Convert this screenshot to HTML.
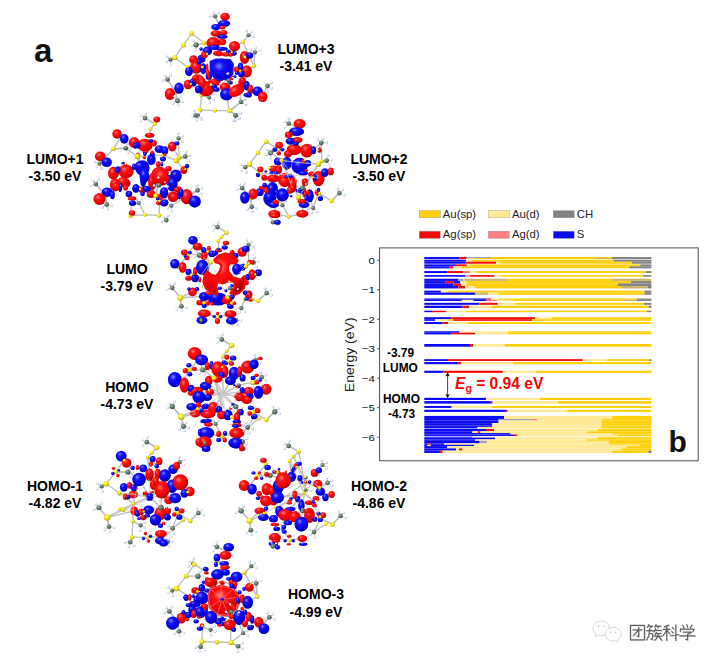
<!DOCTYPE html>
<html><head><meta charset="utf-8"><title>Figure</title>
<style>
html,body{margin:0;padding:0;background:#fff;}
body{width:718px;height:664px;overflow:hidden;font-family:"Liberation Sans",sans-serif;}
svg{display:block;}
text{font-family:"Liberation Sans",sans-serif;}
.lb{font-weight:bold;font-size:14px;fill:#000;text-anchor:middle;}
.tk{font-size:9.6px;fill:#111;text-anchor:end;}
.lg{font-size:10.4px;fill:#222;}
</style></head><body>
<svg width="718" height="664" viewBox="0 0 718 664">
<defs>
<radialGradient id="gR" cx="0.38" cy="0.32" r="0.75"><stop offset="0" stop-color="#ff7a6a"/><stop offset="0.28" stop-color="#fb1212"/><stop offset="0.7" stop-color="#e80000"/><stop offset="1" stop-color="#9c0000"/></radialGradient>
<radialGradient id="gB" cx="0.38" cy="0.32" r="0.75"><stop offset="0" stop-color="#7f86ff"/><stop offset="0.28" stop-color="#1414f6"/><stop offset="0.7" stop-color="#0000e0"/><stop offset="1" stop-color="#000088"/></radialGradient>
<radialGradient id="gY" cx="0.4" cy="0.35" r="0.7"><stop offset="0" stop-color="#ffff9a"/><stop offset="0.5" stop-color="#f4e40a"/><stop offset="1" stop-color="#a89a00"/></radialGradient>
<radialGradient id="gG" cx="0.4" cy="0.35" r="0.7"><stop offset="0" stop-color="#9fb3a4"/><stop offset="0.5" stop-color="#5f7a66"/><stop offset="1" stop-color="#2e4234"/></radialGradient>
<radialGradient id="gW" cx="0.4" cy="0.35" r="0.7"><stop offset="0" stop-color="#ffffff"/><stop offset="0.5" stop-color="#ececfb"/><stop offset="1" stop-color="#8c8cc8"/></radialGradient>
</defs>
<rect width="718" height="664" fill="#fff"/>

<g id="c1">
<g stroke="#bdbdbd" stroke-width="1.35" stroke-linecap="round" fill="none">
<path d="M191.63 33.43L183.49 45.18"/>
<path d="M183.49 45.18L174.82 57.47"/>
<path d="M174.82 57.47L187.11 66.87"/>
<path d="M191.63 33.43L204.28 43.01"/>
<path d="M200.12 109.88L215.12 110.6"/>
<path d="M215.12 110.6L229.04 110.6"/>
<path d="M200.12 109.88L201.57 94.88"/>
<path d="M229.04 110.6L226.87 94.88"/>
<path d="M242.77 41.93L234.46 46.08"/>
<path d="M242.77 41.93L253.98 65.96"/>
<path d="M253.98 65.96L246.75 71.39"/>
<path d="M215.12 16.27L219.64 27.11"/>
<path d="M175.36 91.27L167.59 79.52"/>
<path d="M175.36 91.27L177.17 100.3"/>
<path d="M262.65 96.69L267.53 85.84"/>
<path d="M201.57 94.88L209.16 97.59"/>
<path d="M241.33 102.11L239.52 92.17"/>
<path d="M215.12 16.27L219.64 27.11"/>
<path d="M215.12 16.27L209.92 16.13" stroke="#cfcfd8" stroke-width="1"/>
<path d="M215.12 16.27L213.35 12.02" stroke="#cfcfd8" stroke-width="1"/>
<path d="M215.12 16.27L218.68 12.48" stroke="#cfcfd8" stroke-width="1"/>
<path d="M196.14 44.82L204.28 43.01"/>
<path d="M196.14 44.82L195.1 49.91" stroke="#cfcfd8" stroke-width="1"/>
<path d="M196.14 44.82L191.65 45.82" stroke="#cfcfd8" stroke-width="1"/>
<path d="M196.14 44.82L193.04 40.65" stroke="#cfcfd8" stroke-width="1"/>
<path d="M170.48 59.64L174.82 57.47"/>
<path d="M170.48 59.64L170.7 64.83" stroke="#cfcfd8" stroke-width="1"/>
<path d="M170.48 59.64L166.37 61.7" stroke="#cfcfd8" stroke-width="1"/>
<path d="M170.48 59.64L166.46 56.34" stroke="#cfcfd8" stroke-width="1"/>
<path d="M167.59 79.52L175.36 91.27"/>
<path d="M167.59 79.52L162.46 80.37" stroke="#cfcfd8" stroke-width="1"/>
<path d="M167.59 79.52L165.05 75.68" stroke="#cfcfd8" stroke-width="1"/>
<path d="M167.59 79.52L170.38 75.13" stroke="#cfcfd8" stroke-width="1"/>
<path d="M177.17 100.3L175.36 91.27"/>
<path d="M177.17 100.3L182.24 101.45" stroke="#cfcfd8" stroke-width="1"/>
<path d="M177.17 100.3L178.07 104.81" stroke="#cfcfd8" stroke-width="1"/>
<path d="M177.17 100.3L172.93 103.31" stroke="#cfcfd8" stroke-width="1"/>
<path d="M248.55 35.24L242.77 41.93"/>
<path d="M248.55 35.24L246.35 30.53" stroke="#cfcfd8" stroke-width="1"/>
<path d="M248.55 35.24L251.56 31.76" stroke="#cfcfd8" stroke-width="1"/>
<path d="M248.55 35.24L253.53 36.74" stroke="#cfcfd8" stroke-width="1"/>
<path d="M254.88 52.41L253.98 65.96"/>
<path d="M254.88 52.41L250.28 49.97" stroke="#cfcfd8" stroke-width="1"/>
<path d="M254.88 52.41L255.19 47.82" stroke="#cfcfd8" stroke-width="1"/>
<path d="M254.88 52.41L259.76 50.61" stroke="#cfcfd8" stroke-width="1"/>
<path d="M267.53 85.84L271.66 82.69" stroke="#cfcfd8" stroke-width="1"/>
<path d="M267.53 85.84L271.57 88.04" stroke="#cfcfd8" stroke-width="1"/>
<path d="M267.53 85.84L267.13 91.03" stroke="#cfcfd8" stroke-width="1"/>
<path d="M241.33 102.11L229.04 110.6"/>
<path d="M241.33 102.11L240.37 97" stroke="#cfcfd8" stroke-width="1"/>
<path d="M241.33 102.11L245.11 99.49" stroke="#cfcfd8" stroke-width="1"/>
<path d="M241.33 102.11L245.77 104.81" stroke="#cfcfd8" stroke-width="1"/>
<path d="M209.16 97.59L201.57 94.88"/>
<path d="M209.16 97.59L212.75 93.83" stroke="#cfcfd8" stroke-width="1"/>
<path d="M209.16 97.59L213.49 99.14" stroke="#cfcfd8" stroke-width="1"/>
<path d="M209.16 97.59L209.56 102.77" stroke="#cfcfd8" stroke-width="1"/>
<path d="M197.95 115.66L200.12 109.88"/>
<path d="M197.95 115.66L201.65 119.32" stroke="#cfcfd8" stroke-width="1"/>
<path d="M197.95 115.66L196.34 119.97" stroke="#cfcfd8" stroke-width="1"/>
<path d="M197.95 115.66L192.76 115.98" stroke="#cfcfd8" stroke-width="1"/>
<path d="M235.9 115.3L229.04 110.6"/>
<path d="M235.9 115.3L240.34 112.58" stroke="#cfcfd8" stroke-width="1"/>
<path d="M235.9 115.3L239.7 117.9" stroke="#cfcfd8" stroke-width="1"/>
<path d="M235.9 115.3L234.98 120.42" stroke="#cfcfd8" stroke-width="1"/>
</g>
<circle cx="209.92" cy="16.13" r="1.45" fill="url(#gW)"/>
<circle cx="213.35" cy="12.02" r="1.45" fill="url(#gW)"/>
<circle cx="218.68" cy="12.48" r="1.45" fill="url(#gW)"/>
<circle cx="195.1" cy="49.91" r="1.45" fill="url(#gW)"/>
<circle cx="191.65" cy="45.82" r="1.45" fill="url(#gW)"/>
<circle cx="193.04" cy="40.65" r="1.45" fill="url(#gW)"/>
<circle cx="170.7" cy="64.83" r="1.45" fill="url(#gW)"/>
<circle cx="166.37" cy="61.7" r="1.45" fill="url(#gW)"/>
<circle cx="166.46" cy="56.34" r="1.45" fill="url(#gW)"/>
<circle cx="162.46" cy="80.37" r="1.45" fill="url(#gW)"/>
<circle cx="165.05" cy="75.68" r="1.45" fill="url(#gW)"/>
<circle cx="170.38" cy="75.13" r="1.45" fill="url(#gW)"/>
<circle cx="182.24" cy="101.45" r="1.45" fill="url(#gW)"/>
<circle cx="178.07" cy="104.81" r="1.45" fill="url(#gW)"/>
<circle cx="172.93" cy="103.31" r="1.45" fill="url(#gW)"/>
<circle cx="246.35" cy="30.53" r="1.45" fill="url(#gW)"/>
<circle cx="251.56" cy="31.76" r="1.45" fill="url(#gW)"/>
<circle cx="253.53" cy="36.74" r="1.45" fill="url(#gW)"/>
<circle cx="250.28" cy="49.97" r="1.45" fill="url(#gW)"/>
<circle cx="255.19" cy="47.82" r="1.45" fill="url(#gW)"/>
<circle cx="259.76" cy="50.61" r="1.45" fill="url(#gW)"/>
<circle cx="271.66" cy="82.69" r="1.45" fill="url(#gW)"/>
<circle cx="271.57" cy="88.04" r="1.45" fill="url(#gW)"/>
<circle cx="267.13" cy="91.03" r="1.45" fill="url(#gW)"/>
<circle cx="240.37" cy="97" r="1.45" fill="url(#gW)"/>
<circle cx="245.11" cy="99.49" r="1.45" fill="url(#gW)"/>
<circle cx="245.77" cy="104.81" r="1.45" fill="url(#gW)"/>
<circle cx="212.75" cy="93.83" r="1.45" fill="url(#gW)"/>
<circle cx="213.49" cy="99.14" r="1.45" fill="url(#gW)"/>
<circle cx="209.56" cy="102.77" r="1.45" fill="url(#gW)"/>
<circle cx="201.65" cy="119.32" r="1.45" fill="url(#gW)"/>
<circle cx="196.34" cy="119.97" r="1.45" fill="url(#gW)"/>
<circle cx="192.76" cy="115.98" r="1.45" fill="url(#gW)"/>
<circle cx="240.34" cy="112.58" r="1.45" fill="url(#gW)"/>
<circle cx="239.7" cy="117.9" r="1.45" fill="url(#gW)"/>
<circle cx="234.98" cy="120.42" r="1.45" fill="url(#gW)"/>
<circle cx="215.12" cy="16.27" r="2.11" fill="url(#gG)"/>
<circle cx="196.14" cy="44.82" r="2.58" fill="url(#gG)"/>
<circle cx="170.48" cy="59.64" r="2.11" fill="url(#gG)"/>
<circle cx="167.59" cy="79.52" r="2.35" fill="url(#gG)"/>
<circle cx="177.17" cy="100.3" r="2.11" fill="url(#gG)"/>
<circle cx="248.55" cy="35.24" r="2.11" fill="url(#gG)"/>
<circle cx="254.88" cy="52.41" r="2.11" fill="url(#gG)"/>
<circle cx="267.53" cy="85.84" r="2.35" fill="url(#gG)"/>
<circle cx="241.33" cy="102.11" r="2.11" fill="url(#gG)"/>
<circle cx="209.16" cy="97.59" r="1.88" fill="url(#gG)"/>
<circle cx="197.95" cy="115.66" r="2.11" fill="url(#gG)"/>
<circle cx="235.9" cy="115.3" r="2.11" fill="url(#gG)"/>
<circle cx="191.63" cy="33.43" r="2.35" fill="url(#gY)"/>
<circle cx="183.49" cy="45.18" r="2.35" fill="url(#gY)"/>
<circle cx="174.82" cy="57.47" r="2.58" fill="url(#gY)"/>
<circle cx="204.28" cy="43.01" r="2.35" fill="url(#gY)"/>
<circle cx="187.11" cy="66.87" r="2.11" fill="url(#gY)"/>
<circle cx="175.36" cy="91.27" r="2.11" fill="url(#gY)"/>
<circle cx="201.57" cy="94.88" r="2.35" fill="url(#gY)"/>
<circle cx="200.12" cy="109.88" r="2.35" fill="url(#gY)"/>
<circle cx="215.12" cy="110.6" r="2.11" fill="url(#gY)"/>
<circle cx="229.04" cy="110.6" r="2.35" fill="url(#gY)"/>
<circle cx="242.77" cy="41.93" r="2.11" fill="url(#gY)"/>
<circle cx="253.98" cy="65.96" r="2.11" fill="url(#gY)"/>
<circle cx="219.64" cy="27.11" r="1.64" fill="url(#gY)"/>
<circle cx="231.39" cy="51.51" r="1.64" fill="url(#gY)"/>
<circle cx="239.52" cy="70.48" r="1.64" fill="url(#gY)"/>
<circle cx="211.51" cy="84.94" r="1.88" fill="url(#gY)"/>
<ellipse cx="225.06" cy="16.63" rx="4.77" ry="3.9" fill="url(#gR)"/>
<ellipse cx="224.16" cy="23.49" rx="6.07" ry="3.47" fill="url(#gB)"/>
<ellipse cx="216.02" cy="27.11" rx="4.77" ry="3.04" fill="url(#gB)"/>
<ellipse cx="222.35" cy="27.47" rx="3.04" ry="1.95" fill="url(#gR)"/>
<ellipse cx="216.02" cy="33.43" rx="5.42" ry="3.25" fill="url(#gR)"/>
<ellipse cx="223.61" cy="32.53" rx="3.9" ry="2.6" fill="url(#gR)"/>
<ellipse cx="222.35" cy="36.69" rx="5.42" ry="2.17" fill="url(#gB)"/>
<ellipse cx="213.31" cy="43.01" rx="6.94" ry="6.07" fill="url(#gR)"/>
<ellipse cx="222.35" cy="41.93" rx="3.9" ry="3.25" fill="url(#gR)"/>
<ellipse cx="234.46" cy="46.08" rx="5.64" ry="5.2" fill="url(#gR)"/>
<ellipse cx="207.35" cy="50.96" rx="4.77" ry="4.34" fill="url(#gB)"/>
<ellipse cx="214.22" cy="47.35" rx="5.42" ry="2.6" fill="url(#gB)"/>
<ellipse cx="221.45" cy="48.8" rx="6.51" ry="2.17" fill="url(#gB)"/>
<ellipse cx="217.83" cy="53.31" rx="4.77" ry="2.6" fill="url(#gR)"/>
<ellipse cx="225.96" cy="54.22" rx="4.34" ry="2.17" fill="url(#gR)"/>
<ellipse cx="232.29" cy="53.31" rx="4.34" ry="2.6" fill="url(#gB)"/>
<ellipse cx="244.58" cy="57.47" rx="4.77" ry="6.51" fill="url(#gR)"/>
<ellipse cx="249.46" cy="55.66" rx="3.9" ry="3.04" fill="url(#gB)"/>
<ellipse cx="193.43" cy="59.64" rx="4.34" ry="4.34" fill="url(#gR)"/>
<ellipse cx="201.57" cy="58.73" rx="3.9" ry="3.9" fill="url(#gB)"/>
<ellipse cx="204.28" cy="54.22" rx="3.25" ry="2.6" fill="url(#gR)"/>
<ellipse cx="221.45" cy="68.31" rx="10.84" ry="9.76" fill="url(#gB)"/>
<ellipse cx="196.14" cy="67.23" rx="6.07" ry="6.51" fill="url(#gR)"/>
<ellipse cx="188.92" cy="71.39" rx="3.9" ry="4.77" fill="url(#gB)"/>
<ellipse cx="203.37" cy="68.67" rx="3.25" ry="5.42" fill="url(#gB)"/>
<ellipse cx="237.71" cy="69.58" rx="3.9" ry="3.25" fill="url(#gR)"/>
<ellipse cx="240.42" cy="65.96" rx="2.6" ry="3.25" fill="url(#gB)"/>
<ellipse cx="246.75" cy="71.39" rx="5.2" ry="6.07" fill="url(#gR)"/>
<ellipse cx="241.33" cy="74.1" rx="3.25" ry="3.25" fill="url(#gB)"/>
<ellipse cx="188.01" cy="84.58" rx="4.34" ry="4.77" fill="url(#gR)"/>
<ellipse cx="193.43" cy="82.23" rx="3.25" ry="4.34" fill="url(#gB)"/>
<ellipse cx="178.98" cy="88.19" rx="4.77" ry="5.64" fill="url(#gB)"/>
<ellipse cx="169.94" cy="93.98" rx="5.2" ry="6.07" fill="url(#gR)"/>
<ellipse cx="198.86" cy="79.52" rx="6.51" ry="4.77" fill="url(#gR)" transform="rotate(30 198.86 79.52)"/>
<ellipse cx="206.08" cy="88.55" rx="8.24" ry="7.59" fill="url(#gR)"/>
<ellipse cx="198.86" cy="89.46" rx="3.9" ry="3.9" fill="url(#gB)"/>
<ellipse cx="214.22" cy="81.69" rx="6.51" ry="2.6" fill="url(#gR)"/>
<ellipse cx="208.8" cy="75.9" rx="3.25" ry="3.9" fill="url(#gB)"/>
<ellipse cx="225.06" cy="87.11" rx="5.42" ry="4.34" fill="url(#gR)"/>
<ellipse cx="226.51" cy="94.34" rx="6.51" ry="6.07" fill="url(#gB)"/>
<ellipse cx="236.81" cy="90.36" rx="8.67" ry="5.64" fill="url(#gR)" transform="rotate(-30 236.81 90.36)"/>
<ellipse cx="242.23" cy="82.23" rx="3.9" ry="4.77" fill="url(#gR)"/>
<ellipse cx="246.75" cy="85.84" rx="3.04" ry="4.77" fill="url(#gB)"/>
<ellipse cx="250.36" cy="89.46" rx="3.04" ry="4.77" fill="url(#gR)"/>
<ellipse cx="257.59" cy="91.27" rx="5.2" ry="4.77" fill="url(#gB)"/>
<ellipse cx="262.65" cy="96.69" rx="4.77" ry="5.2" fill="url(#gR)"/>
<ellipse cx="248.55" cy="94.88" rx="3.25" ry="2.6" fill="url(#gB)"/>
<ellipse cx="201.08" cy="49.1" rx="1.81" ry="1.81" fill="url(#gB)"/>
<ellipse cx="201.69" cy="57.53" rx="1.81" ry="1.81" fill="url(#gB)"/>
<ellipse cx="204.7" cy="55.72" rx="3.01" ry="2.41" fill="url(#gR)"/>
<ellipse cx="216.14" cy="47.29" rx="3.01" ry="1.45" fill="url(#gB)"/>
<ellipse cx="219.16" cy="53.92" rx="3.01" ry="2.41" fill="url(#gR)"/>
<ellipse cx="216.14" cy="52.71" rx="2.41" ry="1.81" fill="url(#gR)"/>
<ellipse cx="228.19" cy="50.9" rx="2.41" ry="1.45" fill="url(#gB)"/>
<ellipse cx="230.6" cy="54.52" rx="2.17" ry="2.17" fill="url(#gR)"/>
<ellipse cx="234.82" cy="53.31" rx="1.81" ry="1.81" fill="url(#gB)"/>
<ellipse cx="199.28" cy="61.75" rx="2.41" ry="3.01" fill="url(#gB)"/>
<ellipse cx="203.49" cy="67.17" rx="1.81" ry="3.61" fill="url(#gB)"/>
<ellipse cx="207.11" cy="67.17" rx="1.2" ry="3.61" fill="url(#gR)"/>
<ellipse cx="249.88" cy="55.12" rx="3.01" ry="2.65" fill="url(#gB)"/>
<ellipse cx="240.84" cy="67.17" rx="2.41" ry="3.01" fill="url(#gB)"/>
<ellipse cx="237.23" cy="70.18" rx="2.17" ry="2.17" fill="url(#gR)"/>
<ellipse cx="236.63" cy="73.19" rx="1.81" ry="1.81" fill="url(#gB)"/>
<ellipse cx="231.81" cy="78.01" rx="1.81" ry="2.41" fill="url(#gR)"/>
<ellipse cx="234.82" cy="76.81" rx="1.81" ry="1.45" fill="url(#gB)"/>
<ellipse cx="192.05" cy="81.63" rx="2.41" ry="2.65" fill="url(#gB)"/>
<ellipse cx="195.66" cy="78.01" rx="3.61" ry="2.41" fill="url(#gR)"/>
<ellipse cx="202.29" cy="82.83" rx="3.61" ry="5.42" fill="url(#gR)"/>
<ellipse cx="198.07" cy="88.86" rx="3.01" ry="3.01" fill="url(#gB)"/>
<ellipse cx="214.34" cy="85.84" rx="3.01" ry="2.41" fill="url(#gB)"/>
<ellipse cx="216.14" cy="89.46" rx="3.61" ry="2.41" fill="url(#gB)"/>
<ellipse cx="207.95" cy="73.19" rx="1.69" ry="7.23" fill="url(#gR)" transform="rotate(-15 207.95 73.19)"/>
<ellipse cx="214.94" cy="83.07" rx="4.82" ry="1.45" fill="url(#gR)" transform="rotate(20 214.94 83.07)"/>
<ellipse cx="230.6" cy="82.83" rx="2.41" ry="1.81" fill="url(#gB)"/>
<ellipse cx="242.65" cy="80.42" rx="3.01" ry="3.61" fill="url(#gR)"/>
<ellipse cx="246.87" cy="85.24" rx="1.81" ry="3.61" fill="url(#gB)"/>
<ellipse cx="245.66" cy="94.88" rx="2.41" ry="1.81" fill="url(#gB)"/>
<polygon points="210.72,61.75 215.54,59.7 230,60.18 232.77,64.16 232.29,73.8 227.95,78.98 220,80.18 214.46,77.53 210.72,71.75" fill="url(#gB)" stroke="#1010e8" stroke-width="2.2" stroke-linejoin="round"/>
<circle cx="204.7" cy="42.47" r="1.45" fill="url(#gY)"/>
<circle cx="187.47" cy="66.57" r="1.57" fill="url(#gY)"/>
<circle cx="245.06" cy="57.29" r="1.45" fill="url(#gY)"/>
<circle cx="211.08" cy="84.64" r="1.45" fill="url(#gY)"/>
<circle cx="202.29" cy="67.17" r="1.33" fill="url(#gY)"/>
<circle cx="231.81" cy="52.11" r="1.2" fill="url(#gY)"/>
<circle cx="240.24" cy="70.78" r="1.2" fill="url(#gY)"/>
<circle cx="190.84" cy="84.04" r="1.2" fill="url(#gY)"/>
<circle cx="207.11" cy="53.92" r="1.2" fill="url(#gY)"/>
<circle cx="228.8" cy="80.66" r="2.17" fill="url(#gG)"/>
<circle cx="228.19" cy="73.43" r="1.2" fill="url(#gW)"/>
<circle cx="223.98" cy="81.27" r="1.2" fill="url(#gW)"/>
<circle cx="233.61" cy="78.01" r="0.96" fill="url(#gW)"/>
<circle cx="228.31" cy="80.42" r="1.99" fill="url(#gG)"/>
<circle cx="223.25" cy="81.69" r="1.08" fill="url(#gW)"/>
<circle cx="227.23" cy="73.73" r="1.08" fill="url(#gW)"/>
<circle cx="233.19" cy="77.71" r="0.9" fill="url(#gW)"/>
</g>
<g id="c2">
<g stroke="#bdbdbd" stroke-width="1.35" stroke-linecap="round" fill="none">
<path d="M121.2 136.14L113.43 148.8"/>
<path d="M113.43 148.8L103.49 159.64"/>
<path d="M113.43 148.8L125.72 148.25"/>
<path d="M137.47 156.39L125.72 148.25"/>
<path d="M137.47 156.39L163.49 155.12"/>
<path d="M163.49 155.12L176.69 160.54"/>
<path d="M176.69 160.54L185.18 156.39"/>
<path d="M179.04 157.47L178.49 138.31"/>
<path d="M130.6 215.66L145.06 214.76"/>
<path d="M145.06 214.76L159.16 215.3"/>
<path d="M130.6 215.66L131.51 201.2"/>
<path d="M159.16 215.3L159.52 201.2"/>
<path d="M145.06 118.07L155 123.86"/>
<path d="M155 123.86L150.48 128.92"/>
<path d="M150.48 128.92L148.67 136.14"/>
<path d="M105.3 195.42L95.9 184.04"/>
<path d="M105.3 195.42L106.75 204.46"/>
<path d="M137.47 156.39L142.35 184.94"/>
<path d="M137.47 156.39L155.9 195.42"/>
<path d="M163.49 155.12L155.9 195.42"/>
<path d="M186.63 196.69L197.47 190.36"/>
<path d="M176.69 160.54L183.92 170.12"/>
<path d="M172.17 146.63L179.04 157.47"/>
<path d="M145.06 118.07L155 123.86"/>
<path d="M145.06 118.07L140.84 121.11" stroke="#cfcfd8" stroke-width="1"/>
<path d="M145.06 118.07L141.08 115.76" stroke="#cfcfd8" stroke-width="1"/>
<path d="M145.06 118.07L145.61 112.9" stroke="#cfcfd8" stroke-width="1"/>
<path d="M178.49 138.31L178.01 133.14" stroke="#cfcfd8" stroke-width="1"/>
<path d="M178.49 138.31L182.5 136.06" stroke="#cfcfd8" stroke-width="1"/>
<path d="M178.49 138.31L182.67 141.41" stroke="#cfcfd8" stroke-width="1"/>
<path d="M185.18 156.39L179.04 157.47"/>
<path d="M185.18 156.39L186.45 151.34" stroke="#cfcfd8" stroke-width="1"/>
<path d="M185.18 156.39L189.71 155.59" stroke="#cfcfd8" stroke-width="1"/>
<path d="M185.18 156.39L188.1 160.69" stroke="#cfcfd8" stroke-width="1"/>
<path d="M125.72 148.25L113.43 148.8"/>
<path d="M125.72 148.25L127.64 143.42" stroke="#cfcfd8" stroke-width="1"/>
<path d="M125.72 148.25L130.32 148.05" stroke="#cfcfd8" stroke-width="1"/>
<path d="M125.72 148.25L128.05 152.9" stroke="#cfcfd8" stroke-width="1"/>
<path d="M99.52 163.61L103.49 159.64"/>
<path d="M99.52 163.61L101.37 168.47" stroke="#cfcfd8" stroke-width="1"/>
<path d="M99.52 163.61L96.27 166.87" stroke="#cfcfd8" stroke-width="1"/>
<path d="M99.52 163.61L94.66 161.76" stroke="#cfcfd8" stroke-width="1"/>
<path d="M95.9 184.04L105.3 195.42"/>
<path d="M95.9 184.04L90.89 185.42" stroke="#cfcfd8" stroke-width="1"/>
<path d="M95.9 184.04L92.98 180.49" stroke="#cfcfd8" stroke-width="1"/>
<path d="M95.9 184.04L98.21 179.38" stroke="#cfcfd8" stroke-width="1"/>
<path d="M106.75 204.46L105.3 195.42"/>
<path d="M106.75 204.46L111.77 205.81" stroke="#cfcfd8" stroke-width="1"/>
<path d="M106.75 204.46L107.47 209" stroke="#cfcfd8" stroke-width="1"/>
<path d="M106.75 204.46L102.4 207.31" stroke="#cfcfd8" stroke-width="1"/>
<path d="M138.73 203.01L145.06 214.76"/>
<path d="M138.73 203.01L133.55 203.39" stroke="#cfcfd8" stroke-width="1"/>
<path d="M138.73 203.01L136.55 198.96" stroke="#cfcfd8" stroke-width="1"/>
<path d="M138.73 203.01L141.91 198.89" stroke="#cfcfd8" stroke-width="1"/>
<path d="M197.47 190.36L183.92 198.49"/>
<path d="M197.47 190.36L196.85 185.2" stroke="#cfcfd8" stroke-width="1"/>
<path d="M197.47 190.36L201.41 187.99" stroke="#cfcfd8" stroke-width="1"/>
<path d="M197.47 190.36L201.73 193.34" stroke="#cfcfd8" stroke-width="1"/>
<path d="M171.27 205.72L183.92 198.49"/>
<path d="M171.27 205.72L171.78 210.9" stroke="#cfcfd8" stroke-width="1"/>
<path d="M171.27 205.72L167.27 208.01" stroke="#cfcfd8" stroke-width="1"/>
<path d="M171.27 205.72L167.07 202.66" stroke="#cfcfd8" stroke-width="1"/>
<path d="M177.59 100.9L174.73 96.56" stroke="#cfcfd8" stroke-width="1"/>
<path d="M177.59 100.9L180.06 97.02" stroke="#cfcfd8" stroke-width="1"/>
<path d="M177.59 100.9L182.74 101.66" stroke="#cfcfd8" stroke-width="1"/>
<path d="M195.66 115.36L194.35 110.33" stroke="#cfcfd8" stroke-width="1"/>
<path d="M195.66 115.36L199.25 112.48" stroke="#cfcfd8" stroke-width="1"/>
<path d="M195.66 115.36L200.29 117.74" stroke="#cfcfd8" stroke-width="1"/>
</g>
<circle cx="140.84" cy="121.11" r="1.45" fill="url(#gW)"/>
<circle cx="141.08" cy="115.76" r="1.45" fill="url(#gW)"/>
<circle cx="145.61" cy="112.9" r="1.45" fill="url(#gW)"/>
<circle cx="178.01" cy="133.14" r="1.45" fill="url(#gW)"/>
<circle cx="182.5" cy="136.06" r="1.45" fill="url(#gW)"/>
<circle cx="182.67" cy="141.41" r="1.45" fill="url(#gW)"/>
<circle cx="186.45" cy="151.34" r="1.45" fill="url(#gW)"/>
<circle cx="189.71" cy="155.59" r="1.45" fill="url(#gW)"/>
<circle cx="188.1" cy="160.69" r="1.45" fill="url(#gW)"/>
<circle cx="127.64" cy="143.42" r="1.45" fill="url(#gW)"/>
<circle cx="130.32" cy="148.05" r="1.45" fill="url(#gW)"/>
<circle cx="128.05" cy="152.9" r="1.45" fill="url(#gW)"/>
<circle cx="101.37" cy="168.47" r="1.45" fill="url(#gW)"/>
<circle cx="96.27" cy="166.87" r="1.45" fill="url(#gW)"/>
<circle cx="94.66" cy="161.76" r="1.45" fill="url(#gW)"/>
<circle cx="90.89" cy="185.42" r="1.45" fill="url(#gW)"/>
<circle cx="92.98" cy="180.49" r="1.45" fill="url(#gW)"/>
<circle cx="98.21" cy="179.38" r="1.45" fill="url(#gW)"/>
<circle cx="111.77" cy="205.81" r="1.45" fill="url(#gW)"/>
<circle cx="107.47" cy="209" r="1.45" fill="url(#gW)"/>
<circle cx="102.4" cy="207.31" r="1.45" fill="url(#gW)"/>
<circle cx="133.55" cy="203.39" r="1.45" fill="url(#gW)"/>
<circle cx="136.55" cy="198.96" r="1.45" fill="url(#gW)"/>
<circle cx="141.91" cy="198.89" r="1.45" fill="url(#gW)"/>
<circle cx="196.85" cy="185.2" r="1.45" fill="url(#gW)"/>
<circle cx="201.41" cy="187.99" r="1.45" fill="url(#gW)"/>
<circle cx="201.73" cy="193.34" r="1.45" fill="url(#gW)"/>
<circle cx="171.78" cy="210.9" r="1.45" fill="url(#gW)"/>
<circle cx="167.27" cy="208.01" r="1.45" fill="url(#gW)"/>
<circle cx="167.07" cy="202.66" r="1.45" fill="url(#gW)"/>
<circle cx="174.73" cy="96.56" r="1.45" fill="url(#gW)"/>
<circle cx="180.06" cy="97.02" r="1.45" fill="url(#gW)"/>
<circle cx="182.74" cy="101.66" r="1.45" fill="url(#gW)"/>
<circle cx="194.35" cy="110.33" r="1.45" fill="url(#gW)"/>
<circle cx="199.25" cy="112.48" r="1.45" fill="url(#gW)"/>
<circle cx="200.29" cy="117.74" r="1.45" fill="url(#gW)"/>
<circle cx="145.06" cy="118.07" r="2.35" fill="url(#gG)"/>
<circle cx="178.49" cy="138.31" r="2.11" fill="url(#gG)"/>
<circle cx="185.18" cy="156.39" r="2.35" fill="url(#gG)"/>
<circle cx="125.72" cy="148.25" r="2.35" fill="url(#gG)"/>
<circle cx="99.52" cy="163.61" r="2.11" fill="url(#gG)"/>
<circle cx="95.9" cy="184.04" r="2.35" fill="url(#gG)"/>
<circle cx="106.75" cy="204.46" r="2.35" fill="url(#gG)"/>
<circle cx="138.73" cy="203.01" r="2.11" fill="url(#gG)"/>
<circle cx="197.47" cy="190.36" r="2.35" fill="url(#gG)"/>
<circle cx="171.27" cy="205.72" r="2.11" fill="url(#gG)"/>
<circle cx="177.59" cy="100.9" r="2.35" fill="url(#gG)"/>
<circle cx="195.66" cy="115.36" r="2.35" fill="url(#gG)"/>
<circle cx="155" cy="123.86" r="2.11" fill="url(#gY)"/>
<circle cx="150.48" cy="128.92" r="1.88" fill="url(#gY)"/>
<circle cx="121.2" cy="136.14" r="1.88" fill="url(#gY)"/>
<circle cx="113.43" cy="148.8" r="2.35" fill="url(#gY)"/>
<circle cx="137.47" cy="156.39" r="2.82" fill="url(#gY)"/>
<circle cx="163.49" cy="155.12" r="2.11" fill="url(#gY)"/>
<circle cx="176.69" cy="160.54" r="2.58" fill="url(#gY)"/>
<circle cx="179.04" cy="157.47" r="2.11" fill="url(#gY)"/>
<circle cx="103.49" cy="159.64" r="2.11" fill="url(#gY)"/>
<circle cx="105.3" cy="195.42" r="2.35" fill="url(#gY)"/>
<circle cx="155.9" cy="195.42" r="2.58" fill="url(#gY)"/>
<circle cx="130.6" cy="215.66" r="2.35" fill="url(#gY)"/>
<circle cx="145.06" cy="214.76" r="2.11" fill="url(#gY)"/>
<circle cx="159.16" cy="215.3" r="2.35" fill="url(#gY)"/>
<circle cx="183.92" cy="198.49" r="1.88" fill="url(#gY)"/>
<circle cx="186.63" cy="168.67" r="1.64" fill="url(#gY)"/>
<ellipse cx="156.81" cy="119.52" rx="3.47" ry="3.04" fill="url(#gR)"/>
<ellipse cx="117.05" cy="133.98" rx="4.77" ry="4.77" fill="url(#gR)"/>
<ellipse cx="124.28" cy="138.86" rx="4.34" ry="4.77" fill="url(#gB)"/>
<ellipse cx="149.58" cy="135.24" rx="4.77" ry="2.6" fill="url(#gR)"/>
<ellipse cx="134.22" cy="142.47" rx="5.42" ry="5.42" fill="url(#gR)"/>
<ellipse cx="145.06" cy="145.18" rx="7.59" ry="6.51" fill="url(#gR)"/>
<ellipse cx="137.83" cy="145.18" rx="2.6" ry="3.25" fill="url(#gB)"/>
<ellipse cx="159.52" cy="149.16" rx="4.77" ry="3.9" fill="url(#gB)"/>
<ellipse cx="164.94" cy="150.6" rx="3.25" ry="4.34" fill="url(#gB)"/>
<ellipse cx="154.1" cy="143.37" rx="2.6" ry="3.25" fill="url(#gR)"/>
<ellipse cx="172.17" cy="146.63" rx="4.34" ry="4.77" fill="url(#gR)"/>
<ellipse cx="176.69" cy="143.37" rx="2.6" ry="2.17" fill="url(#gB)"/>
<ellipse cx="100.24" cy="156.39" rx="5.42" ry="4.77" fill="url(#gR)"/>
<ellipse cx="106.75" cy="162.35" rx="5.2" ry="4.77" fill="url(#gB)"/>
<ellipse cx="151.39" cy="159.64" rx="4.34" ry="5.42" fill="url(#gB)"/>
<ellipse cx="142.35" cy="167.77" rx="7.23" ry="7.59" fill="url(#gB)"/>
<ellipse cx="113.43" cy="173.19" rx="5.42" ry="6.33" fill="url(#gR)"/>
<ellipse cx="126.08" cy="171.39" rx="7.59" ry="6.87" fill="url(#gR)"/>
<ellipse cx="117.95" cy="169.58" rx="2.6" ry="3.25" fill="url(#gB)"/>
<ellipse cx="115.24" cy="184.94" rx="5.42" ry="6.51" fill="url(#gR)"/>
<ellipse cx="125.18" cy="183.13" rx="5.42" ry="4.34" fill="url(#gR)"/>
<ellipse cx="120.12" cy="186.75" rx="2.17" ry="5.42" fill="url(#gB)"/>
<ellipse cx="159.52" cy="174.1" rx="8.13" ry="7.23" fill="url(#gR)"/>
<ellipse cx="152.29" cy="181.33" rx="4.34" ry="8.67" fill="url(#gR)"/>
<ellipse cx="143.25" cy="179.52" rx="3.25" ry="7.59" fill="url(#gB)"/>
<ellipse cx="175.78" cy="175.9" rx="6.07" ry="6.51" fill="url(#gB)"/>
<ellipse cx="172.17" cy="184.94" rx="5.42" ry="6.51" fill="url(#gB)"/>
<ellipse cx="168.55" cy="168.67" rx="3.25" ry="2.6" fill="url(#gR)"/>
<ellipse cx="183.92" cy="170.12" rx="3.25" ry="3.9" fill="url(#gR)"/>
<ellipse cx="186.99" cy="165.96" rx="2.17" ry="2.17" fill="url(#gB)"/>
<ellipse cx="107.11" cy="192.17" rx="5.42" ry="4.77" fill="url(#gB)"/>
<ellipse cx="99.52" cy="199.04" rx="6.07" ry="6.07" fill="url(#gR)"/>
<ellipse cx="136.02" cy="188.55" rx="3.9" ry="4.34" fill="url(#gB)"/>
<ellipse cx="128.8" cy="193.98" rx="3.25" ry="3.25" fill="url(#gB)"/>
<ellipse cx="132.41" cy="198.49" rx="3.9" ry="2.17" fill="url(#gR)"/>
<ellipse cx="132.77" cy="203.37" rx="3.47" ry="2.6" fill="url(#gB)"/>
<ellipse cx="143.25" cy="190.36" rx="2.17" ry="3.25" fill="url(#gR)"/>
<ellipse cx="147.77" cy="189.46" rx="3.25" ry="3.25" fill="url(#gB)"/>
<ellipse cx="151.39" cy="193.98" rx="3.9" ry="3.9" fill="url(#gR)"/>
<ellipse cx="164.04" cy="193.07" rx="4.34" ry="5.42" fill="url(#gB)"/>
<ellipse cx="158.61" cy="196.69" rx="2.6" ry="2.6" fill="url(#gR)"/>
<ellipse cx="159.52" cy="203.01" rx="3.25" ry="2.17" fill="url(#gR)"/>
<ellipse cx="164.04" cy="203.37" rx="3.9" ry="3.25" fill="url(#gB)"/>
<ellipse cx="173.07" cy="196.69" rx="5.42" ry="5.42" fill="url(#gR)"/>
<ellipse cx="179.4" cy="193.98" rx="2.6" ry="5.42" fill="url(#gB)"/>
<ellipse cx="186.63" cy="196.69" rx="6.07" ry="7.59" fill="url(#gR)"/>
<ellipse cx="194.76" cy="201.57" rx="6.07" ry="6.07" fill="url(#gB)"/>
<ellipse cx="132.05" cy="212.95" rx="3.25" ry="2.6" fill="url(#gR)"/>
<ellipse cx="178.49" cy="189.46" rx="3.25" ry="3.25" fill="url(#gR)"/>
<ellipse cx="152.29" cy="154.22" rx="2.6" ry="2.17" fill="url(#gB)"/>
<ellipse cx="137.83" cy="154.22" rx="1.73" ry="1.73" fill="url(#gR)"/>
<ellipse cx="145.06" cy="152.41" rx="2.17" ry="2.17" fill="url(#gB)"/>
<ellipse cx="134.22" cy="166.87" rx="2.17" ry="3.25" fill="url(#gB)"/>
<ellipse cx="135.3" cy="145.66" rx="2.41" ry="3.01" fill="url(#gB)"/>
<ellipse cx="150.96" cy="140.84" rx="2.41" ry="1.81" fill="url(#gB)"/>
<ellipse cx="153.98" cy="143.86" rx="2.41" ry="2.41" fill="url(#gR)"/>
<ellipse cx="146.14" cy="151.69" rx="2.41" ry="1.45" fill="url(#gR)"/>
<ellipse cx="152.17" cy="152.29" rx="1.81" ry="1.81" fill="url(#gR)"/>
<ellipse cx="144.94" cy="154.1" rx="1.81" ry="1.81" fill="url(#gB)"/>
<ellipse cx="144.34" cy="157.71" rx="1.81" ry="1.45" fill="url(#gR)"/>
<ellipse cx="151.57" cy="158.92" rx="3.01" ry="3.01" fill="url(#gB)"/>
<ellipse cx="163.01" cy="158.92" rx="3.01" ry="2.41" fill="url(#gB)"/>
<ellipse cx="164.82" cy="154.7" rx="1.45" ry="1.45" fill="url(#gR)"/>
<ellipse cx="158.19" cy="164.34" rx="2.41" ry="3.01" fill="url(#gR)"/>
<ellipse cx="161.81" cy="164.34" rx="1.45" ry="2.41" fill="url(#gB)"/>
<ellipse cx="140.12" cy="166.14" rx="5.42" ry="4.82" fill="url(#gB)"/>
<ellipse cx="144.34" cy="175.78" rx="4.82" ry="7.23" fill="url(#gB)"/>
<ellipse cx="123.25" cy="181.81" rx="6.02" ry="4.82" fill="url(#gR)"/>
<ellipse cx="117.23" cy="170.36" rx="1.81" ry="3.01" fill="url(#gB)"/>
<ellipse cx="123.25" cy="163.13" rx="1.81" ry="1.45" fill="url(#gB)"/>
<ellipse cx="125.66" cy="164.34" rx="1.45" ry="1.2" fill="url(#gR)"/>
<ellipse cx="161.81" cy="176.99" rx="8.43" ry="8.67" fill="url(#gR)"/>
<ellipse cx="151.57" cy="181.81" rx="3.01" ry="6.02" fill="url(#gR)"/>
<ellipse cx="175.66" cy="175.18" rx="4.82" ry="4.82" fill="url(#gB)"/>
<ellipse cx="172.65" cy="183.01" rx="4.82" ry="5.42" fill="url(#gB)"/>
<ellipse cx="169.04" cy="175.18" rx="1.81" ry="1.81" fill="url(#gB)"/>
<ellipse cx="183.49" cy="170.36" rx="3.01" ry="2.65" fill="url(#gR)"/>
<ellipse cx="186.51" cy="166.14" rx="1.81" ry="1.45" fill="url(#gB)"/>
<ellipse cx="116.02" cy="186.63" rx="4.22" ry="4.22" fill="url(#gR)"/>
<ellipse cx="120.84" cy="186.63" rx="1.45" ry="3.61" fill="url(#gB)"/>
<ellipse cx="125.66" cy="187.83" rx="2.41" ry="3.01" fill="url(#gR)"/>
<ellipse cx="135.9" cy="187.83" rx="3.01" ry="3.61" fill="url(#gB)"/>
<ellipse cx="140.72" cy="189.64" rx="1.81" ry="3.01" fill="url(#gR)"/>
<ellipse cx="146.14" cy="189.04" rx="3.61" ry="3.01" fill="url(#gB)"/>
<ellipse cx="149.76" cy="194.46" rx="3.01" ry="3.01" fill="url(#gR)"/>
<ellipse cx="142.53" cy="193.86" rx="2.41" ry="2.41" fill="url(#gB)"/>
<ellipse cx="129.28" cy="193.86" rx="3.01" ry="2.41" fill="url(#gB)"/>
<ellipse cx="130.48" cy="198.67" rx="3.01" ry="1.45" fill="url(#gR)"/>
<ellipse cx="132.29" cy="202.89" rx="3.37" ry="2.41" fill="url(#gB)"/>
<ellipse cx="164.22" cy="191.45" rx="3.61" ry="4.22" fill="url(#gB)"/>
<ellipse cx="160.6" cy="198.67" rx="2.41" ry="1.81" fill="url(#gR)"/>
<ellipse cx="164.82" cy="202.29" rx="3.61" ry="3.01" fill="url(#gB)"/>
<ellipse cx="158.19" cy="202.89" rx="2.41" ry="1.45" fill="url(#gR)"/>
<ellipse cx="157.59" cy="198.67" rx="1.81" ry="1.81" fill="url(#gB)"/>
<ellipse cx="173.86" cy="196.87" rx="4.22" ry="4.22" fill="url(#gR)"/>
<ellipse cx="176.87" cy="189.64" rx="3.01" ry="2.41" fill="url(#gR)"/>
<ellipse cx="181.08" cy="192.65" rx="2.41" ry="4.22" fill="url(#gB)"/>
<ellipse cx="112.41" cy="195.06" rx="2.41" ry="4.22" fill="url(#gB)"/>
<circle cx="137.47" cy="156.27" r="2.41" fill="url(#gY)"/>
<circle cx="176.02" cy="160.72" r="2.17" fill="url(#gY)"/>
<circle cx="179.28" cy="157.71" r="1.2" fill="url(#gY)"/>
<circle cx="155.54" cy="195.66" r="2.41" fill="url(#gY)"/>
<circle cx="169.64" cy="173.98" r="1.2" fill="url(#gY)"/>
<circle cx="140.12" cy="189.04" r="1.2" fill="url(#gY)"/>
<circle cx="125.66" cy="163.73" r="1.2" fill="url(#gY)"/>
<circle cx="159.4" cy="201.08" r="1.2" fill="url(#gY)"/>
<circle cx="185.3" cy="169.16" r="1.2" fill="url(#gY)"/>
<circle cx="125.66" cy="148.07" r="1.93" fill="url(#gG)"/>
<circle cx="158.8" cy="185.42" r="2.41" fill="url(#gG)"/>
<circle cx="153.98" cy="185.66" r="1.2" fill="url(#gW)"/>
<circle cx="158.19" cy="177.59" r="1.2" fill="url(#gW)"/>
<circle cx="167.83" cy="186.39" r="1.2" fill="url(#gW)"/>
<circle cx="158.98" cy="184.94" r="2.17" fill="url(#gG)"/>
<circle cx="154.1" cy="185.3" r="1.08" fill="url(#gW)"/>
<circle cx="158.61" cy="177.71" r="1.08" fill="url(#gW)"/>
<circle cx="164.94" cy="182.23" r="0.9" fill="url(#gW)"/>
<circle cx="167.65" cy="186.75" r="0.9" fill="url(#gW)"/>
</g>
<g id="c3">
<g stroke="#bdbdbd" stroke-width="1.35" stroke-linecap="round" fill="none">
<path d="M266.14 141.57L258.01 152.77"/>
<path d="M258.01 152.77L249.52 164.16"/>
<path d="M249.52 164.16L245.36 167.23"/>
<path d="M249.52 164.16L259.82 173.19"/>
<path d="M266.14 141.57L278.43 149.16"/>
<path d="M270.66 152.77L281.51 160.54"/>
<path d="M281.51 160.54L318.55 164.16"/>
<path d="M318.55 164.16L326.69 160.54"/>
<path d="M321.81 161.08L321.27 142.83"/>
<path d="M321.27 142.83L313.49 150.24"/>
<path d="M274.28 213.86L288.73 216.57"/>
<path d="M288.73 216.57L302.29 213.86"/>
<path d="M250.78 197.59L242.29 188.01"/>
<path d="M250.78 197.59L251.69 206.63"/>
<path d="M318.55 193.07L331.57 200.84"/>
<path d="M331.57 200.84L339.34 193.07"/>
<path d="M281.51 160.54L292.35 184.04"/>
<path d="M281.51 160.54L298.31 197.59"/>
<path d="M318.55 164.16L298.31 197.59"/>
<path d="M318.55 164.16L302.29 188.01"/>
<path d="M259.82 173.19L292.35 175.9"/>
<path d="M313.13 208.07L309.52 197.59"/>
<path d="M274.28 213.86L275.18 206.63"/>
<path d="M302.29 213.86L303.19 206.63"/>
<path d="M288.73 123.49L298.67 128.01"/>
<path d="M288.73 123.49L284.84 126.94" stroke="#cfcfd8" stroke-width="1"/>
<path d="M288.73 123.49L284.55 121.59" stroke="#cfcfd8" stroke-width="1"/>
<path d="M288.73 123.49L288.77 118.29" stroke="#cfcfd8" stroke-width="1"/>
<path d="M321.27 142.83L318.55 150.6"/>
<path d="M321.27 142.83L317.48 139.26" stroke="#cfcfd8" stroke-width="1"/>
<path d="M321.27 142.83L322.78 138.49" stroke="#cfcfd8" stroke-width="1"/>
<path d="M321.27 142.83L326.45 142.39" stroke="#cfcfd8" stroke-width="1"/>
<path d="M326.69 160.54L321.81 161.08"/>
<path d="M326.69 160.54L328.27 155.59" stroke="#cfcfd8" stroke-width="1"/>
<path d="M326.69 160.54L331.26 160.03" stroke="#cfcfd8" stroke-width="1"/>
<path d="M326.69 160.54L329.32 165.02" stroke="#cfcfd8" stroke-width="1"/>
<path d="M270.66 152.77L278.43 149.16"/>
<path d="M270.66 152.77L270.74 157.97" stroke="#cfcfd8" stroke-width="1"/>
<path d="M270.66 152.77L266.49 154.71" stroke="#cfcfd8" stroke-width="1"/>
<path d="M270.66 152.77L266.73 149.36" stroke="#cfcfd8" stroke-width="1"/>
<path d="M245.36 167.23L249.52 164.16"/>
<path d="M245.36 167.23L246.47 172.31" stroke="#cfcfd8" stroke-width="1"/>
<path d="M245.36 167.23L241.66 169.96" stroke="#cfcfd8" stroke-width="1"/>
<path d="M245.36 167.23L240.83 164.67" stroke="#cfcfd8" stroke-width="1"/>
<path d="M242.29 188.01L250.78 197.59"/>
<path d="M242.29 188.01L237.33 189.57" stroke="#cfcfd8" stroke-width="1"/>
<path d="M242.29 188.01L239.24 184.57" stroke="#cfcfd8" stroke-width="1"/>
<path d="M242.29 188.01L244.43 183.27" stroke="#cfcfd8" stroke-width="1"/>
<path d="M251.69 206.63L250.78 197.59"/>
<path d="M251.69 206.63L256.62 208.27" stroke="#cfcfd8" stroke-width="1"/>
<path d="M251.69 206.63L252.14 211.2" stroke="#cfcfd8" stroke-width="1"/>
<path d="M251.69 206.63L247.18 209.21" stroke="#cfcfd8" stroke-width="1"/>
<path d="M282.41 205.18L288.73 216.57"/>
<path d="M282.41 205.18L277.23 205.63" stroke="#cfcfd8" stroke-width="1"/>
<path d="M282.41 205.18L280.18 201.16" stroke="#cfcfd8" stroke-width="1"/>
<path d="M282.41 205.18L285.53 201.02" stroke="#cfcfd8" stroke-width="1"/>
<path d="M339.34 193.07L331.57 200.84"/>
<path d="M339.34 193.07L337.48 188.21" stroke="#cfcfd8" stroke-width="1"/>
<path d="M339.34 193.07L342.59 189.82" stroke="#cfcfd8" stroke-width="1"/>
<path d="M339.34 193.07L344.2 194.93" stroke="#cfcfd8" stroke-width="1"/>
<path d="M313.13 208.07L318.55 193.07"/>
<path d="M313.13 208.07L316.87 211.68" stroke="#cfcfd8" stroke-width="1"/>
<path d="M313.13 208.07L311.57 212.4" stroke="#cfcfd8" stroke-width="1"/>
<path d="M313.13 208.07L307.95 208.46" stroke="#cfcfd8" stroke-width="1"/>
<path d="M240.84 101.81L230.9 110.84"/>
<path d="M240.84 101.81L239.22 96.87" stroke="#cfcfd8" stroke-width="1"/>
<path d="M240.84 101.81L244.25 98.71" stroke="#cfcfd8" stroke-width="1"/>
<path d="M240.84 101.81L245.61 103.89" stroke="#cfcfd8" stroke-width="1"/>
<path d="M235.42 115.36L230.9 110.84"/>
<path d="M235.42 115.36L240.28 113.51" stroke="#cfcfd8" stroke-width="1"/>
<path d="M235.42 115.36L238.67 118.61" stroke="#cfcfd8" stroke-width="1"/>
<path d="M235.42 115.36L233.57 120.22" stroke="#cfcfd8" stroke-width="1"/>
</g>
<circle cx="284.84" cy="126.94" r="1.45" fill="url(#gW)"/>
<circle cx="284.55" cy="121.59" r="1.45" fill="url(#gW)"/>
<circle cx="288.77" cy="118.29" r="1.45" fill="url(#gW)"/>
<circle cx="317.48" cy="139.26" r="1.45" fill="url(#gW)"/>
<circle cx="322.78" cy="138.49" r="1.45" fill="url(#gW)"/>
<circle cx="326.45" cy="142.39" r="1.45" fill="url(#gW)"/>
<circle cx="328.27" cy="155.59" r="1.45" fill="url(#gW)"/>
<circle cx="331.26" cy="160.03" r="1.45" fill="url(#gW)"/>
<circle cx="329.32" cy="165.02" r="1.45" fill="url(#gW)"/>
<circle cx="270.74" cy="157.97" r="1.45" fill="url(#gW)"/>
<circle cx="266.49" cy="154.71" r="1.45" fill="url(#gW)"/>
<circle cx="266.73" cy="149.36" r="1.45" fill="url(#gW)"/>
<circle cx="246.47" cy="172.31" r="1.45" fill="url(#gW)"/>
<circle cx="241.66" cy="169.96" r="1.45" fill="url(#gW)"/>
<circle cx="240.83" cy="164.67" r="1.45" fill="url(#gW)"/>
<circle cx="237.33" cy="189.57" r="1.45" fill="url(#gW)"/>
<circle cx="239.24" cy="184.57" r="1.45" fill="url(#gW)"/>
<circle cx="244.43" cy="183.27" r="1.45" fill="url(#gW)"/>
<circle cx="256.62" cy="208.27" r="1.45" fill="url(#gW)"/>
<circle cx="252.14" cy="211.2" r="1.45" fill="url(#gW)"/>
<circle cx="247.18" cy="209.21" r="1.45" fill="url(#gW)"/>
<circle cx="277.23" cy="205.63" r="1.45" fill="url(#gW)"/>
<circle cx="280.18" cy="201.16" r="1.45" fill="url(#gW)"/>
<circle cx="285.53" cy="201.02" r="1.45" fill="url(#gW)"/>
<circle cx="337.48" cy="188.21" r="1.45" fill="url(#gW)"/>
<circle cx="342.59" cy="189.82" r="1.45" fill="url(#gW)"/>
<circle cx="344.2" cy="194.93" r="1.45" fill="url(#gW)"/>
<circle cx="316.87" cy="211.68" r="1.45" fill="url(#gW)"/>
<circle cx="311.57" cy="212.4" r="1.45" fill="url(#gW)"/>
<circle cx="307.95" cy="208.46" r="1.45" fill="url(#gW)"/>
<circle cx="239.22" cy="96.87" r="1.45" fill="url(#gW)"/>
<circle cx="244.25" cy="98.71" r="1.45" fill="url(#gW)"/>
<circle cx="245.61" cy="103.89" r="1.45" fill="url(#gW)"/>
<circle cx="240.28" cy="113.51" r="1.45" fill="url(#gW)"/>
<circle cx="238.67" cy="118.61" r="1.45" fill="url(#gW)"/>
<circle cx="233.57" cy="120.22" r="1.45" fill="url(#gW)"/>
<circle cx="288.73" cy="123.49" r="2.35" fill="url(#gG)"/>
<circle cx="321.27" cy="142.83" r="2.35" fill="url(#gG)"/>
<circle cx="326.69" cy="160.54" r="2.35" fill="url(#gG)"/>
<circle cx="270.66" cy="152.77" r="2.58" fill="url(#gG)"/>
<circle cx="245.36" cy="167.23" r="2.11" fill="url(#gG)"/>
<circle cx="242.29" cy="188.01" r="2.35" fill="url(#gG)"/>
<circle cx="251.69" cy="206.63" r="2.35" fill="url(#gG)"/>
<circle cx="282.41" cy="205.18" r="2.11" fill="url(#gG)"/>
<circle cx="339.34" cy="193.07" r="2.35" fill="url(#gG)"/>
<circle cx="313.13" cy="208.07" r="2.11" fill="url(#gG)"/>
<circle cx="240.84" cy="101.81" r="2.11" fill="url(#gG)"/>
<circle cx="235.42" cy="115.36" r="2.35" fill="url(#gG)"/>
<circle cx="298.67" cy="128.01" r="1.88" fill="url(#gY)"/>
<circle cx="266.14" cy="141.57" r="2.35" fill="url(#gY)"/>
<circle cx="258.01" cy="152.77" r="2.35" fill="url(#gY)"/>
<circle cx="249.52" cy="164.16" r="2.58" fill="url(#gY)"/>
<circle cx="278.43" cy="149.16" r="2.11" fill="url(#gY)"/>
<circle cx="281.51" cy="160.54" r="2.82" fill="url(#gY)"/>
<circle cx="318.55" cy="164.16" r="2.58" fill="url(#gY)"/>
<circle cx="321.81" cy="161.08" r="1.88" fill="url(#gY)"/>
<circle cx="259.82" cy="173.19" r="2.11" fill="url(#gY)"/>
<circle cx="250.78" cy="197.59" r="2.58" fill="url(#gY)"/>
<circle cx="298.31" cy="197.59" r="2.58" fill="url(#gY)"/>
<circle cx="318.55" cy="193.07" r="2.11" fill="url(#gY)"/>
<circle cx="331.57" cy="200.84" r="2.35" fill="url(#gY)"/>
<circle cx="288.73" cy="216.57" r="2.11" fill="url(#gY)"/>
<circle cx="230.9" cy="110.84" r="1.41" fill="url(#gY)"/>
<circle cx="318.55" cy="150.6" r="1.64" fill="url(#gY)"/>
<circle cx="304.1" cy="159.64" r="1.88" fill="url(#gY)"/>
<circle cx="313.13" cy="176.81" r="1.88" fill="url(#gY)"/>
<ellipse cx="299.58" cy="123.86" rx="6.07" ry="4.77" fill="url(#gR)"/>
<ellipse cx="296.51" cy="131.63" rx="7.59" ry="4.34" fill="url(#gB)"/>
<ellipse cx="288.73" cy="134.7" rx="3.9" ry="3.25" fill="url(#gR)"/>
<ellipse cx="297.23" cy="140.12" rx="5.42" ry="3.04" fill="url(#gR)"/>
<ellipse cx="290.54" cy="141.2" rx="4.77" ry="3.47" fill="url(#gB)"/>
<ellipse cx="279.16" cy="145.18" rx="3.9" ry="3.47" fill="url(#gR)"/>
<ellipse cx="274.82" cy="149.7" rx="2.6" ry="2.17" fill="url(#gB)"/>
<ellipse cx="282.41" cy="149.7" rx="2.17" ry="1.73" fill="url(#gB)"/>
<ellipse cx="278.8" cy="153.31" rx="2.17" ry="2.17" fill="url(#gR)"/>
<ellipse cx="294.16" cy="149.7" rx="7.59" ry="5.42" fill="url(#gR)"/>
<ellipse cx="306.81" cy="150.6" rx="6.51" ry="6.87" fill="url(#gR)"/>
<ellipse cx="313.49" cy="150.24" rx="2.6" ry="3.9" fill="url(#gB)"/>
<ellipse cx="319.46" cy="150.24" rx="2.17" ry="2.6" fill="url(#gR)"/>
<ellipse cx="287.83" cy="153.86" rx="3.9" ry="3.25" fill="url(#gR)"/>
<ellipse cx="277.89" cy="161.45" rx="3.9" ry="3.9" fill="url(#gB)"/>
<ellipse cx="286.93" cy="163.25" rx="4.77" ry="6.51" fill="url(#gB)"/>
<ellipse cx="299.58" cy="165.96" rx="8.13" ry="8.13" fill="url(#gB)"/>
<ellipse cx="307.71" cy="163.25" rx="3.25" ry="3.25" fill="url(#gB)"/>
<ellipse cx="303.19" cy="161.45" rx="2.17" ry="2.17" fill="url(#gR)"/>
<ellipse cx="260.36" cy="169.58" rx="3.04" ry="3.04" fill="url(#gR)"/>
<ellipse cx="258.01" cy="175" rx="2.17" ry="2.17" fill="url(#gB)"/>
<ellipse cx="264.34" cy="177.71" rx="3.04" ry="3.04" fill="url(#gR)"/>
<ellipse cx="273.37" cy="168.67" rx="4.34" ry="3.25" fill="url(#gR)"/>
<ellipse cx="278.8" cy="169.58" rx="3.25" ry="4.34" fill="url(#gR)"/>
<ellipse cx="271.57" cy="172.65" rx="2.17" ry="1.73" fill="url(#gB)"/>
<ellipse cx="273.37" cy="178.61" rx="6.51" ry="3.9" fill="url(#gR)"/>
<ellipse cx="284.22" cy="179.52" rx="6.51" ry="6.51" fill="url(#gR)"/>
<ellipse cx="292.35" cy="184.04" rx="4.77" ry="8.67" fill="url(#gR)"/>
<ellipse cx="289.64" cy="175.9" rx="3.25" ry="2.17" fill="url(#gB)"/>
<ellipse cx="318.55" cy="178.61" rx="6.07" ry="7.59" fill="url(#gR)"/>
<ellipse cx="311.33" cy="174.1" rx="3.25" ry="2.6" fill="url(#gR)"/>
<ellipse cx="324.88" cy="172.65" rx="3.9" ry="4.34" fill="url(#gB)"/>
<ellipse cx="330.84" cy="171.39" rx="3.04" ry="3.9" fill="url(#gR)"/>
<ellipse cx="314.94" cy="177.71" rx="2.17" ry="3.25" fill="url(#gB)"/>
<ellipse cx="305" cy="182.23" rx="3.25" ry="3.9" fill="url(#gR)"/>
<ellipse cx="266.14" cy="188.55" rx="4.34" ry="3.9" fill="url(#gR)"/>
<ellipse cx="272.47" cy="188.55" rx="5.42" ry="6.51" fill="url(#gB)"/>
<ellipse cx="259.82" cy="192.17" rx="3.9" ry="3.9" fill="url(#gB)"/>
<ellipse cx="253.13" cy="193.98" rx="4.77" ry="5.42" fill="url(#gR)"/>
<ellipse cx="244.82" cy="197.59" rx="4.77" ry="6.07" fill="url(#gB)"/>
<ellipse cx="282.41" cy="194.88" rx="6.51" ry="6.51" fill="url(#gB)"/>
<ellipse cx="269.76" cy="198.49" rx="6.51" ry="7.59" fill="url(#gB)"/>
<ellipse cx="273.37" cy="204.82" rx="5.42" ry="3.25" fill="url(#gB)"/>
<ellipse cx="276.08" cy="202.11" rx="3.25" ry="2.17" fill="url(#gR)"/>
<ellipse cx="274.28" cy="213.86" rx="6.07" ry="3.9" fill="url(#gR)"/>
<ellipse cx="302.29" cy="213.86" rx="6.07" ry="3.9" fill="url(#gR)"/>
<ellipse cx="309.52" cy="195.78" rx="4.34" ry="6.51" fill="url(#gB)"/>
<ellipse cx="305" cy="193.98" rx="2.6" ry="3.25" fill="url(#gR)"/>
<ellipse cx="304.1" cy="204.82" rx="5.42" ry="3.25" fill="url(#gB)"/>
<ellipse cx="301.39" cy="201.2" rx="3.9" ry="2.17" fill="url(#gR)"/>
<ellipse cx="299.58" cy="190.36" rx="3.9" ry="2.6" fill="url(#gB)"/>
<ellipse cx="316.75" cy="192.17" rx="2.17" ry="2.17" fill="url(#gR)"/>
<ellipse cx="318.55" cy="189.46" rx="1.73" ry="1.73" fill="url(#gB)"/>
<ellipse cx="320.36" cy="198.49" rx="2.6" ry="2.6" fill="url(#gB)"/>
<ellipse cx="262.53" cy="100" rx="3.9" ry="1.73" fill="url(#gR)"/>
<ellipse cx="297.77" cy="140.06" rx="4.22" ry="2.41" fill="url(#gR)"/>
<ellipse cx="295.96" cy="143.67" rx="3.01" ry="1.81" fill="url(#gB)"/>
<ellipse cx="274.88" cy="149.7" rx="1.81" ry="1.45" fill="url(#gB)"/>
<ellipse cx="282.11" cy="149.7" rx="1.45" ry="1.2" fill="url(#gB)"/>
<ellipse cx="278.49" cy="153.31" rx="1.81" ry="1.45" fill="url(#gR)"/>
<ellipse cx="288.13" cy="153.92" rx="3.37" ry="3.37" fill="url(#gR)"/>
<ellipse cx="313.43" cy="150.3" rx="2.41" ry="3.61" fill="url(#gB)"/>
<ellipse cx="319.46" cy="149.7" rx="1.81" ry="2.17" fill="url(#gR)"/>
<ellipse cx="308.01" cy="163.55" rx="3.01" ry="3.01" fill="url(#gB)"/>
<ellipse cx="303.19" cy="173.19" rx="4.82" ry="2.41" fill="url(#gB)"/>
<ellipse cx="303.8" cy="161.14" rx="1.45" ry="1.45" fill="url(#gR)"/>
<ellipse cx="306.2" cy="170.18" rx="1.81" ry="1.2" fill="url(#gR)"/>
<ellipse cx="258.01" cy="174.4" rx="1.45" ry="1.45" fill="url(#gB)"/>
<ellipse cx="264.04" cy="177.41" rx="2.17" ry="1.81" fill="url(#gR)"/>
<ellipse cx="265.84" cy="171.39" rx="1.45" ry="1.2" fill="url(#gB)"/>
<ellipse cx="278.49" cy="169.58" rx="2.41" ry="3.61" fill="url(#gR)"/>
<ellipse cx="276.08" cy="173.19" rx="2.41" ry="1.81" fill="url(#gB)"/>
<ellipse cx="273.07" cy="178.01" rx="5.42" ry="3.01" fill="url(#gR)"/>
<ellipse cx="284.52" cy="181.63" rx="5.42" ry="5.42" fill="url(#gR)"/>
<ellipse cx="292.35" cy="184.04" rx="3.61" ry="7.23" fill="url(#gR)"/>
<ellipse cx="289.94" cy="190.06" rx="3.01" ry="3.61" fill="url(#gR)"/>
<ellipse cx="291.14" cy="176.2" rx="2.41" ry="1.45" fill="url(#gB)"/>
<ellipse cx="286.33" cy="176.81" rx="1.81" ry="1.2" fill="url(#gB)"/>
<ellipse cx="311.63" cy="173.8" rx="2.41" ry="2.41" fill="url(#gR)"/>
<ellipse cx="314.64" cy="176.81" rx="1.45" ry="2.41" fill="url(#gB)"/>
<ellipse cx="305" cy="181.63" rx="2.41" ry="3.01" fill="url(#gR)"/>
<ellipse cx="304.4" cy="190.06" rx="1.81" ry="2.41" fill="url(#gR)"/>
<ellipse cx="264.64" cy="185.24" rx="2.41" ry="2.41" fill="url(#gB)"/>
<ellipse cx="271.87" cy="188.86" rx="4.22" ry="5.42" fill="url(#gB)"/>
<ellipse cx="266.45" cy="190.66" rx="2.17" ry="3.01" fill="url(#gR)"/>
<ellipse cx="260.42" cy="187.65" rx="1.81" ry="1.81" fill="url(#gR)"/>
<ellipse cx="282.71" cy="194.88" rx="5.42" ry="5.42" fill="url(#gB)"/>
<ellipse cx="269.46" cy="197.29" rx="4.82" ry="4.82" fill="url(#gB)"/>
<ellipse cx="276.69" cy="192.47" rx="2.41" ry="3.01" fill="url(#gB)"/>
<ellipse cx="274.88" cy="201.51" rx="2.41" ry="1.81" fill="url(#gR)"/>
<ellipse cx="309.82" cy="196.08" rx="3.37" ry="5.42" fill="url(#gB)"/>
<ellipse cx="308.01" cy="192.47" rx="1.45" ry="2.41" fill="url(#gR)"/>
<ellipse cx="301.99" cy="192.47" rx="1.81" ry="1.81" fill="url(#gB)"/>
<ellipse cx="306.2" cy="198.49" rx="1.81" ry="3.01" fill="url(#gB)"/>
<ellipse cx="317.05" cy="194.28" rx="1.45" ry="1.45" fill="url(#gR)"/>
<ellipse cx="318.86" cy="190.66" rx="1.2" ry="1.2" fill="url(#gB)"/>
<ellipse cx="320.66" cy="197.29" rx="1.81" ry="1.81" fill="url(#gB)"/>
<ellipse cx="302.59" cy="201.51" rx="3.01" ry="1.81" fill="url(#gR)"/>
<ellipse cx="291.14" cy="196.08" rx="1.45" ry="1.2" fill="url(#gB)"/>
<path d="M281.51 160.54L318.25 164.52" stroke="#cccccc" stroke-width="0.75" stroke-linecap="round"/>
<path d="M281.51 160.54L292.35 187.65" stroke="#cccccc" stroke-width="0.75" stroke-linecap="round"/>
<path d="M318.25 164.52L298.98 197.29" stroke="#cccccc" stroke-width="0.75" stroke-linecap="round"/>
<path d="M261.02 173.8L294.76 175" stroke="#cccccc" stroke-width="0.75" stroke-linecap="round"/>
<path d="M294.76 175L317.65 178.01" stroke="#cccccc" stroke-width="0.75" stroke-linecap="round"/>
<path d="M281.51 160.54L302.59 187.65" stroke="#cccccc" stroke-width="0.75" stroke-linecap="round"/>
<path d="M294.76 175L298.98 197.29" stroke="#cccccc" stroke-width="0.75" stroke-linecap="round"/>
<path d="M270.42 152.71L281.51 160.54" stroke="#cccccc" stroke-width="0.75" stroke-linecap="round"/>
<circle cx="278.49" cy="149.7" r="1.33" fill="url(#gY)"/>
<circle cx="281.51" cy="160.54" r="2.17" fill="url(#gY)"/>
<circle cx="318.25" cy="164.52" r="1.93" fill="url(#gY)"/>
<circle cx="321.63" cy="161.14" r="1.33" fill="url(#gY)"/>
<circle cx="269.46" cy="167.77" r="1.45" fill="url(#gY)"/>
<circle cx="261.02" cy="173.8" r="1.45" fill="url(#gY)"/>
<circle cx="298.98" cy="197.29" r="1.93" fill="url(#gY)"/>
<circle cx="319.46" cy="193.43" r="1.45" fill="url(#gY)"/>
<circle cx="317.65" cy="150.3" r="1.2" fill="url(#gY)"/>
<circle cx="305" cy="159.94" r="1.2" fill="url(#gY)"/>
<circle cx="312.83" cy="177.41" r="1.2" fill="url(#gY)"/>
<circle cx="302.59" cy="187.65" r="2.17" fill="url(#gG)"/>
<circle cx="300.78" cy="180.42" r="1.08" fill="url(#gW)"/>
<circle cx="297.77" cy="188.25" r="1.08" fill="url(#gW)"/>
<circle cx="302.29" cy="188.01" r="2.17" fill="url(#gG)"/>
<circle cx="297.77" cy="188.55" r="0.9" fill="url(#gW)"/>
<circle cx="305.9" cy="184.04" r="0.9" fill="url(#gW)"/>
</g>
<g id="c4">
<g stroke="#bdbdbd" stroke-width="1.35" stroke-linecap="round" fill="none">
<path d="M217.47 227.11L226.51 232.53"/>
<path d="M226.51 232.53L221.45 237.05"/>
<path d="M221.45 237.05L218.19 241.2"/>
<path d="M218.19 241.2L218.73 250.24"/>
<path d="M195.24 243.92L188.01 253.86"/>
<path d="M188.01 253.86L178.98 266.51"/>
<path d="M188.01 253.86L199.4 255.12"/>
<path d="M199.4 255.12L210.6 262.35"/>
<path d="M245.3 266.51L253.43 262.35"/>
<path d="M248.55 263.43L248.55 244.82"/>
<path d="M180.24 297.77L172.29 287.83"/>
<path d="M180.24 297.77L181.33 306.27"/>
<path d="M180.24 297.77L192.53 291.81"/>
<path d="M180.24 297.77L204.28 296.33"/>
<path d="M258.13 300.84L266.63 293.07"/>
<path d="M258.13 300.84L244.94 299.04"/>
<path d="M204.28 313.49L217.47 317.11"/>
<path d="M217.47 317.11L230.48 314.04"/>
<path d="M241.33 308.07L244.94 299.04"/>
<path d="M210.6 262.35L202.47 287.29"/>
<path d="M245.3 266.51L232.29 269.22"/>
<path d="M217.47 227.11L226.51 232.53"/>
<path d="M217.47 227.11L213.21 230.09" stroke="#cfcfd8" stroke-width="1"/>
<path d="M217.47 227.11L213.53 224.74" stroke="#cfcfd8" stroke-width="1"/>
<path d="M217.47 227.11L218.09 221.95" stroke="#cfcfd8" stroke-width="1"/>
<path d="M248.55 244.82L246.57 240.01" stroke="#cfcfd8" stroke-width="1"/>
<path d="M248.55 244.82L251.72 241.48" stroke="#cfcfd8" stroke-width="1"/>
<path d="M248.55 244.82L253.46 246.54" stroke="#cfcfd8" stroke-width="1"/>
<path d="M253.43 262.35L248.55 263.43"/>
<path d="M253.43 262.35L254.48 257.26" stroke="#cfcfd8" stroke-width="1"/>
<path d="M253.43 262.35L257.92 261.35" stroke="#cfcfd8" stroke-width="1"/>
<path d="M253.43 262.35L256.54 266.52" stroke="#cfcfd8" stroke-width="1"/>
<path d="M199.4 255.12L207.35 252.41"/>
<path d="M199.4 255.12L198.92 260.3" stroke="#cfcfd8" stroke-width="1"/>
<path d="M199.4 255.12L195.04 256.6" stroke="#cfcfd8" stroke-width="1"/>
<path d="M199.4 255.12L195.86 251.31" stroke="#cfcfd8" stroke-width="1"/>
<path d="M172.29 287.83L180.24 297.77"/>
<path d="M172.29 287.83L167.26 289.14" stroke="#cfcfd8" stroke-width="1"/>
<path d="M172.29 287.83L169.42 284.24" stroke="#cfcfd8" stroke-width="1"/>
<path d="M172.29 287.83L174.67 283.21" stroke="#cfcfd8" stroke-width="1"/>
<path d="M181.33 306.27L180.24 297.77"/>
<path d="M181.33 306.27L186.3 307.77" stroke="#cfcfd8" stroke-width="1"/>
<path d="M181.33 306.27L181.91 310.83" stroke="#cfcfd8" stroke-width="1"/>
<path d="M181.33 306.27L176.89 308.97" stroke="#cfcfd8" stroke-width="1"/>
<path d="M266.63 293.07L258.13 300.84"/>
<path d="M266.63 293.07L264.99 288.14" stroke="#cfcfd8" stroke-width="1"/>
<path d="M266.63 293.07L270.02 289.97" stroke="#cfcfd8" stroke-width="1"/>
<path d="M266.63 293.07L271.4 295.14" stroke="#cfcfd8" stroke-width="1"/>
<path d="M241.33 308.07L244.94 299.04"/>
<path d="M241.33 308.07L244.94 311.81" stroke="#cfcfd8" stroke-width="1"/>
<path d="M241.33 308.07L239.62 312.34" stroke="#cfcfd8" stroke-width="1"/>
<path d="M241.33 308.07L236.13 308.28" stroke="#cfcfd8" stroke-width="1"/>
<path d="M235.9 320.36L241.09 320.8" stroke="#cfcfd8" stroke-width="1"/>
<path d="M235.9 320.36L237.43 324.7" stroke="#cfcfd8" stroke-width="1"/>
<path d="M235.9 320.36L232.13 323.94" stroke="#cfcfd8" stroke-width="1"/>
<path d="M166.33 220.06L161.45 221.86" stroke="#cfcfd8" stroke-width="1"/>
<path d="M166.33 220.06L163.11 216.77" stroke="#cfcfd8" stroke-width="1"/>
<path d="M166.33 220.06L168.24 215.22" stroke="#cfcfd8" stroke-width="1"/>
<path d="M272.95 222.23L271.11 217.37" stroke="#cfcfd8" stroke-width="1"/>
<path d="M272.95 222.23L276.21 218.98" stroke="#cfcfd8" stroke-width="1"/>
<path d="M272.95 222.23L277.81 224.09" stroke="#cfcfd8" stroke-width="1"/>
</g>
<circle cx="213.21" cy="230.09" r="1.45" fill="url(#gW)"/>
<circle cx="213.53" cy="224.74" r="1.45" fill="url(#gW)"/>
<circle cx="218.09" cy="221.95" r="1.45" fill="url(#gW)"/>
<circle cx="246.57" cy="240.01" r="1.45" fill="url(#gW)"/>
<circle cx="251.72" cy="241.48" r="1.45" fill="url(#gW)"/>
<circle cx="253.46" cy="246.54" r="1.45" fill="url(#gW)"/>
<circle cx="254.48" cy="257.26" r="1.45" fill="url(#gW)"/>
<circle cx="257.92" cy="261.35" r="1.45" fill="url(#gW)"/>
<circle cx="256.54" cy="266.52" r="1.45" fill="url(#gW)"/>
<circle cx="198.92" cy="260.3" r="1.45" fill="url(#gW)"/>
<circle cx="195.04" cy="256.6" r="1.45" fill="url(#gW)"/>
<circle cx="195.86" cy="251.31" r="1.45" fill="url(#gW)"/>
<circle cx="167.26" cy="289.14" r="1.45" fill="url(#gW)"/>
<circle cx="169.42" cy="284.24" r="1.45" fill="url(#gW)"/>
<circle cx="174.67" cy="283.21" r="1.45" fill="url(#gW)"/>
<circle cx="186.3" cy="307.77" r="1.45" fill="url(#gW)"/>
<circle cx="181.91" cy="310.83" r="1.45" fill="url(#gW)"/>
<circle cx="176.89" cy="308.97" r="1.45" fill="url(#gW)"/>
<circle cx="264.99" cy="288.14" r="1.45" fill="url(#gW)"/>
<circle cx="270.02" cy="289.97" r="1.45" fill="url(#gW)"/>
<circle cx="271.4" cy="295.14" r="1.45" fill="url(#gW)"/>
<circle cx="244.94" cy="311.81" r="1.45" fill="url(#gW)"/>
<circle cx="239.62" cy="312.34" r="1.45" fill="url(#gW)"/>
<circle cx="236.13" cy="308.28" r="1.45" fill="url(#gW)"/>
<circle cx="241.09" cy="320.8" r="1.45" fill="url(#gW)"/>
<circle cx="237.43" cy="324.7" r="1.45" fill="url(#gW)"/>
<circle cx="232.13" cy="323.94" r="1.45" fill="url(#gW)"/>
<circle cx="161.45" cy="221.86" r="1.45" fill="url(#gW)"/>
<circle cx="163.11" cy="216.77" r="1.45" fill="url(#gW)"/>
<circle cx="168.24" cy="215.22" r="1.45" fill="url(#gW)"/>
<circle cx="271.11" cy="217.37" r="1.45" fill="url(#gW)"/>
<circle cx="276.21" cy="218.98" r="1.45" fill="url(#gW)"/>
<circle cx="277.81" cy="224.09" r="1.45" fill="url(#gW)"/>
<circle cx="217.47" cy="227.11" r="2.35" fill="url(#gG)"/>
<circle cx="248.55" cy="244.82" r="2.11" fill="url(#gG)"/>
<circle cx="253.43" cy="262.35" r="2.35" fill="url(#gG)"/>
<circle cx="199.4" cy="255.12" r="2.58" fill="url(#gG)"/>
<circle cx="172.29" cy="287.83" r="2.35" fill="url(#gG)"/>
<circle cx="181.33" cy="306.27" r="2.35" fill="url(#gG)"/>
<circle cx="266.63" cy="293.07" r="2.35" fill="url(#gG)"/>
<circle cx="241.33" cy="308.07" r="2.11" fill="url(#gG)"/>
<circle cx="235.9" cy="320.36" r="2.35" fill="url(#gG)"/>
<circle cx="166.33" cy="220.06" r="2.35" fill="url(#gG)"/>
<circle cx="272.95" cy="222.23" r="2.35" fill="url(#gG)"/>
<circle cx="226.51" cy="232.53" r="2.35" fill="url(#gY)"/>
<circle cx="221.45" cy="237.05" r="1.88" fill="url(#gY)"/>
<circle cx="218.19" cy="241.2" r="1.88" fill="url(#gY)"/>
<circle cx="195.24" cy="243.92" r="1.88" fill="url(#gY)"/>
<circle cx="188.01" cy="253.86" r="2.11" fill="url(#gY)"/>
<circle cx="207.35" cy="252.41" r="1.88" fill="url(#gY)"/>
<circle cx="178.98" cy="266.51" r="2.58" fill="url(#gY)"/>
<circle cx="190.72" cy="274.28" r="2.11" fill="url(#gY)"/>
<circle cx="245.3" cy="266.51" r="2.58" fill="url(#gY)"/>
<circle cx="248.55" cy="263.43" r="2.11" fill="url(#gY)"/>
<circle cx="180.24" cy="297.77" r="3.05" fill="url(#gY)"/>
<circle cx="244.94" cy="299.04" r="2.11" fill="url(#gY)"/>
<circle cx="251.81" cy="299.94" r="2.11" fill="url(#gY)"/>
<circle cx="258.13" cy="300.84" r="2.35" fill="url(#gY)"/>
<circle cx="217.47" cy="317.11" r="2.35" fill="url(#gY)"/>
<ellipse cx="192.89" cy="240.3" rx="4.77" ry="4.34" fill="url(#gB)"/>
<ellipse cx="197.59" cy="246.63" rx="4.77" ry="3.9" fill="url(#gR)"/>
<ellipse cx="203.37" cy="249.7" rx="2.6" ry="2.6" fill="url(#gB)"/>
<ellipse cx="208.8" cy="248.43" rx="2.17" ry="2.6" fill="url(#gR)"/>
<ellipse cx="184.4" cy="252.59" rx="3.47" ry="3.04" fill="url(#gR)"/>
<ellipse cx="189.82" cy="252.59" rx="2.17" ry="1.73" fill="url(#gB)"/>
<ellipse cx="187.11" cy="258.01" rx="2.6" ry="2.17" fill="url(#gR)"/>
<ellipse cx="185.3" cy="256.2" rx="1.52" ry="1.52" fill="url(#gB)"/>
<ellipse cx="204.28" cy="255.66" rx="3.25" ry="4.34" fill="url(#gR)"/>
<ellipse cx="212.05" cy="253.86" rx="3.9" ry="3.25" fill="url(#gB)"/>
<ellipse cx="225.96" cy="243.01" rx="3.25" ry="2.17" fill="url(#gR)"/>
<ellipse cx="224.7" cy="247.53" rx="3.04" ry="2.17" fill="url(#gB)"/>
<ellipse cx="218.73" cy="250.24" rx="3.25" ry="2.17" fill="url(#gR)"/>
<ellipse cx="242.23" cy="252.05" rx="4.77" ry="4.77" fill="url(#gR)"/>
<ellipse cx="245.84" cy="248.98" rx="3.9" ry="3.25" fill="url(#gB)"/>
<ellipse cx="232.29" cy="252.95" rx="2.6" ry="2.6" fill="url(#gR)"/>
<ellipse cx="235.9" cy="255.66" rx="2.6" ry="2.6" fill="url(#gB)"/>
<ellipse cx="174.82" cy="263.8" rx="4.77" ry="4.77" fill="url(#gB)"/>
<ellipse cx="182.59" cy="267.41" rx="3.9" ry="5.42" fill="url(#gR)"/>
<ellipse cx="188.55" cy="271.93" rx="3.04" ry="3.25" fill="url(#gB)"/>
<ellipse cx="188.55" cy="278.25" rx="3.25" ry="2.6" fill="url(#gR)"/>
<ellipse cx="195.24" cy="278.25" rx="3.9" ry="3.9" fill="url(#gB)"/>
<ellipse cx="195.24" cy="271.02" rx="2.17" ry="3.9" fill="url(#gR)"/>
<ellipse cx="202.47" cy="267.41" rx="6.51" ry="7.59" fill="url(#gB)"/>
<ellipse cx="236.81" cy="269.22" rx="4.7" ry="5.78" fill="url(#gB)"/>
<ellipse cx="242.23" cy="267.41" rx="3.25" ry="3.25" fill="url(#gB)"/>
<ellipse cx="252.17" cy="274.64" rx="3.9" ry="5.42" fill="url(#gR)"/>
<ellipse cx="258.49" cy="272.83" rx="3.47" ry="3.47" fill="url(#gB)"/>
<ellipse cx="247.65" cy="277.35" rx="2.6" ry="3.25" fill="url(#gB)"/>
<ellipse cx="249.46" cy="261.99" rx="2.17" ry="2.17" fill="url(#gR)"/>
<ellipse cx="246.75" cy="282.77" rx="2.17" ry="2.6" fill="url(#gR)"/>
<ellipse cx="192.53" cy="291.81" rx="4.34" ry="4.34" fill="url(#gR)"/>
<ellipse cx="188.92" cy="289.1" rx="1.73" ry="1.73" fill="url(#gB)"/>
<ellipse cx="197.05" cy="289.1" rx="2.17" ry="2.17" fill="url(#gB)"/>
<ellipse cx="204.28" cy="296.33" rx="5.42" ry="4.34" fill="url(#gB)"/>
<ellipse cx="217.83" cy="299.04" rx="9.76" ry="6.51" fill="url(#gB)"/>
<ellipse cx="208.8" cy="293.07" rx="4.34" ry="2.17" fill="url(#gR)"/>
<ellipse cx="199.76" cy="302.65" rx="3.47" ry="2.6" fill="url(#gR)"/>
<ellipse cx="203.37" cy="300.48" rx="2.6" ry="1.73" fill="url(#gB)"/>
<ellipse cx="204.28" cy="305.72" rx="2.6" ry="2.17" fill="url(#gB)"/>
<ellipse cx="207.89" cy="303.55" rx="2.17" ry="2.17" fill="url(#gR)"/>
<ellipse cx="226.87" cy="299.94" rx="5.42" ry="4.34" fill="url(#gR)"/>
<ellipse cx="231.39" cy="297.23" rx="2.6" ry="2.6" fill="url(#gB)"/>
<ellipse cx="229.58" cy="304.46" rx="2.17" ry="1.73" fill="url(#gR)"/>
<ellipse cx="230.48" cy="306.63" rx="3.25" ry="2.17" fill="url(#gB)"/>
<ellipse cx="234.1" cy="303.19" rx="2.17" ry="1.73" fill="url(#gR)"/>
<ellipse cx="248.55" cy="294.52" rx="3.9" ry="3.9" fill="url(#gR)"/>
<ellipse cx="244.94" cy="292.71" rx="2.17" ry="2.17" fill="url(#gB)"/>
<ellipse cx="246.75" cy="299.04" rx="2.6" ry="1.73" fill="url(#gB)"/>
<ellipse cx="250.36" cy="299.94" rx="2.17" ry="1.73" fill="url(#gR)"/>
<ellipse cx="204.28" cy="313.49" rx="6.51" ry="3.9" fill="url(#gR)"/>
<ellipse cx="201.93" cy="320.18" rx="5.42" ry="3.9" fill="url(#gB)"/>
<ellipse cx="230.48" cy="314.04" rx="6.07" ry="3.9" fill="url(#gR)"/>
<ellipse cx="231.39" cy="320.72" rx="5.42" ry="3.9" fill="url(#gB)"/>
<ellipse cx="217.47" cy="313.49" rx="1.73" ry="1.73" fill="url(#gR)"/>
<ellipse cx="214.22" cy="316.57" rx="1.73" ry="1.73" fill="url(#gB)"/>
<ellipse cx="220.72" cy="316.57" rx="1.73" ry="1.73" fill="url(#gB)"/>
<ellipse cx="217.47" cy="321.08" rx="2.6" ry="3.04" fill="url(#gR)"/>
<ellipse cx="274.76" cy="215.9" rx="5.42" ry="2.17" fill="url(#gR)"/>
<ellipse cx="277.47" cy="222.23" rx="3.25" ry="2.6" fill="url(#gB)"/>
<ellipse cx="216.14" cy="297.83" rx="6.63" ry="4.58" fill="url(#gB)"/>
<ellipse cx="204.1" cy="296.02" rx="3.61" ry="3.01" fill="url(#gB)"/>
<ellipse cx="219.76" cy="288.19" rx="2.41" ry="1.81" fill="url(#gB)"/>
<ellipse cx="225.78" cy="290.6" rx="1.81" ry="1.81" fill="url(#gB)"/>
<ellipse cx="231.81" cy="285.78" rx="1.81" ry="1.81" fill="url(#gB)"/>
<path d="M210.12 262.29L204.1 279.76" stroke="#cccccc" stroke-width="0.75" stroke-linecap="round"/>
<path d="M210.12 262.29L219.76 279.76" stroke="#cccccc" stroke-width="0.75" stroke-linecap="round"/>
<path d="M245.66 266.27L233.01 279.76" stroke="#cccccc" stroke-width="0.75" stroke-linecap="round"/>
<path d="M226.75 296.63L219.76 279.76" stroke="#cccccc" stroke-width="0.75" stroke-linecap="round"/>
<path d="M210.12 262.29L200.48 276.14" stroke="#cccccc" stroke-width="0.75" stroke-linecap="round"/>
<path d="M199.28 254.7L210.12 262.29" stroke="#cccccc" stroke-width="0.75" stroke-linecap="round"/>
<polygon points="214.34,259.88 218.55,255.66 225.78,253.49 233.01,255.42 237.59,260.48 236.02,263.13 230,263.49 227.95,265.9 228.19,271.33 233.01,277.35 240.24,279.76 244.46,276.14 245.66,279.76 243.86,288.19 239.04,293.01 233.01,295.42 230.6,293.01 234.22,288.19 234.82,282.17 230.6,280.96 226.99,281.57 223.37,283.37 217.35,282.17 216.14,286.99 217.35,291.81 216.75,294.22 211.33,293.01 205.9,288.19 203.49,282.17 204.7,274.94 207.11,271.33 211.33,274.94 216.14,276.14 219.76,271.33 221.57,265.9 219.76,263.49 215.54,262.29" fill="url(#gR)" stroke="#ee0a0a" stroke-width="2.2" stroke-linejoin="round"/>
<ellipse cx="226.99" cy="299.64" rx="4.22" ry="3.61" fill="url(#gR)"/>
<ellipse cx="232.05" cy="252.05" rx="1.81" ry="2.41" fill="url(#gR)"/>
<ellipse cx="236.02" cy="255.06" rx="1.81" ry="1.81" fill="url(#gB)"/>
<ellipse cx="217.35" cy="250.84" rx="2.41" ry="1.45" fill="url(#gR)"/>
<ellipse cx="218.55" cy="249.04" rx="1.2" ry="1.2" fill="url(#gB)"/>
<ellipse cx="214.94" cy="253.25" rx="3.01" ry="2.41" fill="url(#gB)"/>
<ellipse cx="204.1" cy="250.24" rx="2.41" ry="2.41" fill="url(#gB)"/>
<ellipse cx="205.9" cy="254.46" rx="1.81" ry="1.81" fill="url(#gR)"/>
<ellipse cx="201.69" cy="256.87" rx="1.45" ry="1.81" fill="url(#gR)"/>
<ellipse cx="188.43" cy="271.93" rx="2.41" ry="2.41" fill="url(#gB)"/>
<ellipse cx="187.83" cy="277.95" rx="2.41" ry="1.81" fill="url(#gR)"/>
<ellipse cx="194.46" cy="277.95" rx="3.01" ry="2.65" fill="url(#gB)"/>
<ellipse cx="194.46" cy="271.93" rx="1.45" ry="3.01" fill="url(#gR)"/>
<ellipse cx="252.29" cy="274.34" rx="3.01" ry="4.22" fill="url(#gR)"/>
<ellipse cx="258.31" cy="272.53" rx="2.65" ry="2.65" fill="url(#gB)"/>
<ellipse cx="247.47" cy="277.35" rx="1.81" ry="2.41" fill="url(#gB)"/>
<ellipse cx="252.29" cy="262.29" rx="1.81" ry="2.41" fill="url(#gR)"/>
<ellipse cx="243.25" cy="265.9" rx="1.81" ry="2.41" fill="url(#gB)"/>
<ellipse cx="189.04" cy="289.4" rx="1.2" ry="1.2" fill="url(#gB)"/>
<ellipse cx="196.87" cy="288.8" rx="1.45" ry="1.45" fill="url(#gB)"/>
<ellipse cx="199.88" cy="279.76" rx="1.45" ry="3.01" fill="url(#gR)"/>
<ellipse cx="199.88" cy="302.05" rx="2.65" ry="2.17" fill="url(#gR)"/>
<ellipse cx="203.49" cy="300.24" rx="1.45" ry="1.2" fill="url(#gB)"/>
<ellipse cx="204.1" cy="305.06" rx="2.17" ry="1.81" fill="url(#gB)"/>
<ellipse cx="207.71" cy="302.05" rx="1.45" ry="1.45" fill="url(#gR)"/>
<ellipse cx="211.93" cy="303.86" rx="1.81" ry="1.81" fill="url(#gR)"/>
<ellipse cx="228.19" cy="303.86" rx="1.81" ry="1.2" fill="url(#gR)"/>
<ellipse cx="230" cy="306.02" rx="3.01" ry="1.81" fill="url(#gB)"/>
<ellipse cx="234.22" cy="303.25" rx="1.81" ry="1.81" fill="url(#gR)"/>
<ellipse cx="233.01" cy="296.63" rx="1.81" ry="1.81" fill="url(#gB)"/>
<ellipse cx="249.28" cy="294.82" rx="2.17" ry="3.01" fill="url(#gR)"/>
<ellipse cx="245.66" cy="292.41" rx="1.81" ry="1.81" fill="url(#gB)"/>
<ellipse cx="246.27" cy="282.77" rx="1.2" ry="1.81" fill="url(#gR)"/>
<circle cx="210.12" cy="262.29" r="2.17" fill="url(#gY)"/>
<circle cx="245.66" cy="266.27" r="1.93" fill="url(#gY)"/>
<circle cx="248.92" cy="263.13" r="1.2" fill="url(#gY)"/>
<circle cx="226.75" cy="296.63" r="1.69" fill="url(#gY)"/>
<circle cx="231.57" cy="302.89" r="1.45" fill="url(#gY)"/>
<circle cx="203.86" cy="302.41" r="1.45" fill="url(#gY)"/>
<circle cx="207.95" cy="251.45" r="1.2" fill="url(#gY)"/>
<circle cx="255.3" cy="274.34" r="1.2" fill="url(#gY)"/>
<circle cx="191.08" cy="274.94" r="1.33" fill="url(#gY)"/>
<circle cx="230.36" cy="288.19" r="2.05" fill="url(#gG)"/>
<circle cx="229.16" cy="281.57" r="1.08" fill="url(#gW)"/>
<circle cx="225.18" cy="288.8" r="1.08" fill="url(#gW)"/>
<circle cx="237.83" cy="289.16" r="1.08" fill="url(#gW)"/>
<circle cx="210.6" cy="262.35" r="2.17" fill="url(#gY)"/>
<circle cx="230.12" cy="288.19" r="2.17" fill="url(#gG)"/>
<circle cx="225.96" cy="288.73" r="0.9" fill="url(#gW)"/>
<circle cx="229.58" cy="281.87" r="0.9" fill="url(#gW)"/>
<circle cx="237.71" cy="289.46" r="0.9" fill="url(#gW)"/>
<circle cx="227.77" cy="297.77" r="1.81" fill="url(#gY)"/>
<circle cx="231.39" cy="303.19" r="1.45" fill="url(#gY)"/>
<circle cx="203.73" cy="303.19" r="1.45" fill="url(#gY)"/>
<circle cx="201.2" cy="320.72" r="1.99" fill="url(#gG)"/>
</g>
<g id="c5">
<g stroke="#bdbdbd" stroke-width="1.35" stroke-linecap="round" fill="none">
<path d="M221.81 339.4L231.75 345.36"/>
<path d="M231.75 345.36L226.87 350.78"/>
<path d="M226.87 350.78L222.89 356.2"/>
<path d="M222.89 356.2L221.45 366.14"/>
<path d="M198.86 358.55L189.82 370.12"/>
<path d="M189.82 370.12L181.33 382.95"/>
<path d="M189.82 370.12L202.83 369.76"/>
<path d="M202.83 369.76L213.86 377.89"/>
<path d="M253.07 382.41L261.57 377.35"/>
<path d="M253.07 382.41L238.61 385.12"/>
<path d="M181.33 416.75L172.29 406.45"/>
<path d="M181.33 416.75L183.49 426.14"/>
<path d="M181.33 416.75L195.24 413.49"/>
<path d="M181.33 416.75L197.95 408.98"/>
<path d="M266.27 419.82L274.76 411.69"/>
<path d="M266.27 419.82L253.98 412.23"/>
<path d="M247.65 427.59L253.98 416.75"/>
<path d="M213.86 377.89L223.25 394.16"/>
<path d="M238.61 385.12L223.25 394.16"/>
<path d="M235.9 406.81L223.25 394.16"/>
<path d="M205.18 386.02L223.25 394.16"/>
<path d="M198.86 396.87L223.25 394.16"/>
<path d="M213.31 407.71L223.25 394.16"/>
<path d="M239.52 396.87L223.25 394.16"/>
<path d="M222.35 374.82L223.25 394.16"/>
<path d="M230.48 380.6L223.25 394.16"/>
<path d="M219.64 405.9L223.25 394.16"/>
<path d="M244.94 391.45L223.25 394.16"/>
<path d="M210.6 392.35L223.25 394.16"/>
<path d="M206.08 433.01L221.81 436.63"/>
<path d="M221.81 436.63L236.81 433.01"/>
<path d="M213.86 377.89L221.45 405.9"/>
<path d="M214.22 377.89L223.61 407.71"/>
<path d="M221.81 339.4L231.75 345.36"/>
<path d="M221.81 339.4L217.54 342.37" stroke="#cfcfd8" stroke-width="1"/>
<path d="M221.81 339.4L217.86 337.03" stroke="#cfcfd8" stroke-width="1"/>
<path d="M221.81 339.4L222.43 334.23" stroke="#cfcfd8" stroke-width="1"/>
<path d="M255.78 359.82L254.35 354.82" stroke="#cfcfd8" stroke-width="1"/>
<path d="M255.78 359.82L259.3 356.85" stroke="#cfcfd8" stroke-width="1"/>
<path d="M255.78 359.82L260.47 362.08" stroke="#cfcfd8" stroke-width="1"/>
<path d="M261.57 377.35L253.07 382.41"/>
<path d="M261.57 377.35L260.96 372.18" stroke="#cfcfd8" stroke-width="1"/>
<path d="M261.57 377.35L265.52 375" stroke="#cfcfd8" stroke-width="1"/>
<path d="M261.57 377.35L265.82 380.34" stroke="#cfcfd8" stroke-width="1"/>
<path d="M202.83 369.76L198.86 358.55"/>
<path d="M202.83 369.76L208.01 370.17" stroke="#cfcfd8" stroke-width="1"/>
<path d="M202.83 369.76L204.37 374.09" stroke="#cfcfd8" stroke-width="1"/>
<path d="M202.83 369.76L199.07 373.35" stroke="#cfcfd8" stroke-width="1"/>
<path d="M172.29 406.45L181.33 416.75"/>
<path d="M172.29 406.45L167.32 407.98" stroke="#cfcfd8" stroke-width="1"/>
<path d="M172.29 406.45L169.26 402.99" stroke="#cfcfd8" stroke-width="1"/>
<path d="M172.29 406.45L174.46 401.72" stroke="#cfcfd8" stroke-width="1"/>
<path d="M183.49 426.14L181.33 416.75"/>
<path d="M183.49 426.14L188.6 427.15" stroke="#cfcfd8" stroke-width="1"/>
<path d="M183.49 426.14L184.53 430.63" stroke="#cfcfd8" stroke-width="1"/>
<path d="M183.49 426.14L179.35 429.28" stroke="#cfcfd8" stroke-width="1"/>
<path d="M215.66 423.98L221.81 436.63"/>
<path d="M215.66 423.98L210.47 424.14" stroke="#cfcfd8" stroke-width="1"/>
<path d="M215.66 423.98L213.65 419.84" stroke="#cfcfd8" stroke-width="1"/>
<path d="M215.66 423.98L219 419.99" stroke="#cfcfd8" stroke-width="1"/>
<path d="M274.76 411.69L266.27 419.82"/>
<path d="M274.76 411.69L273.01 406.79" stroke="#cfcfd8" stroke-width="1"/>
<path d="M274.76 411.69L278.08 408.51" stroke="#cfcfd8" stroke-width="1"/>
<path d="M274.76 411.69L279.58 413.65" stroke="#cfcfd8" stroke-width="1"/>
<path d="M247.65 427.59L259.04 418.55"/>
<path d="M247.65 427.59L248.94 432.63" stroke="#cfcfd8" stroke-width="1"/>
<path d="M247.65 427.59L244.05 430.45" stroke="#cfcfd8" stroke-width="1"/>
<path d="M247.65 427.59L243.04 425.19" stroke="#cfcfd8" stroke-width="1"/>
</g>
<circle cx="217.54" cy="342.37" r="1.45" fill="url(#gW)"/>
<circle cx="217.86" cy="337.03" r="1.45" fill="url(#gW)"/>
<circle cx="222.43" cy="334.23" r="1.45" fill="url(#gW)"/>
<circle cx="254.35" cy="354.82" r="1.45" fill="url(#gW)"/>
<circle cx="259.3" cy="356.85" r="1.45" fill="url(#gW)"/>
<circle cx="260.47" cy="362.08" r="1.45" fill="url(#gW)"/>
<circle cx="260.96" cy="372.18" r="1.45" fill="url(#gW)"/>
<circle cx="265.52" cy="375" r="1.45" fill="url(#gW)"/>
<circle cx="265.82" cy="380.34" r="1.45" fill="url(#gW)"/>
<circle cx="208.01" cy="370.17" r="1.45" fill="url(#gW)"/>
<circle cx="204.37" cy="374.09" r="1.45" fill="url(#gW)"/>
<circle cx="199.07" cy="373.35" r="1.45" fill="url(#gW)"/>
<circle cx="167.32" cy="407.98" r="1.45" fill="url(#gW)"/>
<circle cx="169.26" cy="402.99" r="1.45" fill="url(#gW)"/>
<circle cx="174.46" cy="401.72" r="1.45" fill="url(#gW)"/>
<circle cx="188.6" cy="427.15" r="1.45" fill="url(#gW)"/>
<circle cx="184.53" cy="430.63" r="1.45" fill="url(#gW)"/>
<circle cx="179.35" cy="429.28" r="1.45" fill="url(#gW)"/>
<circle cx="210.47" cy="424.14" r="1.45" fill="url(#gW)"/>
<circle cx="213.65" cy="419.84" r="1.45" fill="url(#gW)"/>
<circle cx="219" cy="419.99" r="1.45" fill="url(#gW)"/>
<circle cx="273.01" cy="406.79" r="1.45" fill="url(#gW)"/>
<circle cx="278.08" cy="408.51" r="1.45" fill="url(#gW)"/>
<circle cx="279.58" cy="413.65" r="1.45" fill="url(#gW)"/>
<circle cx="248.94" cy="432.63" r="1.45" fill="url(#gW)"/>
<circle cx="244.05" cy="430.45" r="1.45" fill="url(#gW)"/>
<circle cx="243.04" cy="425.19" r="1.45" fill="url(#gW)"/>
<circle cx="221.81" cy="339.4" r="2.35" fill="url(#gG)"/>
<circle cx="255.78" cy="359.82" r="2.11" fill="url(#gG)"/>
<circle cx="261.57" cy="377.35" r="2.35" fill="url(#gG)"/>
<circle cx="202.83" cy="369.76" r="2.58" fill="url(#gG)"/>
<circle cx="172.29" cy="406.45" r="2.58" fill="url(#gG)"/>
<circle cx="183.49" cy="426.14" r="2.35" fill="url(#gG)"/>
<circle cx="215.66" cy="423.98" r="2.11" fill="url(#gG)"/>
<circle cx="274.76" cy="411.69" r="2.58" fill="url(#gG)"/>
<circle cx="247.65" cy="427.59" r="2.35" fill="url(#gG)"/>
<circle cx="231.75" cy="345.36" r="2.58" fill="url(#gY)"/>
<circle cx="226.87" cy="350.78" r="1.88" fill="url(#gY)"/>
<circle cx="222.89" cy="356.2" r="1.88" fill="url(#gY)"/>
<circle cx="198.86" cy="358.55" r="2.11" fill="url(#gY)"/>
<circle cx="189.82" cy="370.12" r="2.11" fill="url(#gY)"/>
<circle cx="181.33" cy="382.95" r="2.35" fill="url(#gY)"/>
<circle cx="253.07" cy="382.41" r="2.58" fill="url(#gY)"/>
<circle cx="263.01" cy="391.45" r="2.11" fill="url(#gY)"/>
<circle cx="181.33" cy="416.75" r="3.29" fill="url(#gY)"/>
<circle cx="197.95" cy="408.98" r="2.11" fill="url(#gY)"/>
<circle cx="253.98" cy="412.23" r="2.11" fill="url(#gY)"/>
<circle cx="259.04" cy="418.55" r="1.88" fill="url(#gY)"/>
<circle cx="266.27" cy="419.82" r="2.35" fill="url(#gY)"/>
<circle cx="221.81" cy="436.63" r="2.11" fill="url(#gY)"/>
<circle cx="229.58" cy="361.63" r="1.88" fill="url(#gY)"/>
<ellipse cx="194.7" cy="353.49" rx="6.94" ry="6.51" fill="url(#gR)"/>
<ellipse cx="201.57" cy="359.82" rx="6.51" ry="5.42" fill="url(#gB)"/>
<ellipse cx="188.92" cy="365.24" rx="2.6" ry="2.17" fill="url(#gB)"/>
<ellipse cx="185.3" cy="370.66" rx="2.6" ry="2.6" fill="url(#gR)"/>
<ellipse cx="194.34" cy="368.86" rx="2.6" ry="2.17" fill="url(#gR)"/>
<ellipse cx="189.82" cy="374.28" rx="2.6" ry="2.17" fill="url(#gB)"/>
<ellipse cx="207.35" cy="366.14" rx="2.6" ry="3.9" fill="url(#gR)"/>
<ellipse cx="211.51" cy="365.24" rx="2.17" ry="4.34" fill="url(#gB)"/>
<ellipse cx="174.82" cy="379.7" rx="6.94" ry="7.59" fill="url(#gB)"/>
<ellipse cx="184.4" cy="385.12" rx="4.77" ry="7.59" fill="url(#gR)"/>
<ellipse cx="191.08" cy="388.73" rx="3.25" ry="3.9" fill="url(#gB)"/>
<ellipse cx="192.17" cy="393.25" rx="4.34" ry="2.6" fill="url(#gR)"/>
<ellipse cx="226.87" cy="357.11" rx="2.6" ry="2.6" fill="url(#gR)"/>
<ellipse cx="233.19" cy="358.01" rx="3.25" ry="2.6" fill="url(#gB)"/>
<ellipse cx="224.16" cy="362.53" rx="2.6" ry="2.17" fill="url(#gB)"/>
<ellipse cx="231.39" cy="363.43" rx="2.6" ry="2.17" fill="url(#gR)"/>
<ellipse cx="217.83" cy="368.86" rx="6.51" ry="7.59" fill="url(#gR)"/>
<ellipse cx="224.16" cy="371.57" rx="4.34" ry="6.51" fill="url(#gR)"/>
<ellipse cx="222.35" cy="374.82" rx="3.25" ry="3.25" fill="url(#gB)"/>
<ellipse cx="234.1" cy="373.37" rx="5.42" ry="6.51" fill="url(#gB)"/>
<ellipse cx="230.48" cy="380.6" rx="5.42" ry="4.34" fill="url(#gB)"/>
<ellipse cx="239.52" cy="371.57" rx="2.6" ry="5.42" fill="url(#gR)"/>
<ellipse cx="247.65" cy="367.05" rx="6.51" ry="6.51" fill="url(#gR)"/>
<ellipse cx="253.98" cy="364.34" rx="4.77" ry="4.77" fill="url(#gB)"/>
<ellipse cx="260.3" cy="358.55" rx="2.6" ry="1.73" fill="url(#gR)"/>
<ellipse cx="253.07" cy="377.89" rx="2.6" ry="2.17" fill="url(#gB)"/>
<ellipse cx="256.69" cy="375.18" rx="2.17" ry="1.73" fill="url(#gR)"/>
<ellipse cx="256.69" cy="382.41" rx="2.6" ry="2.17" fill="url(#gR)"/>
<ellipse cx="260.3" cy="380.24" rx="1.73" ry="1.73" fill="url(#gB)"/>
<ellipse cx="266.08" cy="389.28" rx="5.42" ry="5.42" fill="url(#gR)"/>
<ellipse cx="258.49" cy="392.35" rx="4.77" ry="6.51" fill="url(#gB)"/>
<ellipse cx="208.8" cy="380.6" rx="3.9" ry="4.77" fill="url(#gR)"/>
<ellipse cx="205.18" cy="386.02" rx="5.42" ry="4.34" fill="url(#gB)"/>
<ellipse cx="197.05" cy="389.64" rx="4.34" ry="2.6" fill="url(#gR)"/>
<ellipse cx="198.86" cy="396.87" rx="6.51" ry="6.51" fill="url(#gB)"/>
<ellipse cx="209.7" cy="392.35" rx="4.34" ry="3.25" fill="url(#gR)"/>
<ellipse cx="206.99" cy="397.77" rx="4.34" ry="3.25" fill="url(#gB)"/>
<ellipse cx="248.55" cy="391.45" rx="5.42" ry="4.34" fill="url(#gR)"/>
<ellipse cx="242.23" cy="390.54" rx="2.6" ry="3.25" fill="url(#gB)"/>
<ellipse cx="239.52" cy="396.87" rx="5.42" ry="4.34" fill="url(#gR)"/>
<ellipse cx="246.75" cy="399.58" rx="5.42" ry="4.34" fill="url(#gR)"/>
<ellipse cx="250.36" cy="396.87" rx="3.25" ry="2.6" fill="url(#gB)"/>
<ellipse cx="238.61" cy="386.02" rx="2.17" ry="2.17" fill="url(#gB)"/>
<ellipse cx="191.63" cy="406.81" rx="5.42" ry="3.9" fill="url(#gB)"/>
<ellipse cx="198.86" cy="405" rx="2.6" ry="2.6" fill="url(#gR)"/>
<ellipse cx="205.18" cy="406.81" rx="3.9" ry="2.6" fill="url(#gB)"/>
<ellipse cx="195.24" cy="413.49" rx="5.42" ry="3.9" fill="url(#gR)"/>
<ellipse cx="201.57" cy="412.23" rx="2.6" ry="2.17" fill="url(#gB)"/>
<ellipse cx="213.31" cy="407.71" rx="5.42" ry="6.07" fill="url(#gR)"/>
<ellipse cx="218.73" cy="409.52" rx="3.25" ry="3.25" fill="url(#gB)"/>
<ellipse cx="207.89" cy="414.04" rx="7.59" ry="4.34" fill="url(#gR)"/>
<ellipse cx="221.45" cy="414.94" rx="4.34" ry="4.34" fill="url(#gR)"/>
<ellipse cx="227.77" cy="414.94" rx="4.77" ry="5.42" fill="url(#gB)"/>
<ellipse cx="205.18" cy="421.27" rx="4.77" ry="2.17" fill="url(#gB)"/>
<ellipse cx="208.43" cy="424.34" rx="4.34" ry="2.17" fill="url(#gR)"/>
<ellipse cx="236.81" cy="417.65" rx="3.25" ry="5.42" fill="url(#gR)"/>
<ellipse cx="240.42" cy="412.23" rx="3.25" ry="3.25" fill="url(#gB)"/>
<ellipse cx="236.81" cy="425.24" rx="4.77" ry="2.17" fill="url(#gR)"/>
<ellipse cx="236.81" cy="421.63" rx="4.34" ry="1.73" fill="url(#gB)"/>
<ellipse cx="250.36" cy="407.71" rx="2.6" ry="2.17" fill="url(#gB)"/>
<ellipse cx="257.23" cy="410.42" rx="2.6" ry="2.6" fill="url(#gR)"/>
<ellipse cx="253.98" cy="416.75" rx="3.04" ry="2.6" fill="url(#gB)"/>
<ellipse cx="249.46" cy="413.49" rx="2.17" ry="2.17" fill="url(#gR)"/>
<ellipse cx="206.08" cy="433.01" rx="8.24" ry="6.07" fill="url(#gB)"/>
<ellipse cx="204.28" cy="442.41" rx="7.59" ry="6.07" fill="url(#gR)"/>
<ellipse cx="206.08" cy="448.73" rx="4.34" ry="3.25" fill="url(#gB)"/>
<ellipse cx="236.81" cy="433.01" rx="7.59" ry="5.42" fill="url(#gR)"/>
<ellipse cx="235.9" cy="442.95" rx="7.59" ry="5.42" fill="url(#gB)"/>
<ellipse cx="242.23" cy="448.73" rx="3.25" ry="2.17" fill="url(#gR)"/>
<ellipse cx="218.73" cy="433.92" rx="2.6" ry="3.04" fill="url(#gR)"/>
<ellipse cx="225.06" cy="433.37" rx="2.17" ry="2.6" fill="url(#gB)"/>
<ellipse cx="218.73" cy="439.88" rx="2.6" ry="2.17" fill="url(#gB)"/>
<ellipse cx="224.7" cy="439.88" rx="2.17" ry="2.6" fill="url(#gR)"/>
<path d="M222.17 395.36L213.98 377.89" stroke="#cccccc" stroke-width="0.75" stroke-linecap="round"/>
<path d="M222.17 395.36L224.58 373.07" stroke="#cccccc" stroke-width="0.75" stroke-linecap="round"/>
<path d="M222.17 395.36L239.04 385.12" stroke="#cccccc" stroke-width="0.75" stroke-linecap="round"/>
<path d="M222.17 395.36L247.47 394.76" stroke="#cccccc" stroke-width="0.75" stroke-linecap="round"/>
<path d="M222.17 395.36L235.66 406.57" stroke="#cccccc" stroke-width="0.75" stroke-linecap="round"/>
<path d="M222.17 395.36L225.78 412.83" stroke="#cccccc" stroke-width="0.75" stroke-linecap="round"/>
<path d="M222.17 395.36L216.14 408.01" stroke="#cccccc" stroke-width="0.75" stroke-linecap="round"/>
<path d="M222.17 395.36L206.51 404.4" stroke="#cccccc" stroke-width="0.75" stroke-linecap="round"/>
<path d="M222.17 395.36L201.69 392.35" stroke="#cccccc" stroke-width="0.75" stroke-linecap="round"/>
<path d="M222.17 395.36L210.12 383.92" stroke="#cccccc" stroke-width="0.75" stroke-linecap="round"/>
<path d="M222.17 395.36L220.96 408.01" stroke="#cccccc" stroke-width="0.75" stroke-linecap="round"/>
<path d="M222.17 395.36L231.81 388.73" stroke="#cccccc" stroke-width="0.75" stroke-linecap="round"/>
<path d="M222.77 395.36L214.94 378.49" stroke="#cccccc" stroke-width="0.75" stroke-linecap="round"/>
<path d="M221.57 395.72L234.82 406.81" stroke="#cccccc" stroke-width="0.75" stroke-linecap="round"/>
<path d="M222.17 394.76L242.65 391.14" stroke="#cccccc" stroke-width="0.75" stroke-linecap="round"/>
<path d="M181.81 417.05L197.47 408.61" stroke="#cccccc" stroke-width="0.75" stroke-linecap="round"/>
<path d="M181.81 417.05L195.66 414.04" stroke="#cccccc" stroke-width="0.75" stroke-linecap="round"/>
<ellipse cx="191.45" cy="388.73" rx="3.01" ry="3.01" fill="url(#gB)"/>
<ellipse cx="195.66" cy="389.94" rx="5.42" ry="2.17" fill="url(#gR)" transform="rotate(-30 195.66 389.94)"/>
<ellipse cx="224.58" cy="371.87" rx="3.61" ry="5.42" fill="url(#gR)"/>
<ellipse cx="221.57" cy="374.88" rx="3.01" ry="3.01" fill="url(#gB)"/>
<ellipse cx="217.35" cy="379.1" rx="4.82" ry="3.61" fill="url(#gR)"/>
<ellipse cx="230" cy="380.9" rx="4.82" ry="3.61" fill="url(#gB)"/>
<ellipse cx="239.64" cy="370.66" rx="1.81" ry="4.22" fill="url(#gR)"/>
<ellipse cx="242.65" cy="377.89" rx="3.01" ry="3.61" fill="url(#gB)"/>
<ellipse cx="226.39" cy="363.43" rx="1.81" ry="1.81" fill="url(#gB)"/>
<ellipse cx="231.81" cy="364.04" rx="2.17" ry="1.81" fill="url(#gR)"/>
<ellipse cx="254.1" cy="364.64" rx="3.01" ry="3.61" fill="url(#gB)"/>
<ellipse cx="252.89" cy="377.89" rx="2.17" ry="1.81" fill="url(#gB)"/>
<ellipse cx="256.51" cy="375.48" rx="1.81" ry="1.45" fill="url(#gR)"/>
<ellipse cx="257.11" cy="382.11" rx="1.81" ry="1.81" fill="url(#gR)"/>
<ellipse cx="257.71" cy="391.14" rx="3.61" ry="4.82" fill="url(#gB)"/>
<ellipse cx="208.92" cy="380.9" rx="3.01" ry="3.61" fill="url(#gR)"/>
<ellipse cx="205.9" cy="386.33" rx="5.42" ry="3.61" fill="url(#gB)"/>
<ellipse cx="210.12" cy="392.35" rx="3.37" ry="2.65" fill="url(#gR)"/>
<ellipse cx="199.28" cy="396.57" rx="6.02" ry="5.42" fill="url(#gB)"/>
<ellipse cx="208.31" cy="397.17" rx="3.61" ry="2.41" fill="url(#gB)"/>
<ellipse cx="200.48" cy="389.94" rx="3.01" ry="1.81" fill="url(#gR)"/>
<ellipse cx="242.05" cy="389.94" rx="2.17" ry="2.41" fill="url(#gB)"/>
<ellipse cx="240.24" cy="397.17" rx="4.22" ry="3.37" fill="url(#gR)"/>
<ellipse cx="247.47" cy="399.58" rx="4.22" ry="3.37" fill="url(#gR)"/>
<ellipse cx="251.08" cy="395.96" rx="2.41" ry="2.41" fill="url(#gB)"/>
<ellipse cx="248.67" cy="394.76" rx="2.41" ry="1.81" fill="url(#gB)"/>
<ellipse cx="236.63" cy="386.33" rx="1.45" ry="1.45" fill="url(#gR)"/>
<ellipse cx="234.22" cy="385.12" rx="1.2" ry="1.2" fill="url(#gB)"/>
<ellipse cx="198.07" cy="404.4" rx="2.17" ry="2.17" fill="url(#gR)"/>
<ellipse cx="205.9" cy="405.6" rx="3.01" ry="2.17" fill="url(#gB)"/>
<ellipse cx="201.69" cy="410.42" rx="2.17" ry="2.17" fill="url(#gB)"/>
<ellipse cx="219.16" cy="409.22" rx="3.01" ry="3.01" fill="url(#gB)"/>
<ellipse cx="208.31" cy="414.04" rx="6.63" ry="3.61" fill="url(#gR)"/>
<ellipse cx="222.17" cy="414.64" rx="3.61" ry="3.61" fill="url(#gR)"/>
<ellipse cx="228.19" cy="415.24" rx="4.22" ry="4.22" fill="url(#gB)"/>
<ellipse cx="207.11" cy="420.66" rx="4.82" ry="1.81" fill="url(#gB)"/>
<ellipse cx="208.67" cy="424.64" rx="3.37" ry="1.81" fill="url(#gR)"/>
<ellipse cx="237.23" cy="417.05" rx="2.65" ry="4.58" fill="url(#gR)"/>
<ellipse cx="240.84" cy="411.63" rx="2.65" ry="2.65" fill="url(#gB)"/>
<ellipse cx="237.23" cy="424.28" rx="3.61" ry="1.81" fill="url(#gR)"/>
<ellipse cx="236.63" cy="421.27" rx="3.37" ry="1.45" fill="url(#gB)"/>
<ellipse cx="236.02" cy="426.33" rx="3.01" ry="1.45" fill="url(#gB)"/>
<ellipse cx="252.29" cy="408.01" rx="2.17" ry="1.81" fill="url(#gB)"/>
<ellipse cx="258.31" cy="411.02" rx="2.17" ry="2.17" fill="url(#gR)"/>
<ellipse cx="255.3" cy="416.45" rx="2.41" ry="2.17" fill="url(#gB)"/>
<ellipse cx="250.48" cy="413.43" rx="1.81" ry="1.81" fill="url(#gR)"/>
<ellipse cx="230.6" cy="408.01" rx="1.81" ry="1.81" fill="url(#gR)"/>
<ellipse cx="233.01" cy="404.4" rx="1.81" ry="1.45" fill="url(#gB)"/>
<ellipse cx="238.43" cy="411.02" rx="1.81" ry="1.81" fill="url(#gR)"/>
<circle cx="213.98" cy="377.89" r="2.41" fill="url(#gY)"/>
<circle cx="252.89" cy="382.71" r="2.05" fill="url(#gY)"/>
<circle cx="197.47" cy="408.61" r="1.57" fill="url(#gY)"/>
<circle cx="232.05" cy="417.05" r="2.05" fill="url(#gY)"/>
<circle cx="253.49" cy="412.23" r="1.57" fill="url(#gY)"/>
<circle cx="222.17" cy="367.05" r="1.2" fill="url(#gY)"/>
<circle cx="228.8" cy="360.42" r="1.2" fill="url(#gY)"/>
<circle cx="208.92" cy="389.94" r="1.2" fill="url(#gY)"/>
<circle cx="237.23" cy="388.13" r="0.96" fill="url(#gY)"/>
<circle cx="189.88" cy="370.42" r="1.45" fill="url(#gY)"/>
<circle cx="239.04" cy="385.12" r="1.57" fill="url(#gG)"/>
<circle cx="235.66" cy="406.57" r="2.41" fill="url(#gG)"/>
<circle cx="234.82" cy="398.98" r="1.08" fill="url(#gW)"/>
<circle cx="230.6" cy="407.41" r="1.2" fill="url(#gW)"/>
<circle cx="242.65" cy="407.41" r="0.96" fill="url(#gW)"/>
<circle cx="213.86" cy="377.89" r="2.35" fill="url(#gY)"/>
<circle cx="238.61" cy="385.12" r="1.63" fill="url(#gG)"/>
<circle cx="235.9" cy="406.81" r="2.53" fill="url(#gG)"/>
<circle cx="231.39" cy="407.35" r="0.9" fill="url(#gW)"/>
<circle cx="235" cy="399.58" r="0.9" fill="url(#gW)"/>
<circle cx="242.23" cy="407.71" r="0.9" fill="url(#gW)"/>
<circle cx="231.93" cy="417.29" r="1.99" fill="url(#gY)"/>
<circle cx="204.82" cy="442.95" r="1.99" fill="url(#gG)"/>
<circle cx="242.77" cy="441.69" r="1.81" fill="url(#gG)"/>
</g>
<g id="c6">
<g stroke="#bdbdbd" stroke-width="1.35" stroke-linecap="round" fill="none">
<path d="M146.87 442.17L156.81 447.59"/>
<path d="M156.81 447.59L151.93 452.65"/>
<path d="M151.93 452.65L147.77 457.53"/>
<path d="M147.77 457.53L149.58 474.7"/>
<path d="M124.28 460.24L115.78 471.99"/>
<path d="M115.78 471.99L106.2 483.73"/>
<path d="M115.78 471.99L127.89 471.99"/>
<path d="M127.89 471.99L139.28 479.22"/>
<path d="M106.2 483.73L101.69 486.45"/>
<path d="M106.2 483.73L119.4 493.31"/>
<path d="M119.4 493.31L133.31 503.61"/>
<path d="M119.4 493.31L149.58 496.93"/>
<path d="M107.11 517.53L98.98 507.77"/>
<path d="M107.11 517.53L108.92 526.57"/>
<path d="M107.11 517.53L123.37 509.58"/>
<path d="M107.11 517.53L133.31 503.61"/>
<path d="M107.11 517.53L134.22 510.84"/>
<path d="M132.77 521.33L132.05 537.05"/>
<path d="M132.05 537.05L146.87 537.05"/>
<path d="M146.87 537.05L160.96 537.05"/>
<path d="M132.77 521.33L133.31 503.61"/>
<path d="M133.31 503.61L149.58 496.93"/>
<path d="M133.31 503.61L139.28 479.22"/>
<path d="M190.24 520.78L198.37 513.01"/>
<path d="M190.24 520.78L177.59 513.19"/>
<path d="M172.53 528.37L177.59 515.36"/>
<path d="M149.58 496.93L160.78 507.77"/>
<path d="M149.58 496.93L139.28 479.22"/>
<path d="M149.58 496.93L162.23 489.16"/>
<path d="M123.37 509.58L149.58 496.93"/>
<path d="M160.78 507.77L162.23 489.16"/>
<path d="M134.22 510.84L160.78 507.77"/>
<path d="M146.87 442.17L156.81 447.59"/>
<path d="M146.87 442.17L142.73 445.32" stroke="#cfcfd8" stroke-width="1"/>
<path d="M146.87 442.17L142.83 439.97" stroke="#cfcfd8" stroke-width="1"/>
<path d="M146.87 442.17L147.28 436.98" stroke="#cfcfd8" stroke-width="1"/>
<path d="M179.76 462.05L179.23 456.88" stroke="#cfcfd8" stroke-width="1"/>
<path d="M179.76 462.05L183.74 459.75" stroke="#cfcfd8" stroke-width="1"/>
<path d="M179.76 462.05L183.97 465.1" stroke="#cfcfd8" stroke-width="1"/>
<path d="M127.89 471.99L115.78 471.99"/>
<path d="M127.89 471.99L130.02 467.24" stroke="#cfcfd8" stroke-width="1"/>
<path d="M127.89 471.99L132.49 471.99" stroke="#cfcfd8" stroke-width="1"/>
<path d="M127.89 471.99L130.02 476.73" stroke="#cfcfd8" stroke-width="1"/>
<path d="M101.69 486.45L106.2 483.73"/>
<path d="M101.69 486.45L102.31 491.61" stroke="#cfcfd8" stroke-width="1"/>
<path d="M101.69 486.45L97.74 488.81" stroke="#cfcfd8" stroke-width="1"/>
<path d="M101.69 486.45L97.42 483.47" stroke="#cfcfd8" stroke-width="1"/>
<path d="M98.98 507.77L107.11 517.53"/>
<path d="M98.98 507.77L93.97 509.18" stroke="#cfcfd8" stroke-width="1"/>
<path d="M98.98 507.77L96.03 504.24" stroke="#cfcfd8" stroke-width="1"/>
<path d="M98.98 507.77L101.26 503.1" stroke="#cfcfd8" stroke-width="1"/>
<path d="M108.92 526.57L107.11 517.53"/>
<path d="M108.92 526.57L113.99 527.72" stroke="#cfcfd8" stroke-width="1"/>
<path d="M108.92 526.57L109.82 531.08" stroke="#cfcfd8" stroke-width="1"/>
<path d="M108.92 526.57L104.68 529.58" stroke="#cfcfd8" stroke-width="1"/>
<path d="M140.54 525.3L132.77 521.33"/>
<path d="M140.54 525.3L144.6 522.04" stroke="#cfcfd8" stroke-width="1"/>
<path d="M140.54 525.3L144.64 527.4" stroke="#cfcfd8" stroke-width="1"/>
<path d="M140.54 525.3L140.27 530.49" stroke="#cfcfd8" stroke-width="1"/>
<path d="M198.37 513.01L190.24 520.78"/>
<path d="M198.37 513.01L196.63 508.11" stroke="#cfcfd8" stroke-width="1"/>
<path d="M198.37 513.01L201.7 509.83" stroke="#cfcfd8" stroke-width="1"/>
<path d="M198.37 513.01L203.19 514.98" stroke="#cfcfd8" stroke-width="1"/>
<path d="M172.53 528.37L183.37 519.88"/>
<path d="M172.53 528.37L173.78 533.42" stroke="#cfcfd8" stroke-width="1"/>
<path d="M172.53 528.37L168.91 531.21" stroke="#cfcfd8" stroke-width="1"/>
<path d="M172.53 528.37L167.93 525.95" stroke="#cfcfd8" stroke-width="1"/>
<path d="M130.24 542.11L132.05 537.05"/>
<path d="M130.24 542.11L134 545.71" stroke="#cfcfd8" stroke-width="1"/>
<path d="M130.24 542.11L128.69 546.44" stroke="#cfcfd8" stroke-width="1"/>
<path d="M130.24 542.11L125.06 542.51" stroke="#cfcfd8" stroke-width="1"/>
<path d="M166.75 541.57L171.95 541.46" stroke="#cfcfd8" stroke-width="1"/>
<path d="M166.75 541.57L168.71 545.72" stroke="#cfcfd8" stroke-width="1"/>
<path d="M166.75 541.57L163.36 545.52" stroke="#cfcfd8" stroke-width="1"/>
<path d="M183.37 426.45L180.82 421.91" stroke="#cfcfd8" stroke-width="1"/>
<path d="M183.37 426.45L186.11 422.75" stroke="#cfcfd8" stroke-width="1"/>
<path d="M183.37 426.45L188.45 427.56" stroke="#cfcfd8" stroke-width="1"/>
</g>
<circle cx="142.73" cy="445.32" r="1.45" fill="url(#gW)"/>
<circle cx="142.83" cy="439.97" r="1.45" fill="url(#gW)"/>
<circle cx="147.28" cy="436.98" r="1.45" fill="url(#gW)"/>
<circle cx="179.23" cy="456.88" r="1.45" fill="url(#gW)"/>
<circle cx="183.74" cy="459.75" r="1.45" fill="url(#gW)"/>
<circle cx="183.97" cy="465.1" r="1.45" fill="url(#gW)"/>
<circle cx="130.02" cy="467.24" r="1.45" fill="url(#gW)"/>
<circle cx="132.49" cy="471.99" r="1.45" fill="url(#gW)"/>
<circle cx="130.02" cy="476.73" r="1.45" fill="url(#gW)"/>
<circle cx="102.31" cy="491.61" r="1.45" fill="url(#gW)"/>
<circle cx="97.74" cy="488.81" r="1.45" fill="url(#gW)"/>
<circle cx="97.42" cy="483.47" r="1.45" fill="url(#gW)"/>
<circle cx="93.97" cy="509.18" r="1.45" fill="url(#gW)"/>
<circle cx="96.03" cy="504.24" r="1.45" fill="url(#gW)"/>
<circle cx="101.26" cy="503.1" r="1.45" fill="url(#gW)"/>
<circle cx="113.99" cy="527.72" r="1.45" fill="url(#gW)"/>
<circle cx="109.82" cy="531.08" r="1.45" fill="url(#gW)"/>
<circle cx="104.68" cy="529.58" r="1.45" fill="url(#gW)"/>
<circle cx="144.6" cy="522.04" r="1.45" fill="url(#gW)"/>
<circle cx="144.64" cy="527.4" r="1.45" fill="url(#gW)"/>
<circle cx="140.27" cy="530.49" r="1.45" fill="url(#gW)"/>
<circle cx="196.63" cy="508.11" r="1.45" fill="url(#gW)"/>
<circle cx="201.7" cy="509.83" r="1.45" fill="url(#gW)"/>
<circle cx="203.19" cy="514.98" r="1.45" fill="url(#gW)"/>
<circle cx="173.78" cy="533.42" r="1.45" fill="url(#gW)"/>
<circle cx="168.91" cy="531.21" r="1.45" fill="url(#gW)"/>
<circle cx="167.93" cy="525.95" r="1.45" fill="url(#gW)"/>
<circle cx="134" cy="545.71" r="1.45" fill="url(#gW)"/>
<circle cx="128.69" cy="546.44" r="1.45" fill="url(#gW)"/>
<circle cx="125.06" cy="542.51" r="1.45" fill="url(#gW)"/>
<circle cx="171.95" cy="541.46" r="1.45" fill="url(#gW)"/>
<circle cx="168.71" cy="545.72" r="1.45" fill="url(#gW)"/>
<circle cx="163.36" cy="545.52" r="1.45" fill="url(#gW)"/>
<circle cx="180.82" cy="421.91" r="1.45" fill="url(#gW)"/>
<circle cx="186.11" cy="422.75" r="1.45" fill="url(#gW)"/>
<circle cx="188.45" cy="427.56" r="1.45" fill="url(#gW)"/>
<circle cx="146.87" cy="442.17" r="2.35" fill="url(#gG)"/>
<circle cx="179.76" cy="462.05" r="2.11" fill="url(#gG)"/>
<circle cx="127.89" cy="471.99" r="2.58" fill="url(#gG)"/>
<circle cx="101.69" cy="486.45" r="2.11" fill="url(#gG)"/>
<circle cx="98.98" cy="507.77" r="2.58" fill="url(#gG)"/>
<circle cx="108.92" cy="526.57" r="2.35" fill="url(#gG)"/>
<circle cx="140.54" cy="525.3" r="2.11" fill="url(#gG)"/>
<circle cx="198.37" cy="513.01" r="2.35" fill="url(#gG)"/>
<circle cx="172.53" cy="528.37" r="2.35" fill="url(#gG)"/>
<circle cx="130.24" cy="542.11" r="2.35" fill="url(#gG)"/>
<circle cx="166.75" cy="541.57" r="2.35" fill="url(#gG)"/>
<circle cx="183.37" cy="426.45" r="2.35" fill="url(#gG)"/>
<circle cx="156.81" cy="447.59" r="2.58" fill="url(#gY)"/>
<circle cx="151.93" cy="452.65" r="1.88" fill="url(#gY)"/>
<circle cx="147.77" cy="457.53" r="1.88" fill="url(#gY)"/>
<circle cx="124.28" cy="460.24" r="1.88" fill="url(#gY)"/>
<circle cx="115.78" cy="471.99" r="2.11" fill="url(#gY)"/>
<circle cx="106.2" cy="483.73" r="2.82" fill="url(#gY)"/>
<circle cx="119.4" cy="493.31" r="2.35" fill="url(#gY)"/>
<circle cx="133.31" cy="503.61" r="2.11" fill="url(#gY)"/>
<circle cx="123.37" cy="509.58" r="2.35" fill="url(#gY)"/>
<circle cx="119.76" cy="509.04" r="1.88" fill="url(#gY)"/>
<circle cx="107.11" cy="517.53" r="3.29" fill="url(#gY)"/>
<circle cx="132.77" cy="521.33" r="2.11" fill="url(#gY)"/>
<circle cx="177.59" cy="513.19" r="2.11" fill="url(#gY)"/>
<circle cx="183.37" cy="519.88" r="1.88" fill="url(#gY)"/>
<circle cx="190.24" cy="520.78" r="2.35" fill="url(#gY)"/>
<circle cx="132.05" cy="537.05" r="2.35" fill="url(#gY)"/>
<circle cx="146.87" cy="537.05" r="2.11" fill="url(#gY)"/>
<circle cx="187.53" cy="492.23" r="1.88" fill="url(#gY)"/>
<ellipse cx="121.2" cy="456.08" rx="5.42" ry="5.42" fill="url(#gB)"/>
<ellipse cx="126.63" cy="462.95" rx="4.77" ry="4.77" fill="url(#gR)"/>
<ellipse cx="132.77" cy="468.01" rx="2.17" ry="2.17" fill="url(#gB)"/>
<ellipse cx="137.83" cy="467.47" rx="1.73" ry="2.17" fill="url(#gR)"/>
<ellipse cx="113.43" cy="468.37" rx="1.73" ry="1.73" fill="url(#gR)"/>
<ellipse cx="112.89" cy="473.43" rx="1.73" ry="1.73" fill="url(#gB)"/>
<ellipse cx="117.95" cy="475.6" rx="1.73" ry="1.73" fill="url(#gR)"/>
<ellipse cx="118.86" cy="470.18" rx="1.3" ry="1.3" fill="url(#gB)"/>
<ellipse cx="152.65" cy="459.34" rx="3.04" ry="3.25" fill="url(#gB)"/>
<ellipse cx="159.16" cy="461.14" rx="3.25" ry="3.9" fill="url(#gR)"/>
<ellipse cx="150.84" cy="463.86" rx="2.17" ry="2.17" fill="url(#gR)"/>
<ellipse cx="156.81" cy="466.2" rx="2.17" ry="2.17" fill="url(#gB)"/>
<ellipse cx="173.07" cy="469.28" rx="4.77" ry="4.77" fill="url(#gB)"/>
<ellipse cx="176.69" cy="465.66" rx="3.25" ry="3.9" fill="url(#gR)"/>
<ellipse cx="143.25" cy="468.37" rx="3.9" ry="3.9" fill="url(#gB)"/>
<ellipse cx="149.58" cy="474.7" rx="4.34" ry="6.51" fill="url(#gR)"/>
<ellipse cx="157.71" cy="473.8" rx="3.25" ry="5.42" fill="url(#gR)"/>
<ellipse cx="139.28" cy="479.22" rx="6.51" ry="6.51" fill="url(#gB)"/>
<ellipse cx="164.94" cy="475.6" rx="5.78" ry="6.14" fill="url(#gB)"/>
<ellipse cx="154.1" cy="484.64" rx="4.34" ry="5.42" fill="url(#gR)"/>
<ellipse cx="162.23" cy="489.16" rx="7.23" ry="8.31" fill="url(#gR)"/>
<ellipse cx="172.17" cy="486.45" rx="5.42" ry="6.33" fill="url(#gB)"/>
<ellipse cx="180.3" cy="481.93" rx="7.77" ry="7.77" fill="url(#gR)"/>
<ellipse cx="123.73" cy="487.35" rx="3.9" ry="4.34" fill="url(#gB)"/>
<ellipse cx="129.7" cy="485.54" rx="2.6" ry="3.25" fill="url(#gR)"/>
<ellipse cx="134.22" cy="488.25" rx="3.25" ry="3.25" fill="url(#gB)"/>
<ellipse cx="133.31" cy="494.58" rx="4.77" ry="3.9" fill="url(#gR)"/>
<ellipse cx="127.89" cy="497.29" rx="2.6" ry="2.17" fill="url(#gB)"/>
<ellipse cx="125.18" cy="496.39" rx="2.17" ry="3.25" fill="url(#gR)"/>
<ellipse cx="149.58" cy="496.93" rx="3.9" ry="3.9" fill="url(#gB)"/>
<ellipse cx="145.06" cy="493.67" rx="2.6" ry="2.17" fill="url(#gR)"/>
<ellipse cx="168.55" cy="500" rx="4.34" ry="4.34" fill="url(#gR)"/>
<ellipse cx="174.88" cy="498.19" rx="5.78" ry="5.06" fill="url(#gB)"/>
<ellipse cx="189.88" cy="491.51" rx="4.77" ry="4.77" fill="url(#gR)"/>
<ellipse cx="184.46" cy="493.31" rx="3.9" ry="4.34" fill="url(#gB)"/>
<ellipse cx="134.22" cy="510.84" rx="3.9" ry="4.34" fill="url(#gR)"/>
<ellipse cx="137.83" cy="513.55" rx="2.6" ry="3.25" fill="url(#gB)"/>
<ellipse cx="141.45" cy="511.75" rx="2.6" ry="3.25" fill="url(#gR)"/>
<ellipse cx="148.67" cy="509.94" rx="5.42" ry="4.34" fill="url(#gB)"/>
<ellipse cx="143.25" cy="517.53" rx="3.25" ry="2.6" fill="url(#gR)"/>
<ellipse cx="160.42" cy="513.55" rx="6.07" ry="6.51" fill="url(#gR)"/>
<ellipse cx="167.65" cy="510.84" rx="3.25" ry="3.9" fill="url(#gR)"/>
<ellipse cx="167.65" cy="517.17" rx="3.25" ry="3.25" fill="url(#gB)"/>
<ellipse cx="155.54" cy="519.88" rx="5.6" ry="5.6" fill="url(#gB)"/>
<ellipse cx="160.42" cy="525.66" rx="2.6" ry="2.17" fill="url(#gB)"/>
<ellipse cx="163.49" cy="523.49" rx="1.73" ry="1.73" fill="url(#gR)"/>
<ellipse cx="181.57" cy="510.84" rx="3.04" ry="2.6" fill="url(#gR)"/>
<ellipse cx="176.69" cy="509.04" rx="2.17" ry="2.17" fill="url(#gB)"/>
<ellipse cx="179.4" cy="517.17" rx="3.04" ry="2.6" fill="url(#gB)"/>
<ellipse cx="174.34" cy="514.46" rx="2.17" ry="2.17" fill="url(#gR)"/>
<ellipse cx="160.96" cy="533.8" rx="6.07" ry="3.9" fill="url(#gR)"/>
<ellipse cx="160.96" cy="540.66" rx="6.07" ry="3.9" fill="url(#gB)"/>
<ellipse cx="145.42" cy="533.43" rx="1.73" ry="1.73" fill="url(#gR)"/>
<ellipse cx="143.61" cy="538.49" rx="1.73" ry="1.73" fill="url(#gB)"/>
<ellipse cx="150.48" cy="536.14" rx="1.73" ry="1.73" fill="url(#gB)"/>
<ellipse cx="148.31" cy="541.02" rx="1.73" ry="1.73" fill="url(#gR)"/>
<ellipse cx="199.64" cy="432.23" rx="1.73" ry="3.25" fill="url(#gB)"/>
<ellipse cx="198.73" cy="442.17" rx="3.25" ry="3.9" fill="url(#gR)"/>
<path d="M119.4 492.77L149.76 496.39" stroke="#cccccc" stroke-width="0.75" stroke-linecap="round"/>
<path d="M119.4 492.77L133.49 503.61" stroke="#cccccc" stroke-width="0.75" stroke-linecap="round"/>
<path d="M133.49 503.61L149.76 496.39" stroke="#cccccc" stroke-width="0.75" stroke-linecap="round"/>
<path d="M123.25 509.64L149.76 496.39" stroke="#cccccc" stroke-width="0.75" stroke-linecap="round"/>
<path d="M123.25 509.64L132.89 510.24" stroke="#cccccc" stroke-width="0.75" stroke-linecap="round"/>
<path d="M133.49 503.61L132.89 521.69" stroke="#cccccc" stroke-width="0.75" stroke-linecap="round"/>
<path d="M133.49 503.61L138.92 479.52" stroke="#cccccc" stroke-width="0.75" stroke-linecap="round"/>
<path d="M149.76 496.39L138.92 479.52" stroke="#cccccc" stroke-width="0.75" stroke-linecap="round"/>
<path d="M149.76 496.39L161.2 507.23" stroke="#cccccc" stroke-width="0.75" stroke-linecap="round"/>
<path d="M149.76 496.39L161.81 481.33" stroke="#cccccc" stroke-width="0.75" stroke-linecap="round"/>
<path d="M149.76 496.39L175.66 496.39" stroke="#cccccc" stroke-width="0.75" stroke-linecap="round"/>
<path d="M110 486.14L119.4 492.77" stroke="#cccccc" stroke-width="0.75" stroke-linecap="round"/>
<path d="M110 515.06L123.25 509.64" stroke="#cccccc" stroke-width="0.75" stroke-linecap="round"/>
<path d="M110 517.47L120.24 509.04" stroke="#cccccc" stroke-width="0.75" stroke-linecap="round"/>
<path d="M147.59 457.47L149.76 496.39" stroke="#cccccc" stroke-width="0.75" stroke-linecap="round"/>
<path d="M155.18 462.65L155.78 481.33" stroke="#cccccc" stroke-width="0.75" stroke-linecap="round"/>
<path d="M120.24 509.04L148.55 498.19" stroke="#cccccc" stroke-width="0.75" stroke-linecap="round"/>
<path d="M123.25 510.24L146.14 500.6" stroke="#cccccc" stroke-width="0.75" stroke-linecap="round"/>
<ellipse cx="132.29" cy="468.07" rx="1.81" ry="1.81" fill="url(#gB)"/>
<ellipse cx="137.11" cy="467.47" rx="1.45" ry="2.41" fill="url(#gR)"/>
<ellipse cx="150.96" cy="465.06" rx="1.81" ry="1.81" fill="url(#gR)"/>
<ellipse cx="156.39" cy="466.27" rx="1.81" ry="1.81" fill="url(#gB)"/>
<ellipse cx="149.76" cy="474.1" rx="3.37" ry="5.42" fill="url(#gR)"/>
<ellipse cx="157.59" cy="473.49" rx="2.65" ry="4.22" fill="url(#gR)"/>
<ellipse cx="155.78" cy="481.33" rx="3.01" ry="4.82" fill="url(#gR)"/>
<ellipse cx="129.28" cy="484.94" rx="2.17" ry="2.65" fill="url(#gR)"/>
<ellipse cx="133.49" cy="487.35" rx="3.01" ry="3.01" fill="url(#gB)"/>
<ellipse cx="127.47" cy="497.59" rx="2.17" ry="1.81" fill="url(#gB)"/>
<ellipse cx="125.06" cy="496.99" rx="1.81" ry="2.65" fill="url(#gR)"/>
<ellipse cx="145.54" cy="493.37" rx="2.17" ry="1.81" fill="url(#gR)"/>
<ellipse cx="152.17" cy="492.17" rx="1.81" ry="1.45" fill="url(#gR)"/>
<ellipse cx="137.11" cy="513.86" rx="2.17" ry="2.65" fill="url(#gB)"/>
<ellipse cx="140.72" cy="512.05" rx="2.17" ry="3.01" fill="url(#gR)"/>
<ellipse cx="148.55" cy="510.24" rx="4.58" ry="3.61" fill="url(#gB)"/>
<ellipse cx="143.13" cy="517.47" rx="2.65" ry="2.17" fill="url(#gR)"/>
<ellipse cx="147.35" cy="515.66" rx="3.01" ry="1.81" fill="url(#gB)"/>
<ellipse cx="138.92" cy="518.67" rx="1.81" ry="1.45" fill="url(#gB)"/>
<ellipse cx="167.23" cy="510.84" rx="2.65" ry="3.37" fill="url(#gR)"/>
<ellipse cx="166.63" cy="516.87" rx="2.65" ry="2.65" fill="url(#gB)"/>
<ellipse cx="160.6" cy="525.9" rx="2.17" ry="1.81" fill="url(#gB)"/>
<ellipse cx="163.61" cy="523.49" rx="1.45" ry="1.45" fill="url(#gR)"/>
<ellipse cx="176.87" cy="509.04" rx="1.81" ry="1.81" fill="url(#gB)"/>
<ellipse cx="179.28" cy="516.87" rx="2.41" ry="2.17" fill="url(#gB)"/>
<ellipse cx="174.46" cy="514.46" rx="1.81" ry="1.81" fill="url(#gR)"/>
<ellipse cx="164.82" cy="475.3" rx="5.78" ry="6.02" fill="url(#gB)"/>
<ellipse cx="172.05" cy="486.14" rx="5.42" ry="6.63" fill="url(#gB)"/>
<ellipse cx="161.81" cy="490.36" rx="7.47" ry="8.19" fill="url(#gR)"/>
<ellipse cx="180.48" cy="482.53" rx="7.59" ry="7.59" fill="url(#gR)"/>
<ellipse cx="138.92" cy="479.52" rx="6.63" ry="6.63" fill="url(#gB)"/>
<ellipse cx="175.66" cy="498.19" rx="5.42" ry="5.06" fill="url(#gB)"/>
<ellipse cx="149.76" cy="496.39" rx="2.89" ry="2.89" fill="url(#gB)"/>
<ellipse cx="155.18" cy="519.88" rx="5.42" ry="5.54" fill="url(#gB)"/>
<circle cx="124.22" cy="460.24" r="1.57" fill="url(#gY)"/>
<circle cx="147.59" cy="457.47" r="1.33" fill="url(#gY)"/>
<circle cx="155.18" cy="462.65" r="1.2" fill="url(#gY)"/>
<circle cx="119.4" cy="492.77" r="1.69" fill="url(#gY)"/>
<circle cx="133.49" cy="503.61" r="1.57" fill="url(#gY)"/>
<circle cx="123.25" cy="509.64" r="1.81" fill="url(#gY)"/>
<circle cx="120.24" cy="509.04" r="1.45" fill="url(#gY)"/>
<circle cx="177.71" cy="512.65" r="1.69" fill="url(#gY)"/>
<circle cx="187.71" cy="492.17" r="1.45" fill="url(#gY)"/>
<circle cx="143.73" cy="511.45" r="1.2" fill="url(#gY)"/>
<circle cx="161.2" cy="507.23" r="2.41" fill="url(#gG)"/>
<circle cx="159.4" cy="499.4" r="1.08" fill="url(#gW)"/>
<circle cx="155.78" cy="507.83" r="1.08" fill="url(#gW)"/>
<circle cx="169.04" cy="507.83" r="1.08" fill="url(#gW)"/>
<circle cx="160.78" cy="507.77" r="2.35" fill="url(#gG)"/>
<circle cx="155.9" cy="508.13" r="0.9" fill="url(#gW)"/>
<circle cx="160.42" cy="500.9" r="0.9" fill="url(#gW)"/>
<circle cx="166.39" cy="507.23" r="0.9" fill="url(#gW)"/>
</g>
<g id="c7">
<g stroke="#bdbdbd" stroke-width="1.35" stroke-linecap="round" fill="none">
<path d="M288.73 445.78L298.67 451.75"/>
<path d="M298.67 451.75L293.61 456.63"/>
<path d="M293.61 456.63L289.64 461.14"/>
<path d="M289.64 461.14L291.45 476.51"/>
<path d="M265.78 463.86L257.47 475.6"/>
<path d="M257.47 475.6L248.43 487.89"/>
<path d="M257.47 475.6L270.12 475.24"/>
<path d="M270.12 475.24L283.31 480.12"/>
<path d="M249.52 520.78L241.2 510.84"/>
<path d="M249.52 520.78L250.78 530.18"/>
<path d="M249.52 520.78L265.24 513.55"/>
<path d="M249.52 520.78L259.82 510.84"/>
<path d="M332.47 524.4L340.6 515.9"/>
<path d="M332.47 524.4L319.82 518.07"/>
<path d="M314.04 531.99L319.82 519.88"/>
<path d="M319.46 487.89L327.59 482.83"/>
<path d="M314.58 472.89L322.53 465.12"/>
<path d="M305.9 482.47L304.1 493.31"/>
<path d="M305.9 482.47L319.46 487.89"/>
<path d="M304.1 493.31L314.04 501.81"/>
<path d="M293.61 456.63L305.9 482.47"/>
<path d="M298.67 451.75L305.9 490.06"/>
<path d="M289.64 461.14L304.1 493.31"/>
<path d="M304.1 493.31L302.29 511.39"/>
<path d="M305.9 482.47L284.22 497.29"/>
<path d="M304.1 493.31L277.35 497.29"/>
<path d="M305.9 490.06L286.02 514.46"/>
<path d="M274.82 537.41L289.28 540.3"/>
<path d="M289.28 540.3L302.29 538.49"/>
<path d="M276.08 507.77L304.1 493.31"/>
<path d="M266.14 500.9L304.1 493.31"/>
<path d="M288.73 445.78L298.67 451.75"/>
<path d="M288.73 445.78L284.47 448.76" stroke="#cfcfd8" stroke-width="1"/>
<path d="M288.73 445.78L284.79 443.42" stroke="#cfcfd8" stroke-width="1"/>
<path d="M288.73 445.78L289.36 440.62" stroke="#cfcfd8" stroke-width="1"/>
<path d="M322.53 465.12L321.87 459.96" stroke="#cfcfd8" stroke-width="1"/>
<path d="M322.53 465.12L326.46 462.72" stroke="#cfcfd8" stroke-width="1"/>
<path d="M322.53 465.12L326.82 468.06" stroke="#cfcfd8" stroke-width="1"/>
<path d="M327.59 482.83L319.46 487.89"/>
<path d="M327.59 482.83L326.89 477.68" stroke="#cfcfd8" stroke-width="1"/>
<path d="M327.59 482.83L331.5 480.4" stroke="#cfcfd8" stroke-width="1"/>
<path d="M327.59 482.83L331.9 485.74" stroke="#cfcfd8" stroke-width="1"/>
<path d="M270.12 475.24L277.89 472.35"/>
<path d="M270.12 475.24L269.78 480.43" stroke="#cfcfd8" stroke-width="1"/>
<path d="M270.12 475.24L265.81 476.85" stroke="#cfcfd8" stroke-width="1"/>
<path d="M270.12 475.24L266.47 471.53" stroke="#cfcfd8" stroke-width="1"/>
<path d="M305.9 490.06L304.1 493.31"/>
<path d="M305.9 490.06L302.79 485.9" stroke="#cfcfd8" stroke-width="1"/>
<path d="M305.9 490.06L308.14 486.04" stroke="#cfcfd8" stroke-width="1"/>
<path d="M305.9 490.06L311.08 490.51" stroke="#cfcfd8" stroke-width="1"/>
<path d="M241.2 510.84L249.52 520.78"/>
<path d="M241.2 510.84L236.2 512.26" stroke="#cfcfd8" stroke-width="1"/>
<path d="M241.2 510.84L238.25 507.31" stroke="#cfcfd8" stroke-width="1"/>
<path d="M241.2 510.84L243.48 506.17" stroke="#cfcfd8" stroke-width="1"/>
<path d="M250.78 530.18L249.52 520.78"/>
<path d="M250.78 530.18L255.77 531.65" stroke="#cfcfd8" stroke-width="1"/>
<path d="M250.78 530.18L251.4 534.74" stroke="#cfcfd8" stroke-width="1"/>
<path d="M250.78 530.18L246.36 532.92" stroke="#cfcfd8" stroke-width="1"/>
<path d="M282.77 528.92L289.28 540.3"/>
<path d="M282.77 528.92L277.6 529.43" stroke="#cfcfd8" stroke-width="1"/>
<path d="M282.77 528.92L280.49 524.92" stroke="#cfcfd8" stroke-width="1"/>
<path d="M282.77 528.92L285.84 524.72" stroke="#cfcfd8" stroke-width="1"/>
<path d="M340.6 515.9L332.47 524.4"/>
<path d="M340.6 515.9L338.64 511.09" stroke="#cfcfd8" stroke-width="1"/>
<path d="M340.6 515.9L343.78 512.58" stroke="#cfcfd8" stroke-width="1"/>
<path d="M340.6 515.9L345.5 517.65" stroke="#cfcfd8" stroke-width="1"/>
<path d="M314.04 531.99L325.78 524.04"/>
<path d="M314.04 531.99L314.94 537.11" stroke="#cfcfd8" stroke-width="1"/>
<path d="M314.04 531.99L310.23 534.57" stroke="#cfcfd8" stroke-width="1"/>
<path d="M314.04 531.99L309.62 529.25" stroke="#cfcfd8" stroke-width="1"/>
<path d="M247.71 427.17L236.33 438.01"/>
<path d="M247.71 427.17L245.98 422.27" stroke="#cfcfd8" stroke-width="1"/>
<path d="M247.71 427.17L251.04 424" stroke="#cfcfd8" stroke-width="1"/>
<path d="M247.71 427.17L252.52 429.14" stroke="#cfcfd8" stroke-width="1"/>
<path d="M242.65 441.63L236.33 438.01"/>
<path d="M242.65 441.63L246.85 438.56" stroke="#cfcfd8" stroke-width="1"/>
<path d="M242.65 441.63L246.64 443.91" stroke="#cfcfd8" stroke-width="1"/>
<path d="M242.65 441.63L242.14 446.8" stroke="#cfcfd8" stroke-width="1"/>
</g>
<circle cx="284.47" cy="448.76" r="1.45" fill="url(#gW)"/>
<circle cx="284.79" cy="443.42" r="1.45" fill="url(#gW)"/>
<circle cx="289.36" cy="440.62" r="1.45" fill="url(#gW)"/>
<circle cx="321.87" cy="459.96" r="1.45" fill="url(#gW)"/>
<circle cx="326.46" cy="462.72" r="1.45" fill="url(#gW)"/>
<circle cx="326.82" cy="468.06" r="1.45" fill="url(#gW)"/>
<circle cx="326.89" cy="477.68" r="1.45" fill="url(#gW)"/>
<circle cx="331.5" cy="480.4" r="1.45" fill="url(#gW)"/>
<circle cx="331.9" cy="485.74" r="1.45" fill="url(#gW)"/>
<circle cx="269.78" cy="480.43" r="1.45" fill="url(#gW)"/>
<circle cx="265.81" cy="476.85" r="1.45" fill="url(#gW)"/>
<circle cx="266.47" cy="471.53" r="1.45" fill="url(#gW)"/>
<circle cx="302.79" cy="485.9" r="1.45" fill="url(#gW)"/>
<circle cx="308.14" cy="486.04" r="1.45" fill="url(#gW)"/>
<circle cx="311.08" cy="490.51" r="1.45" fill="url(#gW)"/>
<circle cx="236.2" cy="512.26" r="1.45" fill="url(#gW)"/>
<circle cx="238.25" cy="507.31" r="1.45" fill="url(#gW)"/>
<circle cx="243.48" cy="506.17" r="1.45" fill="url(#gW)"/>
<circle cx="255.77" cy="531.65" r="1.45" fill="url(#gW)"/>
<circle cx="251.4" cy="534.74" r="1.45" fill="url(#gW)"/>
<circle cx="246.36" cy="532.92" r="1.45" fill="url(#gW)"/>
<circle cx="277.6" cy="529.43" r="1.45" fill="url(#gW)"/>
<circle cx="280.49" cy="524.92" r="1.45" fill="url(#gW)"/>
<circle cx="285.84" cy="524.72" r="1.45" fill="url(#gW)"/>
<circle cx="338.64" cy="511.09" r="1.45" fill="url(#gW)"/>
<circle cx="343.78" cy="512.58" r="1.45" fill="url(#gW)"/>
<circle cx="345.5" cy="517.65" r="1.45" fill="url(#gW)"/>
<circle cx="314.94" cy="537.11" r="1.45" fill="url(#gW)"/>
<circle cx="310.23" cy="534.57" r="1.45" fill="url(#gW)"/>
<circle cx="309.62" cy="529.25" r="1.45" fill="url(#gW)"/>
<circle cx="245.98" cy="422.27" r="1.45" fill="url(#gW)"/>
<circle cx="251.04" cy="424" r="1.45" fill="url(#gW)"/>
<circle cx="252.52" cy="429.14" r="1.45" fill="url(#gW)"/>
<circle cx="246.85" cy="438.56" r="1.45" fill="url(#gW)"/>
<circle cx="246.64" cy="443.91" r="1.45" fill="url(#gW)"/>
<circle cx="242.14" cy="446.8" r="1.45" fill="url(#gW)"/>
<circle cx="288.73" cy="445.78" r="2.35" fill="url(#gG)"/>
<circle cx="322.53" cy="465.12" r="2.11" fill="url(#gG)"/>
<circle cx="327.59" cy="482.83" r="2.35" fill="url(#gG)"/>
<circle cx="270.12" cy="475.24" r="2.58" fill="url(#gG)"/>
<circle cx="305.9" cy="490.06" r="1.88" fill="url(#gG)"/>
<circle cx="241.2" cy="510.84" r="2.58" fill="url(#gG)"/>
<circle cx="250.78" cy="530.18" r="2.35" fill="url(#gG)"/>
<circle cx="282.77" cy="528.92" r="2.11" fill="url(#gG)"/>
<circle cx="340.6" cy="515.9" r="2.35" fill="url(#gG)"/>
<circle cx="314.04" cy="531.99" r="2.35" fill="url(#gG)"/>
<circle cx="247.71" cy="427.17" r="2.11" fill="url(#gG)"/>
<circle cx="242.65" cy="441.63" r="2.35" fill="url(#gG)"/>
<circle cx="298.67" cy="451.75" r="2.35" fill="url(#gY)"/>
<circle cx="293.61" cy="456.63" r="1.88" fill="url(#gY)"/>
<circle cx="289.64" cy="461.14" r="1.88" fill="url(#gY)"/>
<circle cx="265.78" cy="463.86" r="2.11" fill="url(#gY)"/>
<circle cx="257.47" cy="475.6" r="2.11" fill="url(#gY)"/>
<circle cx="277.89" cy="472.35" r="1.88" fill="url(#gY)"/>
<circle cx="248.43" cy="487.89" r="2.35" fill="url(#gY)"/>
<circle cx="305.9" cy="482.47" r="2.11" fill="url(#gY)"/>
<circle cx="304.1" cy="493.31" r="1.88" fill="url(#gY)"/>
<circle cx="319.46" cy="487.89" r="2.35" fill="url(#gY)"/>
<circle cx="327.59" cy="495.84" r="2.11" fill="url(#gY)"/>
<circle cx="249.52" cy="520.78" r="3.05" fill="url(#gY)"/>
<circle cx="265.24" cy="513.55" r="2.11" fill="url(#gY)"/>
<circle cx="319.82" cy="518.07" r="2.11" fill="url(#gY)"/>
<circle cx="325.78" cy="524.04" r="1.88" fill="url(#gY)"/>
<circle cx="332.47" cy="524.4" r="2.35" fill="url(#gY)"/>
<circle cx="289.28" cy="540.3" r="2.11" fill="url(#gY)"/>
<circle cx="276.08" cy="507.77" r="1.88" fill="url(#gY)"/>
<circle cx="314.04" cy="501.81" r="1.88" fill="url(#gY)"/>
<circle cx="236.33" cy="438.01" r="1.64" fill="url(#gY)"/>
<ellipse cx="235.42" cy="425.9" rx="3.25" ry="1.73" fill="url(#gB)"/>
<ellipse cx="236.87" cy="433.67" rx="6.51" ry="4.34" fill="url(#gR)"/>
<ellipse cx="236.33" cy="443.07" rx="6.07" ry="5.42" fill="url(#gB)"/>
<ellipse cx="241.75" cy="447.59" rx="2.17" ry="3.9" fill="url(#gR)"/>
<ellipse cx="263.43" cy="460.24" rx="3.25" ry="2.6" fill="url(#gR)"/>
<ellipse cx="267.59" cy="467.47" rx="3.25" ry="2.6" fill="url(#gB)"/>
<ellipse cx="253.49" cy="472.89" rx="2.17" ry="1.73" fill="url(#gB)"/>
<ellipse cx="256.2" cy="478.31" rx="2.17" ry="1.73" fill="url(#gR)"/>
<ellipse cx="259.28" cy="472.89" rx="1.73" ry="1.73" fill="url(#gR)"/>
<ellipse cx="261.63" cy="478.31" rx="1.73" ry="1.73" fill="url(#gB)"/>
<ellipse cx="267.05" cy="474.7" rx="2.6" ry="2.17" fill="url(#gR)"/>
<ellipse cx="274.28" cy="471.99" rx="2.17" ry="1.73" fill="url(#gB)"/>
<ellipse cx="278.8" cy="472.35" rx="1.73" ry="1.73" fill="url(#gR)"/>
<ellipse cx="244.1" cy="485.54" rx="5.42" ry="5.42" fill="url(#gR)"/>
<ellipse cx="252.05" cy="489.16" rx="4.77" ry="5.42" fill="url(#gB)"/>
<ellipse cx="258.92" cy="493.67" rx="2.6" ry="2.6" fill="url(#gR)"/>
<ellipse cx="258.01" cy="498.19" rx="2.17" ry="1.73" fill="url(#gB)"/>
<ellipse cx="262.53" cy="497.29" rx="2.17" ry="1.73" fill="url(#gR)"/>
<ellipse cx="291.45" cy="476.51" rx="4.34" ry="4.7" fill="url(#gB)"/>
<ellipse cx="277.89" cy="487.35" rx="5.42" ry="7.23" fill="url(#gB)"/>
<ellipse cx="283.31" cy="480.12" rx="7.77" ry="7.95" fill="url(#gR)"/>
<ellipse cx="267.05" cy="489.16" rx="5.42" ry="6.07" fill="url(#gR)"/>
<ellipse cx="273.37" cy="493.67" rx="3.25" ry="4.34" fill="url(#gR)"/>
<ellipse cx="266.14" cy="500.9" rx="6.07" ry="5.42" fill="url(#gR)"/>
<ellipse cx="277.35" cy="497.29" rx="6.51" ry="5.96" fill="url(#gB)"/>
<ellipse cx="299.58" cy="478.31" rx="2.17" ry="3.25" fill="url(#gB)"/>
<ellipse cx="298.67" cy="463.86" rx="3.25" ry="2.17" fill="url(#gB)"/>
<ellipse cx="295.06" cy="467.47" rx="2.17" ry="2.17" fill="url(#gR)"/>
<ellipse cx="293.25" cy="470.18" rx="2.17" ry="2.17" fill="url(#gB)"/>
<ellipse cx="314.58" cy="472.89" rx="3.9" ry="3.9" fill="url(#gR)"/>
<ellipse cx="318.92" cy="470.18" rx="3.04" ry="3.04" fill="url(#gB)"/>
<ellipse cx="317.65" cy="483.73" rx="4.77" ry="3.9" fill="url(#gR)"/>
<ellipse cx="320.36" cy="491.51" rx="4.77" ry="4.34" fill="url(#gB)"/>
<ellipse cx="305.9" cy="477.41" rx="1.73" ry="1.73" fill="url(#gB)"/>
<ellipse cx="309.52" cy="481.93" rx="1.73" ry="1.73" fill="url(#gB)"/>
<ellipse cx="331.57" cy="494.58" rx="3.25" ry="3.47" fill="url(#gR)"/>
<ellipse cx="325.42" cy="497.29" rx="3.25" ry="3.9" fill="url(#gB)"/>
<ellipse cx="295.06" cy="494.58" rx="2.6" ry="3.9" fill="url(#gR)"/>
<ellipse cx="297.77" cy="499.1" rx="2.6" ry="3.25" fill="url(#gB)"/>
<ellipse cx="301.39" cy="505.42" rx="3.25" ry="6.51" fill="url(#gB)"/>
<ellipse cx="309.52" cy="502.71" rx="4.34" ry="2.17" fill="url(#gR)"/>
<ellipse cx="315.84" cy="498.19" rx="3.25" ry="2.17" fill="url(#gR)"/>
<ellipse cx="313.49" cy="501.81" rx="2.17" ry="2.17" fill="url(#gB)"/>
<ellipse cx="314.94" cy="505.42" rx="2.17" ry="2.17" fill="url(#gR)"/>
<ellipse cx="259.82" cy="510.84" rx="5.42" ry="3.25" fill="url(#gR)"/>
<ellipse cx="263.43" cy="517.17" rx="5.42" ry="3.9" fill="url(#gB)"/>
<ellipse cx="266.14" cy="508.49" rx="2.17" ry="2.17" fill="url(#gB)"/>
<ellipse cx="273.37" cy="518.98" rx="4.34" ry="3.25" fill="url(#gB)"/>
<ellipse cx="279.7" cy="511.75" rx="4.34" ry="5.42" fill="url(#gB)"/>
<ellipse cx="290.54" cy="509.04" rx="5.42" ry="2.17" fill="url(#gB)"/>
<ellipse cx="286.02" cy="514.46" rx="7.23" ry="5.96" fill="url(#gR)"/>
<ellipse cx="295.06" cy="516.27" rx="5.42" ry="5.42" fill="url(#gR)"/>
<ellipse cx="287.83" cy="522.59" rx="4.34" ry="2.6" fill="url(#gB)"/>
<ellipse cx="307.71" cy="510.84" rx="5.42" ry="2.17" fill="url(#gR)"/>
<ellipse cx="309.52" cy="515.36" rx="5.42" ry="7.59" fill="url(#gR)"/>
<ellipse cx="314.94" cy="518.98" rx="2.6" ry="2.6" fill="url(#gB)"/>
<ellipse cx="301.39" cy="524.04" rx="6.87" ry="7.41" fill="url(#gB)"/>
<ellipse cx="323.07" cy="515.36" rx="3.04" ry="3.04" fill="url(#gR)"/>
<ellipse cx="318.55" cy="513.55" rx="2.17" ry="2.17" fill="url(#gB)"/>
<ellipse cx="320.36" cy="519.88" rx="2.6" ry="2.17" fill="url(#gB)"/>
<ellipse cx="319.46" cy="516.27" rx="1.73" ry="1.73" fill="url(#gR)"/>
<ellipse cx="274.82" cy="524.4" rx="4.34" ry="1.73" fill="url(#gR)"/>
<ellipse cx="276.63" cy="528.92" rx="3.25" ry="2.17" fill="url(#gB)"/>
<ellipse cx="284.22" cy="531.63" rx="2.6" ry="2.17" fill="url(#gB)"/>
<ellipse cx="274.82" cy="537.41" rx="6.07" ry="4.34" fill="url(#gR)"/>
<ellipse cx="273.37" cy="543.73" rx="4.77" ry="2.17" fill="url(#gB)"/>
<ellipse cx="302.29" cy="538.49" rx="4.77" ry="3.47" fill="url(#gR)"/>
<ellipse cx="303.19" cy="544.28" rx="4.34" ry="1.73" fill="url(#gB)"/>
<ellipse cx="289.28" cy="536.14" rx="2.17" ry="1.73" fill="url(#gR)"/>
<ellipse cx="285.12" cy="540.66" rx="1.73" ry="1.73" fill="url(#gB)"/>
<ellipse cx="293.25" cy="540.66" rx="1.73" ry="1.73" fill="url(#gB)"/>
<ellipse cx="288.73" cy="544.28" rx="2.17" ry="1.3" fill="url(#gR)"/>
<path d="M289.7 461.08L305.36 477.11" stroke="#cccccc" stroke-width="0.75" stroke-linecap="round"/>
<path d="M293.55 456.27L306.2 490.96" stroke="#cccccc" stroke-width="0.75" stroke-linecap="round"/>
<path d="M305.36 477.11L303.8 492.77" stroke="#cccccc" stroke-width="0.75" stroke-linecap="round"/>
<path d="M303.8 492.77L315.84 501.2" stroke="#cccccc" stroke-width="0.75" stroke-linecap="round"/>
<path d="M289.7 461.08L303.8 492.77" stroke="#cccccc" stroke-width="0.75" stroke-linecap="round"/>
<path d="M298.37 451.81L293.55 456.27" stroke="#cccccc" stroke-width="0.75" stroke-linecap="round"/>
<path d="M293.55 456.27L289.7 461.08" stroke="#cccccc" stroke-width="0.75" stroke-linecap="round"/>
<path d="M305.36 477.11L319.46 487.59" stroke="#cccccc" stroke-width="0.75" stroke-linecap="round"/>
<path d="M303.8 492.77L302.59 509.64" stroke="#cccccc" stroke-width="0.75" stroke-linecap="round"/>
<path d="M303.8 492.77L279.1 498.19" stroke="#cccccc" stroke-width="0.75" stroke-linecap="round"/>
<path d="M303.8 492.77L274.88 507.23" stroke="#cccccc" stroke-width="0.75" stroke-linecap="round"/>
<path d="M255 517.47L274.88 507.23" stroke="#cccccc" stroke-width="0.75" stroke-linecap="round"/>
<path d="M255 515.06L264.04 513.25" stroke="#cccccc" stroke-width="0.75" stroke-linecap="round"/>
<path d="M305.36 477.11L287.53 489.76" stroke="#cccccc" stroke-width="0.75" stroke-linecap="round"/>
<path d="M303.8 492.77L291.14 517.47" stroke="#cccccc" stroke-width="0.75" stroke-linecap="round"/>
<path d="M306.2 490.96L320.06 516.87" stroke="#cccccc" stroke-width="0.75" stroke-linecap="round"/>
<path d="M315.84 501.2L320.06 516.87" stroke="#cccccc" stroke-width="0.75" stroke-linecap="round"/>
<path d="M264.04 513.25L291.14 500.6" stroke="#cccccc" stroke-width="0.75" stroke-linecap="round"/>
<ellipse cx="266.45" cy="474.1" rx="2.41" ry="2.17" fill="url(#gR)"/>
<ellipse cx="274.88" cy="471.93" rx="1.69" ry="1.45" fill="url(#gR)"/>
<ellipse cx="279.1" cy="469.28" rx="1.2" ry="1.2" fill="url(#gB)"/>
<ellipse cx="285.72" cy="471.69" rx="1.2" ry="1.2" fill="url(#gR)"/>
<ellipse cx="271.87" cy="490.96" rx="3.01" ry="4.82" fill="url(#gR)"/>
<ellipse cx="273.67" cy="501.81" rx="3.61" ry="3.61" fill="url(#gR)"/>
<ellipse cx="259.22" cy="493.98" rx="2.41" ry="2.65" fill="url(#gR)"/>
<ellipse cx="258.01" cy="498.19" rx="1.81" ry="1.45" fill="url(#gB)"/>
<ellipse cx="262.23" cy="497.59" rx="1.45" ry="1.2" fill="url(#gR)"/>
<ellipse cx="300.18" cy="478.31" rx="2.41" ry="3.01" fill="url(#gB)"/>
<ellipse cx="295.36" cy="465.06" rx="1.81" ry="1.81" fill="url(#gR)"/>
<ellipse cx="293.55" cy="468.67" rx="1.45" ry="1.81" fill="url(#gB)"/>
<ellipse cx="318.86" cy="470.48" rx="2.65" ry="2.65" fill="url(#gB)"/>
<ellipse cx="305.6" cy="478.31" rx="1.2" ry="1.2" fill="url(#gB)"/>
<ellipse cx="305.6" cy="481.93" rx="1.81" ry="1.45" fill="url(#gR)"/>
<ellipse cx="309.82" cy="481.93" rx="1.45" ry="1.45" fill="url(#gB)"/>
<ellipse cx="301.99" cy="482.53" rx="1.45" ry="1.45" fill="url(#gB)"/>
<ellipse cx="294.76" cy="495.18" rx="2.17" ry="3.37" fill="url(#gR)"/>
<ellipse cx="297.17" cy="499.4" rx="2.17" ry="2.41" fill="url(#gB)"/>
<ellipse cx="308.61" cy="502.41" rx="3.61" ry="1.81" fill="url(#gR)"/>
<ellipse cx="315.24" cy="498.19" rx="2.65" ry="1.81" fill="url(#gR)"/>
<ellipse cx="314.04" cy="501.81" rx="1.81" ry="1.81" fill="url(#gB)"/>
<ellipse cx="314.04" cy="505.42" rx="2.41" ry="1.45" fill="url(#gR)"/>
<ellipse cx="317.65" cy="499.4" rx="1.81" ry="1.45" fill="url(#gR)"/>
<ellipse cx="289.94" cy="500.6" rx="2.41" ry="1.45" fill="url(#gR)"/>
<ellipse cx="289.34" cy="503.25" rx="3.01" ry="1.2" fill="url(#gR)"/>
<ellipse cx="291.14" cy="498.19" rx="1.81" ry="1.2" fill="url(#gB)"/>
<ellipse cx="265.84" cy="509.04" rx="1.81" ry="1.81" fill="url(#gB)"/>
<ellipse cx="273.67" cy="518.67" rx="4.22" ry="3.61" fill="url(#gB)"/>
<ellipse cx="279.1" cy="510.24" rx="3.61" ry="4.22" fill="url(#gB)"/>
<ellipse cx="290.54" cy="509.64" rx="4.22" ry="1.45" fill="url(#gB)"/>
<ellipse cx="288.13" cy="522.89" rx="3.61" ry="2.17" fill="url(#gB)"/>
<ellipse cx="307.41" cy="511.45" rx="4.58" ry="1.81" fill="url(#gR)"/>
<ellipse cx="314.64" cy="519.88" rx="1.81" ry="1.81" fill="url(#gB)"/>
<ellipse cx="318.86" cy="513.86" rx="1.45" ry="1.45" fill="url(#gB)"/>
<ellipse cx="320.66" cy="519.88" rx="1.81" ry="2.17" fill="url(#gB)"/>
<ellipse cx="319.46" cy="516.87" rx="1.2" ry="1.2" fill="url(#gR)"/>
<ellipse cx="274.88" cy="524.7" rx="3.61" ry="1.45" fill="url(#gR)"/>
<ellipse cx="276.69" cy="528.31" rx="3.01" ry="1.81" fill="url(#gB)"/>
<ellipse cx="283.92" cy="527.11" rx="2.41" ry="2.41" fill="url(#gB)"/>
<ellipse cx="291.75" cy="477.11" rx="4.22" ry="4.82" fill="url(#gB)"/>
<ellipse cx="278.49" cy="486.14" rx="5.42" ry="6.99" fill="url(#gB)"/>
<ellipse cx="283.31" cy="480.72" rx="7.59" ry="7.95" fill="url(#gR)"/>
<ellipse cx="277.29" cy="497.59" rx="6.39" ry="5.78" fill="url(#gB)"/>
<ellipse cx="285.12" cy="515.06" rx="6.99" ry="5.78" fill="url(#gR)"/>
<ellipse cx="294.76" cy="516.87" rx="5.42" ry="5.42" fill="url(#gR)"/>
<ellipse cx="301.39" cy="505.42" rx="2.65" ry="5.06" fill="url(#gB)"/>
<ellipse cx="301.39" cy="524.1" rx="6.75" ry="7.23" fill="url(#gB)"/>
<circle cx="289.7" cy="461.08" r="1.33" fill="url(#gY)"/>
<circle cx="293.55" cy="456.27" r="1.33" fill="url(#gY)"/>
<circle cx="277.89" cy="472.29" r="1.2" fill="url(#gY)"/>
<circle cx="305.36" cy="477.11" r="1.57" fill="url(#gY)"/>
<circle cx="303.8" cy="492.77" r="1.45" fill="url(#gY)"/>
<circle cx="319.46" cy="487.59" r="1.81" fill="url(#gY)"/>
<circle cx="264.04" cy="513.25" r="1.45" fill="url(#gY)"/>
<circle cx="320.06" cy="516.87" r="1.57" fill="url(#gY)"/>
<circle cx="274.88" cy="507.23" r="1.2" fill="url(#gY)"/>
<circle cx="315.84" cy="501.2" r="1.2" fill="url(#gY)"/>
<circle cx="296.57" cy="466.87" r="1.2" fill="url(#gY)"/>
<circle cx="305.6" cy="481.57" r="1.08" fill="url(#gY)"/>
<circle cx="305.6" cy="490.36" r="1.33" fill="url(#gG)"/>
<circle cx="302.59" cy="509.64" r="1.93" fill="url(#gG)"/>
<circle cx="298.98" cy="510.24" r="0.96" fill="url(#gW)"/>
<circle cx="302.29" cy="511.39" r="1.99" fill="url(#gG)"/>
<circle cx="298.31" cy="511.75" r="0.9" fill="url(#gW)"/>
</g>
<g id="c8">
<g stroke="#bdbdbd" stroke-width="1.35" stroke-linecap="round" fill="none">
<path d="M194.34 564.4L186.2 576.14"/>
<path d="M186.2 576.14L176.63 588.43"/>
<path d="M176.63 588.43L172.29 590.6"/>
<path d="M176.63 588.43L189.82 597.47"/>
<path d="M194.34 564.4L206.08 571.63"/>
<path d="M201.93 641.57L216.93 642.11"/>
<path d="M216.93 642.11L230.84 642.47"/>
<path d="M201.93 641.57L202.47 626.75"/>
<path d="M230.84 642.47L230.48 628.55"/>
<path d="M244.58 572.89L236.27 577.05"/>
<path d="M244.58 572.89L257.23 596.57"/>
<path d="M244.58 572.89L251.27 566.2"/>
<path d="M257.23 596.57L256.14 583.37"/>
<path d="M257.23 596.57L247.65 602.35"/>
<path d="M178.07 622.23L169.4 611.39"/>
<path d="M178.07 622.23L178.98 631.27"/>
<path d="M261.2 626.39L269.34 617.35"/>
<path d="M216.93 546.87L226.87 551.2"/>
<path d="M243.13 633.07L239.52 624.94"/>
<path d="M201.93 641.57L200.66 646.63"/>
<path d="M230.84 642.47L238.07 646.27"/>
<path d="M210.6 586.99L222.35 580.66"/>
<path d="M222.35 580.66L235.9 587.89"/>
<path d="M235.9 587.89L240.42 602.35"/>
<path d="M240.42 602.35L234.1 615.9"/>
<path d="M234.1 615.9L217.83 616.81"/>
<path d="M217.83 616.81L207.89 606.87"/>
<path d="M207.89 606.87L210.6 586.99"/>
<path d="M222.35 580.66L222.89 598.73"/>
<path d="M235.9 587.89L222.89 598.73"/>
<path d="M240.42 602.35L222.89 598.73"/>
<path d="M234.1 615.9L222.89 598.73"/>
<path d="M217.83 616.81L222.89 598.73"/>
<path d="M207.89 606.87L222.89 598.73"/>
<path d="M210.6 586.99L222.89 598.73"/>
<path d="M216.93 546.87L226.87 551.2"/>
<path d="M216.93 546.87L213.08 550.37" stroke="#cfcfd8" stroke-width="1"/>
<path d="M216.93 546.87L212.71 545.03" stroke="#cfcfd8" stroke-width="1"/>
<path d="M216.93 546.87L216.88 541.67" stroke="#cfcfd8" stroke-width="1"/>
<path d="M192.89 563.49L194.34 564.4"/>
<path d="M192.89 563.49L188.57 566.39" stroke="#cfcfd8" stroke-width="1"/>
<path d="M192.89 563.49L188.99 561.06" stroke="#cfcfd8" stroke-width="1"/>
<path d="M192.89 563.49L193.61 558.34" stroke="#cfcfd8" stroke-width="1"/>
<path d="M197.95 576.14L186.2 576.14"/>
<path d="M197.95 576.14L200.08 571.4" stroke="#cfcfd8" stroke-width="1"/>
<path d="M197.95 576.14L202.55 576.14" stroke="#cfcfd8" stroke-width="1"/>
<path d="M197.95 576.14L200.08 580.89" stroke="#cfcfd8" stroke-width="1"/>
<path d="M172.29 590.6L176.63 588.43"/>
<path d="M172.29 590.6L172.51 595.8" stroke="#cfcfd8" stroke-width="1"/>
<path d="M172.29 590.6L168.17 592.66" stroke="#cfcfd8" stroke-width="1"/>
<path d="M172.29 590.6L168.27 587.31" stroke="#cfcfd8" stroke-width="1"/>
<path d="M169.4 611.39L178.07 622.23"/>
<path d="M169.4 611.39L164.36 612.69" stroke="#cfcfd8" stroke-width="1"/>
<path d="M169.4 611.39L166.52 607.79" stroke="#cfcfd8" stroke-width="1"/>
<path d="M169.4 611.39L171.78 606.76" stroke="#cfcfd8" stroke-width="1"/>
<path d="M178.98 631.27L178.07 622.23"/>
<path d="M178.98 631.27L183.91 632.91" stroke="#cfcfd8" stroke-width="1"/>
<path d="M178.98 631.27L179.43 635.84" stroke="#cfcfd8" stroke-width="1"/>
<path d="M178.98 631.27L174.46 633.85" stroke="#cfcfd8" stroke-width="1"/>
<path d="M251.27 566.2L244.58 572.89"/>
<path d="M251.27 566.2L249.41 561.35" stroke="#cfcfd8" stroke-width="1"/>
<path d="M251.27 566.2L254.52 562.95" stroke="#cfcfd8" stroke-width="1"/>
<path d="M251.27 566.2L256.12 568.06" stroke="#cfcfd8" stroke-width="1"/>
<path d="M256.14 583.37L257.23 596.57"/>
<path d="M256.14 583.37L251.24 581.65" stroke="#cfcfd8" stroke-width="1"/>
<path d="M256.14 583.37L255.77 578.79" stroke="#cfcfd8" stroke-width="1"/>
<path d="M256.14 583.37L260.7 580.87" stroke="#cfcfd8" stroke-width="1"/>
<path d="M269.34 617.35L261.2 626.39"/>
<path d="M269.34 617.35L267.23 612.6" stroke="#cfcfd8" stroke-width="1"/>
<path d="M269.34 617.35L272.41 613.93" stroke="#cfcfd8" stroke-width="1"/>
<path d="M269.34 617.35L274.29 618.95" stroke="#cfcfd8" stroke-width="1"/>
<path d="M243.13 633.07L230.84 642.47"/>
<path d="M243.13 633.07L241.94 628.01" stroke="#cfcfd8" stroke-width="1"/>
<path d="M243.13 633.07L246.79 630.28" stroke="#cfcfd8" stroke-width="1"/>
<path d="M243.13 633.07L247.7 635.55" stroke="#cfcfd8" stroke-width="1"/>
<path d="M210.6 629.82L202.47 626.75"/>
<path d="M210.6 629.82L214.27 626.13" stroke="#cfcfd8" stroke-width="1"/>
<path d="M210.6 629.82L214.91 631.44" stroke="#cfcfd8" stroke-width="1"/>
<path d="M210.6 629.82L210.91 635.01" stroke="#cfcfd8" stroke-width="1"/>
<path d="M200.66 646.63L201.93 641.57"/>
<path d="M200.66 646.63L204.75 649.84" stroke="#cfcfd8" stroke-width="1"/>
<path d="M200.66 646.63L199.55 651.09" stroke="#cfcfd8" stroke-width="1"/>
<path d="M200.66 646.63L195.54 647.54" stroke="#cfcfd8" stroke-width="1"/>
<path d="M238.07 646.27L230.84 642.47"/>
<path d="M238.07 646.27L242.16 643.05" stroke="#cfcfd8" stroke-width="1"/>
<path d="M238.07 646.27L242.15 648.4" stroke="#cfcfd8" stroke-width="1"/>
<path d="M238.07 646.27L237.75 651.45" stroke="#cfcfd8" stroke-width="1"/>
<path d="M272.95 546.33L271.06 541.48" stroke="#cfcfd8" stroke-width="1"/>
<path d="M272.95 546.33L276.18 543.05" stroke="#cfcfd8" stroke-width="1"/>
<path d="M272.95 546.33L277.82 548.15" stroke="#cfcfd8" stroke-width="1"/>
<path d="M168.13 541.81L163.18 543.38" stroke="#cfcfd8" stroke-width="1"/>
<path d="M168.13 541.81L165.07 538.37" stroke="#cfcfd8" stroke-width="1"/>
<path d="M168.13 541.81L170.26 537.06" stroke="#cfcfd8" stroke-width="1"/>
</g>
<circle cx="213.08" cy="550.37" r="1.45" fill="url(#gW)"/>
<circle cx="212.71" cy="545.03" r="1.45" fill="url(#gW)"/>
<circle cx="216.88" cy="541.67" r="1.45" fill="url(#gW)"/>
<circle cx="188.57" cy="566.39" r="1.45" fill="url(#gW)"/>
<circle cx="188.99" cy="561.06" r="1.45" fill="url(#gW)"/>
<circle cx="193.61" cy="558.34" r="1.45" fill="url(#gW)"/>
<circle cx="200.08" cy="571.4" r="1.45" fill="url(#gW)"/>
<circle cx="202.55" cy="576.14" r="1.45" fill="url(#gW)"/>
<circle cx="200.08" cy="580.89" r="1.45" fill="url(#gW)"/>
<circle cx="172.51" cy="595.8" r="1.45" fill="url(#gW)"/>
<circle cx="168.17" cy="592.66" r="1.45" fill="url(#gW)"/>
<circle cx="168.27" cy="587.31" r="1.45" fill="url(#gW)"/>
<circle cx="164.36" cy="612.69" r="1.45" fill="url(#gW)"/>
<circle cx="166.52" cy="607.79" r="1.45" fill="url(#gW)"/>
<circle cx="171.78" cy="606.76" r="1.45" fill="url(#gW)"/>
<circle cx="183.91" cy="632.91" r="1.45" fill="url(#gW)"/>
<circle cx="179.43" cy="635.84" r="1.45" fill="url(#gW)"/>
<circle cx="174.46" cy="633.85" r="1.45" fill="url(#gW)"/>
<circle cx="249.41" cy="561.35" r="1.45" fill="url(#gW)"/>
<circle cx="254.52" cy="562.95" r="1.45" fill="url(#gW)"/>
<circle cx="256.12" cy="568.06" r="1.45" fill="url(#gW)"/>
<circle cx="251.24" cy="581.65" r="1.45" fill="url(#gW)"/>
<circle cx="255.77" cy="578.79" r="1.45" fill="url(#gW)"/>
<circle cx="260.7" cy="580.87" r="1.45" fill="url(#gW)"/>
<circle cx="267.23" cy="612.6" r="1.45" fill="url(#gW)"/>
<circle cx="272.41" cy="613.93" r="1.45" fill="url(#gW)"/>
<circle cx="274.29" cy="618.95" r="1.45" fill="url(#gW)"/>
<circle cx="241.94" cy="628.01" r="1.45" fill="url(#gW)"/>
<circle cx="246.79" cy="630.28" r="1.45" fill="url(#gW)"/>
<circle cx="247.7" cy="635.55" r="1.45" fill="url(#gW)"/>
<circle cx="214.27" cy="626.13" r="1.45" fill="url(#gW)"/>
<circle cx="214.91" cy="631.44" r="1.45" fill="url(#gW)"/>
<circle cx="210.91" cy="635.01" r="1.45" fill="url(#gW)"/>
<circle cx="204.75" cy="649.84" r="1.45" fill="url(#gW)"/>
<circle cx="199.55" cy="651.09" r="1.45" fill="url(#gW)"/>
<circle cx="195.54" cy="647.54" r="1.45" fill="url(#gW)"/>
<circle cx="242.16" cy="643.05" r="1.45" fill="url(#gW)"/>
<circle cx="242.15" cy="648.4" r="1.45" fill="url(#gW)"/>
<circle cx="237.75" cy="651.45" r="1.45" fill="url(#gW)"/>
<circle cx="271.06" cy="541.48" r="1.45" fill="url(#gW)"/>
<circle cx="276.18" cy="543.05" r="1.45" fill="url(#gW)"/>
<circle cx="277.82" cy="548.15" r="1.45" fill="url(#gW)"/>
<circle cx="163.18" cy="543.38" r="1.45" fill="url(#gW)"/>
<circle cx="165.07" cy="538.37" r="1.45" fill="url(#gW)"/>
<circle cx="170.26" cy="537.06" r="1.45" fill="url(#gW)"/>
<circle cx="216.93" cy="546.87" r="2.35" fill="url(#gG)"/>
<circle cx="192.89" cy="563.49" r="1.88" fill="url(#gG)"/>
<circle cx="197.95" cy="576.14" r="2.58" fill="url(#gG)"/>
<circle cx="172.29" cy="590.6" r="2.11" fill="url(#gG)"/>
<circle cx="169.4" cy="611.39" r="2.35" fill="url(#gG)"/>
<circle cx="178.98" cy="631.27" r="2.35" fill="url(#gG)"/>
<circle cx="251.27" cy="566.2" r="2.11" fill="url(#gG)"/>
<circle cx="256.14" cy="583.37" r="2.35" fill="url(#gG)"/>
<circle cx="269.34" cy="617.35" r="2.35" fill="url(#gG)"/>
<circle cx="243.13" cy="633.07" r="2.11" fill="url(#gG)"/>
<circle cx="210.6" cy="629.82" r="2.11" fill="url(#gG)"/>
<circle cx="200.66" cy="646.63" r="2.35" fill="url(#gG)"/>
<circle cx="238.07" cy="646.27" r="2.35" fill="url(#gG)"/>
<circle cx="272.95" cy="546.33" r="2.35" fill="url(#gG)"/>
<circle cx="168.13" cy="541.81" r="1.88" fill="url(#gG)"/>
<circle cx="194.34" cy="564.4" r="2.35" fill="url(#gY)"/>
<circle cx="186.2" cy="576.14" r="2.35" fill="url(#gY)"/>
<circle cx="176.63" cy="588.43" r="2.82" fill="url(#gY)"/>
<circle cx="244.58" cy="572.89" r="2.11" fill="url(#gY)"/>
<circle cx="257.23" cy="596.57" r="2.35" fill="url(#gY)"/>
<circle cx="178.07" cy="622.23" r="2.35" fill="url(#gY)"/>
<circle cx="201.93" cy="641.57" r="2.58" fill="url(#gY)"/>
<circle cx="216.93" cy="642.11" r="2.35" fill="url(#gY)"/>
<circle cx="230.84" cy="642.47" r="2.58" fill="url(#gY)"/>
<circle cx="226.87" cy="551.2" r="1.88" fill="url(#gY)"/>
<circle cx="217.83" cy="561.69" r="1.64" fill="url(#gY)"/>
<circle cx="202.47" cy="626.75" r="1.88" fill="url(#gY)"/>
<circle cx="261.2" cy="626.39" r="2.11" fill="url(#gY)"/>
<circle cx="197.05" cy="591.51" r="1.88" fill="url(#gY)"/>
<circle cx="231.39" cy="584.28" r="1.64" fill="url(#gY)"/>
<ellipse cx="163.61" cy="543.25" rx="4.34" ry="3.25" fill="url(#gB)"/>
<ellipse cx="275.66" cy="540.9" rx="4.34" ry="1.73" fill="url(#gR)"/>
<ellipse cx="277.47" cy="547.23" rx="2.6" ry="2.17" fill="url(#gB)"/>
<ellipse cx="228.67" cy="547.23" rx="5.42" ry="4.34" fill="url(#gB)"/>
<ellipse cx="225.42" cy="555.36" rx="6.07" ry="4.34" fill="url(#gR)"/>
<ellipse cx="216.93" cy="557.71" rx="3.25" ry="3.9" fill="url(#gB)"/>
<ellipse cx="224.16" cy="563.49" rx="4.77" ry="2.6" fill="url(#gB)"/>
<ellipse cx="225.06" cy="567.11" rx="4.77" ry="2.17" fill="url(#gR)"/>
<ellipse cx="216.02" cy="564.4" rx="2.17" ry="2.6" fill="url(#gB)"/>
<ellipse cx="206.08" cy="569.28" rx="2.6" ry="2.17" fill="url(#gB)"/>
<ellipse cx="206.63" cy="572.89" rx="2.17" ry="1.73" fill="url(#gR)"/>
<ellipse cx="225.96" cy="572.53" rx="3.9" ry="3.25" fill="url(#gB)"/>
<ellipse cx="217.47" cy="574.34" rx="6.14" ry="5.06" fill="url(#gB)"/>
<ellipse cx="236.27" cy="577.05" rx="5.78" ry="5.06" fill="url(#gB)"/>
<ellipse cx="210.96" cy="582.47" rx="6.51" ry="4.77" fill="url(#gR)"/>
<ellipse cx="249.46" cy="587.35" rx="4.34" ry="4.34" fill="url(#gR)"/>
<ellipse cx="222.35" cy="583.37" rx="2.6" ry="1.73" fill="url(#gR)"/>
<ellipse cx="201.93" cy="587.89" rx="3.25" ry="3.9" fill="url(#gB)"/>
<ellipse cx="195.24" cy="590.6" rx="3.9" ry="3.25" fill="url(#gR)"/>
<ellipse cx="231.93" cy="582.47" rx="3.25" ry="3.9" fill="url(#gR)"/>
<ellipse cx="234.1" cy="586.99" rx="2.6" ry="2.17" fill="url(#gB)"/>
<ellipse cx="222.35" cy="600.54" rx="14.1" ry="14.1" fill="url(#gR)"/>
<ellipse cx="202.47" cy="598.19" rx="5.96" ry="5.96" fill="url(#gB)"/>
<ellipse cx="186.2" cy="597.83" rx="2.6" ry="3.25" fill="url(#gB)"/>
<ellipse cx="189.82" cy="597.47" rx="1.73" ry="3.25" fill="url(#gR)"/>
<ellipse cx="195.24" cy="604.16" rx="5.42" ry="3.25" fill="url(#gB)"/>
<ellipse cx="192.53" cy="609.58" rx="3.9" ry="4.34" fill="url(#gB)"/>
<ellipse cx="247.65" cy="602.35" rx="5.42" ry="6.51" fill="url(#gB)"/>
<ellipse cx="242.23" cy="598.73" rx="2.6" ry="4.34" fill="url(#gR)"/>
<ellipse cx="238.07" cy="600.54" rx="2.17" ry="3.9" fill="url(#gB)"/>
<ellipse cx="204.28" cy="607.77" rx="3.9" ry="3.9" fill="url(#gR)"/>
<ellipse cx="200.66" cy="612.29" rx="5.42" ry="6.07" fill="url(#gB)"/>
<ellipse cx="193.43" cy="613.73" rx="3.25" ry="4.34" fill="url(#gR)"/>
<ellipse cx="188.01" cy="615" rx="3.25" ry="3.25" fill="url(#gB)"/>
<ellipse cx="181.33" cy="618.07" rx="4.77" ry="5.42" fill="url(#gR)"/>
<ellipse cx="172.65" cy="623.13" rx="6.51" ry="6.51" fill="url(#gB)"/>
<ellipse cx="210.96" cy="617.35" rx="5.78" ry="6.33" fill="url(#gB)"/>
<ellipse cx="239.16" cy="618.07" rx="5.96" ry="6.87" fill="url(#gB)"/>
<ellipse cx="229.58" cy="624.58" rx="6.07" ry="5.42" fill="url(#gR)"/>
<ellipse cx="218.73" cy="621.33" rx="3.9" ry="3.25" fill="url(#gB)"/>
<ellipse cx="222.35" cy="624.04" rx="2.17" ry="2.17" fill="url(#gB)"/>
<ellipse cx="248.55" cy="616.81" rx="3.25" ry="4.77" fill="url(#gR)"/>
<ellipse cx="252.17" cy="619.52" rx="2.17" ry="4.34" fill="url(#gB)"/>
<ellipse cx="244.94" cy="624.04" rx="2.6" ry="3.25" fill="url(#gR)"/>
<ellipse cx="258.86" cy="622.23" rx="4.77" ry="5.42" fill="url(#gR)"/>
<ellipse cx="263.92" cy="628.55" rx="5.42" ry="5.42" fill="url(#gB)"/>
<ellipse cx="250.36" cy="627.65" rx="3.25" ry="2.6" fill="url(#gB)"/>
<ellipse cx="200.12" cy="628.55" rx="3.04" ry="2.17" fill="url(#gB)"/>
<ellipse cx="201.93" cy="624.94" rx="2.17" ry="1.73" fill="url(#gR)"/>
<ellipse cx="233.73" cy="629.46" rx="2.6" ry="2.17" fill="url(#gB)"/>
<ellipse cx="196.14" cy="599.64" rx="2.71" ry="3.61" fill="url(#gB)"/>
<ellipse cx="191.63" cy="603.25" rx="2.17" ry="2.17" fill="url(#gR)"/>
<ellipse cx="188.92" cy="605.06" rx="3.25" ry="2.17" fill="url(#gB)"/>
<ellipse cx="198.86" cy="615.9" rx="2.17" ry="2.71" fill="url(#gR)"/>
<ellipse cx="205.18" cy="611.39" rx="2.71" ry="3.61" fill="url(#gB)"/>
<ellipse cx="214.22" cy="620.42" rx="3.61" ry="2.17" fill="url(#gR)"/>
<ellipse cx="223.25" cy="619.52" rx="3.61" ry="1.81" fill="url(#gB)"/>
<ellipse cx="219.64" cy="624.94" rx="2.71" ry="1.81" fill="url(#gR)"/>
<ellipse cx="244.94" cy="612.29" rx="2.17" ry="2.71" fill="url(#gB)"/>
<ellipse cx="242.23" cy="608.67" rx="1.81" ry="1.81" fill="url(#gR)"/>
<ellipse cx="231.39" cy="591.51" rx="2.17" ry="2.17" fill="url(#gR)"/>
<ellipse cx="239.52" cy="592.41" rx="2.17" ry="2.17" fill="url(#gB)"/>
<ellipse cx="206.99" cy="590.6" rx="2.71" ry="2.17" fill="url(#gB)"/>
<ellipse cx="214.22" cy="586.99" rx="3.25" ry="1.81" fill="url(#gR)"/>
<ellipse cx="206.99" cy="578.86" rx="2.17" ry="1.81" fill="url(#gR)"/>
<ellipse cx="228.67" cy="578.86" rx="2.71" ry="1.81" fill="url(#gB)"/>
<ellipse cx="222.35" cy="568.92" rx="2.17" ry="1.81" fill="url(#gR)"/>
<ellipse cx="183.49" cy="612.29" rx="2.17" ry="2.17" fill="url(#gB)"/>
<ellipse cx="187.11" cy="619.52" rx="2.17" ry="1.81" fill="url(#gR)"/>
<ellipse cx="196.14" cy="621.33" rx="2.71" ry="2.17" fill="url(#gB)"/>
<ellipse cx="235.9" cy="594.22" rx="1.81" ry="2.71" fill="url(#gR)"/>
<ellipse cx="244.04" cy="588.8" rx="1.81" ry="2.17" fill="url(#gB)"/>
<polygon points="210.12,588.92 220.96,585.9 233.01,588.92 239.04,597.35 236.63,608.19 228.19,615.42 217.35,614.22 210.12,606.99 208.31,597.35" fill="url(#gR)" stroke="#ee0a0a" stroke-width="2.2" stroke-linejoin="round"/>
<path d="M222.17 599.16L210.12 588.92" stroke="#ff9c9c" stroke-width="0.55" stroke-linecap="round"/>
<path d="M222.17 599.16L220.96 585.9" stroke="#ff9c9c" stroke-width="0.55" stroke-linecap="round"/>
<path d="M222.17 599.16L233.01 588.92" stroke="#ff9c9c" stroke-width="0.55" stroke-linecap="round"/>
<path d="M222.17 599.16L239.04 597.35" stroke="#ff9c9c" stroke-width="0.55" stroke-linecap="round"/>
<path d="M222.17 599.16L236.63 608.19" stroke="#ff9c9c" stroke-width="0.55" stroke-linecap="round"/>
<path d="M222.17 599.16L228.19 615.42" stroke="#ff9c9c" stroke-width="0.55" stroke-linecap="round"/>
<path d="M222.17 599.16L217.35 614.22" stroke="#ff9c9c" stroke-width="0.55" stroke-linecap="round"/>
<path d="M222.17 599.16L210.12 606.99" stroke="#ff9c9c" stroke-width="0.55" stroke-linecap="round"/>
<path d="M210.12 588.92L220.96 585.9" stroke="#ff9c9c" stroke-width="0.55" stroke-linecap="round"/>
<path d="M220.96 585.9L233.01 588.92" stroke="#ff9c9c" stroke-width="0.55" stroke-linecap="round"/>
<path d="M233.01 588.92L239.04 597.35" stroke="#ff9c9c" stroke-width="0.55" stroke-linecap="round"/>
<path d="M239.04 597.35L236.63 608.19" stroke="#ff9c9c" stroke-width="0.55" stroke-linecap="round"/>
<path d="M236.63 608.19L228.19 615.42" stroke="#ff9c9c" stroke-width="0.55" stroke-linecap="round"/>
<path d="M228.19 615.42L217.35 614.22" stroke="#ff9c9c" stroke-width="0.55" stroke-linecap="round"/>
<path d="M217.35 614.22L210.12 606.99" stroke="#ff9c9c" stroke-width="0.55" stroke-linecap="round"/>
<path d="M210.12 606.99L208.31 597.35" stroke="#ff9c9c" stroke-width="0.55" stroke-linecap="round"/>
<path d="M208.31 597.35L210.12 588.92" stroke="#ff9c9c" stroke-width="0.55" stroke-linecap="round"/>
<ellipse cx="222.17" cy="599.16" rx="1.69" ry="1.69" fill="url(#gB)"/>
<ellipse cx="225.18" cy="572.05" rx="3.37" ry="3.01" fill="url(#gB)"/>
<ellipse cx="221.57" cy="582.29" rx="2.17" ry="1.45" fill="url(#gR)"/>
<ellipse cx="234.82" cy="584.1" rx="2.65" ry="3.01" fill="url(#gR)"/>
<ellipse cx="231.81" cy="585.9" rx="2.41" ry="2.41" fill="url(#gB)"/>
<ellipse cx="205.3" cy="569.04" rx="2.41" ry="2.17" fill="url(#gB)"/>
<ellipse cx="205.9" cy="572.65" rx="1.81" ry="1.45" fill="url(#gR)"/>
<ellipse cx="225.18" cy="567.23" rx="4.22" ry="1.81" fill="url(#gR)"/>
<ellipse cx="201.08" cy="587.71" rx="2.41" ry="3.01" fill="url(#gB)"/>
<ellipse cx="195.06" cy="590.12" rx="2.65" ry="2.65" fill="url(#gR)"/>
<ellipse cx="203.49" cy="582.29" rx="1.81" ry="1.81" fill="url(#gB)"/>
<ellipse cx="185.42" cy="597.35" rx="2.17" ry="2.41" fill="url(#gB)"/>
<ellipse cx="189.64" cy="597.35" rx="1.45" ry="3.01" fill="url(#gR)"/>
<ellipse cx="193.25" cy="596.14" rx="1.81" ry="1.81" fill="url(#gB)"/>
<ellipse cx="193.86" cy="603.98" rx="3.61" ry="2.65" fill="url(#gB)"/>
<ellipse cx="191.45" cy="609.4" rx="3.01" ry="3.61" fill="url(#gB)"/>
<ellipse cx="193.86" cy="613.61" rx="2.65" ry="3.61" fill="url(#gR)"/>
<ellipse cx="188.43" cy="614.82" rx="2.65" ry="2.65" fill="url(#gB)"/>
<ellipse cx="242.05" cy="598.55" rx="1.81" ry="3.61" fill="url(#gR)"/>
<ellipse cx="237.83" cy="600.36" rx="1.81" ry="3.37" fill="url(#gB)"/>
<ellipse cx="218.55" cy="622.05" rx="3.01" ry="2.41" fill="url(#gB)"/>
<ellipse cx="222.17" cy="617.83" rx="1.81" ry="1.45" fill="url(#gB)"/>
<ellipse cx="248.67" cy="617.23" rx="2.65" ry="3.86" fill="url(#gR)"/>
<ellipse cx="252.29" cy="619.04" rx="1.81" ry="3.61" fill="url(#gB)"/>
<ellipse cx="245.06" cy="623.25" rx="3.01" ry="3.01" fill="url(#gR)"/>
<ellipse cx="251.08" cy="626.87" rx="3.01" ry="2.17" fill="url(#gB)"/>
<ellipse cx="199.28" cy="628.67" rx="2.65" ry="1.81" fill="url(#gB)"/>
<ellipse cx="201.69" cy="625.66" rx="1.81" ry="1.45" fill="url(#gR)"/>
<ellipse cx="233.61" cy="629.88" rx="2.17" ry="1.81" fill="url(#gB)"/>
<ellipse cx="234.22" cy="608.19" rx="1.81" ry="2.41" fill="url(#gR)"/>
<ellipse cx="231.81" cy="616.63" rx="3.01" ry="2.41" fill="url(#gR)"/>
<ellipse cx="217.35" cy="574.46" rx="6.02" ry="5.06" fill="url(#gB)"/>
<ellipse cx="236.63" cy="576.87" rx="5.78" ry="5.06" fill="url(#gB)"/>
<ellipse cx="210.12" cy="582.29" rx="5.42" ry="3.98" fill="url(#gR)"/>
<ellipse cx="201.69" cy="597.35" rx="5.78" ry="5.78" fill="url(#gB)"/>
<ellipse cx="204.7" cy="606.99" rx="3.37" ry="3.37" fill="url(#gR)"/>
<ellipse cx="199.88" cy="611.81" rx="4.22" ry="5.06" fill="url(#gB)"/>
<ellipse cx="247.47" cy="602.17" rx="4.58" ry="5.42" fill="url(#gB)"/>
<ellipse cx="211.08" cy="617.23" rx="5.78" ry="6.27" fill="url(#gB)"/>
<ellipse cx="239.04" cy="616.63" rx="5.78" ry="6.75" fill="url(#gB)"/>
<ellipse cx="228.8" cy="625.06" rx="4.82" ry="4.58" fill="url(#gR)"/>
<ellipse cx="249.28" cy="587.11" rx="3.61" ry="3.61" fill="url(#gR)"/>
<circle cx="244.82" cy="572.05" r="1.69" fill="url(#gY)"/>
<circle cx="197.47" cy="591.57" r="1.45" fill="url(#gY)"/>
<circle cx="202.29" cy="625.66" r="1.2" fill="url(#gY)"/>
<circle cx="226.39" cy="620.24" r="1.2" fill="url(#gY)"/>
<circle cx="250.48" cy="584.1" r="0.96" fill="url(#gY)"/>
<circle cx="230.6" cy="611.81" r="2.17" fill="url(#gG)"/>
<circle cx="230" cy="603.98" r="1.08" fill="url(#gW)"/>
<circle cx="225.78" cy="611.81" r="1.2" fill="url(#gW)"/>
<circle cx="239.04" cy="612.41" r="1.2" fill="url(#gW)"/>
<circle cx="231.39" cy="611.93" r="2.17" fill="url(#gG)"/>
<circle cx="226.87" cy="612.29" r="0.9" fill="url(#gW)"/>
<circle cx="230.48" cy="605.06" r="0.9" fill="url(#gW)"/>
<circle cx="238.07" cy="612.65" r="0.9" fill="url(#gW)"/>
</g>
<text class="lb" x="306" y="53.8">LUMO+3</text><text class="lb" x="306" y="71">-3.41 eV</text>
<text class="lb" x="55" y="164">LUMO+1</text><text class="lb" x="55" y="181.2">-3.50 eV</text>
<text class="lb" x="379" y="164">LUMO+2</text><text class="lb" x="379" y="181.2">-3.50 eV</text>
<text class="lb" x="127" y="274.1">LUMO</text><text class="lb" x="127" y="291.3">-3.79 eV</text>
<text class="lb" x="127" y="392">HOMO</text><text class="lb" x="127" y="409.2">-4.73 eV</text>
<text class="lb" x="55" y="491.2">HOMO-1</text><text class="lb" x="55" y="508.4">-4.82 eV</text>
<text class="lb" x="379" y="491">HOMO-2</text><text class="lb" x="379" y="508.2">-4.86 eV</text>
<text class="lb" x="316" y="599.4">HOMO-3</text><text class="lb" x="316" y="616.6">-4.99 eV</text>
<text x="34" y="61.5" font-size="33" font-weight="bold" fill="#111">a</text>
<g id="chart">
<rect x="379.6" y="247.9" width="318.6" height="212.9" fill="#fff" stroke="#4d4d4d" stroke-width="1"/>
<path d="M377 260.3H379.6" stroke="#333" stroke-width="0.8"/>
<text class="tk" transform="translate(375 263.9) scale(1.2 1)">0</text>
<path d="M377 289.78H379.6" stroke="#333" stroke-width="0.8"/>
<text class="tk" transform="translate(375 293.38) scale(1.2 1)">−1</text>
<path d="M377 319.26H379.6" stroke="#333" stroke-width="0.8"/>
<text class="tk" transform="translate(375 322.86) scale(1.2 1)">−2</text>
<path d="M377 348.74H379.6" stroke="#333" stroke-width="0.8"/>
<text class="tk" transform="translate(375 352.34) scale(1.2 1)">−3</text>
<path d="M377 378.22H379.6" stroke="#333" stroke-width="0.8"/>
<text class="tk" transform="translate(375 381.82) scale(1.2 1)">−4</text>
<path d="M377 407.7H379.6" stroke="#333" stroke-width="0.8"/>
<text class="tk" transform="translate(375 411.3) scale(1.2 1)">−5</text>
<path d="M377 437.18H379.6" stroke="#333" stroke-width="0.8"/>
<text class="tk" transform="translate(375 440.78) scale(1.2 1)">−6</text>
<text transform="translate(354.3 354.8) rotate(-90) scale(1.17 1)" font-size="12" fill="#222" text-anchor="middle">Energy (eV)</text>
<rect x="424.3" y="257.02" width="35.31" height="1" fill="#0a0af5"/>
<rect x="459.61" y="257.02" width="7.19" height="1" fill="#f50a0a"/>
<rect x="466.8" y="257.02" width="24.24" height="1" fill="#9a9ec4"/>
<rect x="491.03" y="257.02" width="120.84" height="1" fill="#ffcf08"/>
<rect x="611.87" y="257.02" width="39.53" height="1" fill="#828282"/>
<rect x="424.3" y="258.02" width="35.31" height="1" fill="#0a0af5"/>
<rect x="459.61" y="258.02" width="7.19" height="1" fill="#f50a0a"/>
<rect x="466.8" y="258.02" width="8.36" height="1" fill="#ffe994"/>
<rect x="475.16" y="258.02" width="120.84" height="1" fill="#ffcf08"/>
<rect x="595.99" y="258.02" width="15.88" height="1" fill="#c8b46a"/>
<rect x="611.87" y="258.02" width="39.53" height="1" fill="#828282"/>
<rect x="424.3" y="259.69" width="41.66" height="2.01" fill="#0a0af5"/>
<rect x="465.96" y="259.69" width="5.85" height="2.01" fill="#ffe994"/>
<rect x="471.81" y="259.69" width="141.73" height="2.01" fill="#ffcf08"/>
<rect x="613.54" y="259.69" width="37.86" height="2.01" fill="#828282"/>
<rect x="424.3" y="261.7" width="40.83" height="2.01" fill="#0a0af5"/>
<rect x="465.13" y="261.7" width="30.92" height="2.01" fill="#f50a0a"/>
<rect x="496.05" y="261.7" width="4.18" height="2.01" fill="#ffe994"/>
<rect x="500.23" y="261.7" width="131.7" height="2.01" fill="#ffcf08"/>
<rect x="631.93" y="261.7" width="19.47" height="2.01" fill="#828282"/>
<rect x="424.3" y="264.37" width="31.64" height="2.01" fill="#0a0af5"/>
<rect x="455.94" y="264.37" width="10.86" height="2.01" fill="#f50a0a"/>
<rect x="466.8" y="264.37" width="3.34" height="2.01" fill="#ffe994"/>
<rect x="470.14" y="264.37" width="170.14" height="2.01" fill="#ffcf08"/>
<rect x="640.28" y="264.37" width="11.12" height="2.01" fill="#828282"/>
<rect x="424.3" y="266.38" width="24.95" height="2.01" fill="#0a0af5"/>
<rect x="449.25" y="266.38" width="4.18" height="2.01" fill="#f50a0a"/>
<rect x="453.43" y="266.38" width="8.36" height="2.01" fill="#ffe994"/>
<rect x="461.79" y="266.38" width="167.63" height="2.01" fill="#ffcf08"/>
<rect x="629.42" y="266.38" width="21.98" height="2.01" fill="#828282"/>
<rect x="424.3" y="271.06" width="23.28" height="2.01" fill="#0a0af5"/>
<rect x="447.58" y="271.06" width="15.88" height="2.01" fill="#f50a0a"/>
<rect x="463.46" y="271.06" width="6.69" height="2.01" fill="#ff7f7f"/>
<rect x="470.14" y="271.06" width="6.69" height="2.01" fill="#ffe994"/>
<rect x="476.83" y="271.06" width="169.31" height="2.01" fill="#ffcf08"/>
<rect x="646.13" y="271.06" width="5.27" height="2.01" fill="#828282"/>
<rect x="424.3" y="275.07" width="40.83" height="1.67" fill="#0a0af5"/>
<rect x="465.13" y="275.07" width="5.01" height="1.67" fill="#ff7f7f"/>
<rect x="470.14" y="275.07" width="24.24" height="1.67" fill="#f50a0a"/>
<rect x="494.38" y="275.07" width="5.85" height="1.67" fill="#ffe994"/>
<rect x="500.23" y="275.07" width="142.9" height="1.67" fill="#ffcf08"/>
<rect x="643.13" y="275.07" width="8.27" height="1.67" fill="#828282"/>
<rect x="424.3" y="278.75" width="34.14" height="2.17" fill="#0a0af5"/>
<rect x="458.44" y="278.75" width="5.01" height="2.17" fill="#9a9ec4"/>
<rect x="463.46" y="278.75" width="0.84" height="2.17" fill="#ffcf08"/>
<rect x="464.29" y="278.75" width="42.62" height="2.17" fill="#c8b46a"/>
<rect x="506.91" y="278.75" width="104.12" height="2.17" fill="#ffcf08"/>
<rect x="611.03" y="278.75" width="39.28" height="2.17" fill="#c8b46a"/>
<rect x="650.31" y="278.75" width="1.09" height="2.17" fill="#ffcf08"/>
<rect x="424.3" y="281.09" width="20.77" height="2.34" fill="#0a0af5"/>
<rect x="445.07" y="281.09" width="8.36" height="2.34" fill="#f50a0a"/>
<rect x="453.43" y="281.09" width="6.69" height="2.34" fill="#0a0af5"/>
<rect x="460.11" y="281.09" width="6.69" height="2.34" fill="#ffe994"/>
<rect x="466.8" y="281.09" width="164.29" height="2.34" fill="#ffcf08"/>
<rect x="631.09" y="281.09" width="20.31" height="2.34" fill="#828282"/>
<rect x="424.3" y="283.43" width="29.13" height="2.51" fill="#0a0af5"/>
<rect x="453.43" y="283.43" width="7.52" height="2.51" fill="#f50a0a"/>
<rect x="460.95" y="283.43" width="5.85" height="2.51" fill="#ffe994"/>
<rect x="466.8" y="283.43" width="150.92" height="2.51" fill="#ffcf08"/>
<rect x="617.72" y="283.43" width="33.68" height="2.51" fill="#828282"/>
<rect x="424.3" y="285.94" width="34.14" height="2.51" fill="#0a0af5"/>
<rect x="458.44" y="285.94" width="6.69" height="2.51" fill="#f50a0a"/>
<rect x="465.13" y="285.94" width="10.03" height="2.51" fill="#ffe994"/>
<rect x="475.16" y="285.94" width="145.91" height="2.51" fill="#ffcf08"/>
<rect x="621.06" y="285.94" width="26.74" height="2.51" fill="#c8b46a"/>
<rect x="647.81" y="285.94" width="3.59" height="2.51" fill="#828282"/>
<rect x="424.3" y="290.62" width="16.59" height="2.01" fill="#0a0af5"/>
<rect x="440.89" y="290.62" width="7.52" height="2.01" fill="#ffe994"/>
<rect x="448.41" y="290.62" width="196.05" height="2.01" fill="#ffcf08"/>
<rect x="644.46" y="290.62" width="6.94" height="2.01" fill="#828282"/>
<rect x="424.3" y="292.62" width="50.86" height="2.17" fill="#0a0af5"/>
<rect x="475.16" y="292.62" width="13.37" height="2.17" fill="#c8b46a"/>
<rect x="488.53" y="292.62" width="10.03" height="2.17" fill="#ffe994"/>
<rect x="498.56" y="292.62" width="145.91" height="2.17" fill="#ffcf08"/>
<rect x="644.46" y="292.62" width="6.94" height="2.17" fill="#828282"/>
<rect x="424.3" y="298.47" width="61.72" height="1.34" fill="#0a0af5"/>
<rect x="486.02" y="298.47" width="5.01" height="1.34" fill="#f50a0a"/>
<rect x="491.03" y="298.47" width="7.52" height="1.34" fill="#ffe994"/>
<rect x="498.56" y="298.47" width="138.39" height="1.34" fill="#ffcf08"/>
<rect x="636.94" y="298.47" width="14.46" height="1.34" fill="#828282"/>
<rect x="424.3" y="299.81" width="37.49" height="1.17" fill="#0a0af5"/>
<rect x="461.79" y="299.81" width="11.7" height="1.17" fill="#ffe994"/>
<rect x="473.48" y="299.81" width="12.54" height="1.17" fill="#0a0af5"/>
<rect x="486.02" y="299.81" width="11.7" height="1.17" fill="#ff7f7f"/>
<rect x="497.72" y="299.81" width="15.04" height="1.17" fill="#ffe994"/>
<rect x="512.76" y="299.81" width="111.64" height="1.17" fill="#ffcf08"/>
<rect x="624.41" y="299.81" width="12.54" height="1.17" fill="#c8b46a"/>
<rect x="636.94" y="299.81" width="14.46" height="1.17" fill="#828282"/>
<rect x="424.3" y="302.82" width="55.03" height="2.01" fill="#0a0af5"/>
<rect x="479.33" y="302.82" width="18.39" height="2.01" fill="#f50a0a"/>
<rect x="497.72" y="302.82" width="17.55" height="2.01" fill="#ffe994"/>
<rect x="515.27" y="302.82" width="128.69" height="2.01" fill="#ffcf08"/>
<rect x="643.96" y="302.82" width="7.44" height="2.01" fill="#828282"/>
<rect x="424.3" y="305.66" width="38.32" height="2.34" fill="#0a0af5"/>
<rect x="462.62" y="305.66" width="6.69" height="2.34" fill="#f50a0a"/>
<rect x="469.31" y="305.66" width="22.56" height="2.34" fill="#ffe994"/>
<rect x="491.87" y="305.66" width="156.77" height="2.34" fill="#ffcf08"/>
<rect x="648.64" y="305.66" width="2.76" height="2.34" fill="#828282"/>
<rect x="424.3" y="310.67" width="8.24" height="1.5" fill="#0a0af5"/>
<rect x="432.54" y="310.67" width="13.37" height="1.5" fill="#f50a0a"/>
<rect x="445.91" y="310.67" width="20.06" height="1.5" fill="#ffe994"/>
<rect x="465.96" y="310.67" width="181.01" height="1.5" fill="#ffcf08"/>
<rect x="646.97" y="310.67" width="4.43" height="1.5" fill="#828282"/>
<rect x="424.3" y="317.19" width="26.62" height="2.01" fill="#0a0af5"/>
<rect x="450.92" y="317.19" width="84.41" height="2.01" fill="#f50a0a"/>
<rect x="535.33" y="317.19" width="16.37" height="2.01" fill="#ffe994"/>
<rect x="551.7" y="317.19" width="99.7" height="2.01" fill="#ffcf08"/>
<rect x="424.3" y="319.2" width="10.74" height="1.67" fill="#0a0af5"/>
<rect x="435.04" y="319.2" width="12.54" height="1.67" fill="#ffe994"/>
<rect x="447.58" y="319.2" width="5.85" height="1.67" fill="#ffcf08"/>
<rect x="453.43" y="319.2" width="78.56" height="1.67" fill="#f50a0a"/>
<rect x="531.98" y="319.2" width="119.42" height="1.67" fill="#ffcf08"/>
<rect x="424.3" y="322.04" width="18.26" height="2.01" fill="#0a0af5"/>
<rect x="442.56" y="322.04" width="5.85" height="2.01" fill="#f50a0a"/>
<rect x="448.41" y="322.04" width="19.22" height="2.01" fill="#ffe994"/>
<rect x="467.63" y="322.04" width="183.77" height="2.01" fill="#ffcf08"/>
<rect x="424.3" y="331.23" width="35.31" height="1.5" fill="#0a0af5"/>
<rect x="459.61" y="331.23" width="16.38" height="1.5" fill="#ffe994"/>
<rect x="475.99" y="331.23" width="31.76" height="1.5" fill="#ffe994"/>
<rect x="507.75" y="331.23" width="143.65" height="1.5" fill="#ffcf08"/>
<rect x="424.3" y="332.73" width="27.46" height="1.67" fill="#0a0af5"/>
<rect x="451.76" y="332.73" width="23.4" height="1.67" fill="#f50a0a"/>
<rect x="475.16" y="332.73" width="32.59" height="1.67" fill="#ffe994"/>
<rect x="507.75" y="332.73" width="143.65" height="1.67" fill="#ffcf08"/>
<rect x="424.3" y="343.98" width="45.94" height="2.71" fill="#0a0af5"/>
<rect x="470.24" y="343.98" width="3.07" height="2.71" fill="#f50a0a"/>
<rect x="473.31" y="343.98" width="31.63" height="2.71" fill="#ffe994"/>
<rect x="504.94" y="343.98" width="146.46" height="2.71" fill="#ffcf08"/>
<rect x="424.3" y="359.16" width="23.71" height="1.81" fill="#0a0af5"/>
<rect x="448.01" y="359.16" width="134.82" height="1.81" fill="#f50a0a"/>
<rect x="582.83" y="359.16" width="24.04" height="1.81" fill="#ffe994"/>
<rect x="606.87" y="359.16" width="42.47" height="1.81" fill="#ffcf08"/>
<rect x="649.34" y="359.16" width="2.06" height="1.81" fill="#828282"/>
<rect x="424.3" y="362.05" width="33.65" height="2.17" fill="#0a0af5"/>
<rect x="457.95" y="362.05" width="3.25" height="2.17" fill="#f50a0a"/>
<rect x="461.2" y="362.05" width="51.87" height="2.17" fill="#ffe994"/>
<rect x="513.07" y="362.05" width="138.33" height="2.17" fill="#ffcf08"/>
<rect x="424.3" y="370.72" width="19.19" height="2.17" fill="#0a0af5"/>
<rect x="443.49" y="370.72" width="59.28" height="2.17" fill="#f50a0a"/>
<rect x="502.77" y="370.72" width="32.89" height="2.17" fill="#ffe994"/>
<rect x="535.66" y="370.72" width="115.74" height="2.17" fill="#ffcf08"/>
<rect x="424.3" y="397.83" width="61.66" height="2.17" fill="#0a0af5"/>
<rect x="485.96" y="397.83" width="54.04" height="2.17" fill="#ffe994"/>
<rect x="540" y="397.83" width="111.4" height="2.17" fill="#ffcf08"/>
<rect x="424.3" y="401.08" width="66.54" height="2.53" fill="#0a0af5"/>
<rect x="490.84" y="401.08" width="1.81" height="2.53" fill="#f50a0a"/>
<rect x="492.65" y="401.08" width="65.42" height="2.53" fill="#ffe994"/>
<rect x="558.07" y="401.08" width="93.33" height="2.53" fill="#ffcf08"/>
<rect x="424.3" y="405.96" width="27.33" height="1.99" fill="#0a0af5"/>
<rect x="451.63" y="405.96" width="40.66" height="1.99" fill="#ffe994"/>
<rect x="492.29" y="405.96" width="159.11" height="1.99" fill="#ffcf08"/>
<rect x="424.3" y="409.76" width="81.54" height="2.17" fill="#0a0af5"/>
<rect x="505.84" y="409.76" width="1.81" height="2.17" fill="#f50a0a"/>
<rect x="507.65" y="409.76" width="59.46" height="2.17" fill="#ffe994"/>
<rect x="567.11" y="409.76" width="84.29" height="2.17" fill="#ffcf08"/>
<rect x="424.3" y="415.9" width="79.74" height="3.07" fill="#0a0af5"/>
<rect x="504.04" y="415.9" width="108.25" height="3.07" fill="#ffe994"/>
<rect x="612.29" y="415.9" width="39.11" height="3.07" fill="#ffcf08"/>
<rect x="424.3" y="418.98" width="74.31" height="1.45" fill="#0a0af5"/>
<rect x="498.61" y="418.98" width="33.43" height="1.45" fill="#9a9ec4"/>
<rect x="532.05" y="418.98" width="5.42" height="1.45" fill="#ff7f7f"/>
<rect x="537.47" y="418.98" width="63.98" height="1.45" fill="#ffe994"/>
<rect x="601.45" y="418.98" width="49.95" height="1.45" fill="#ffcf08"/>
<rect x="424.3" y="420.42" width="74.31" height="2.71" fill="#0a0af5"/>
<rect x="498.61" y="420.42" width="102.83" height="2.71" fill="#ffe994"/>
<rect x="601.45" y="420.42" width="49.95" height="2.71" fill="#ffcf08"/>
<rect x="424.3" y="423.13" width="67.99" height="2.35" fill="#0a0af5"/>
<rect x="492.29" y="423.13" width="109.16" height="2.35" fill="#ffe994"/>
<rect x="601.45" y="423.13" width="49.95" height="2.35" fill="#ffcf08"/>
<rect x="424.3" y="425.48" width="67.99" height="1.45" fill="#0a0af5"/>
<rect x="492.29" y="425.48" width="109.16" height="1.45" fill="#ffe994"/>
<rect x="601.45" y="425.48" width="49.95" height="1.45" fill="#ffcf08"/>
<rect x="424.3" y="426.93" width="53.17" height="1.45" fill="#0a0af5"/>
<rect x="477.47" y="426.93" width="123.98" height="1.45" fill="#ffe994"/>
<rect x="601.45" y="426.93" width="49.95" height="1.45" fill="#ffcf08"/>
<rect x="424.3" y="428.92" width="61.66" height="2.35" fill="#0a0af5"/>
<rect x="485.96" y="428.92" width="8.13" height="2.35" fill="#f50a0a"/>
<rect x="494.1" y="428.92" width="103.73" height="2.35" fill="#ffe994"/>
<rect x="597.83" y="428.92" width="53.57" height="2.35" fill="#ffcf08"/>
<rect x="424.3" y="431.27" width="48.11" height="1.81" fill="#0a0af5"/>
<rect x="472.41" y="431.27" width="5.42" height="1.81" fill="#ffe994"/>
<rect x="477.83" y="431.27" width="2.71" height="1.81" fill="#f50a0a"/>
<rect x="480.54" y="431.27" width="106.45" height="1.81" fill="#ffe994"/>
<rect x="586.99" y="431.27" width="64.41" height="1.81" fill="#ffcf08"/>
<rect x="424.3" y="433.07" width="86.06" height="1.45" fill="#0a0af5"/>
<rect x="510.36" y="433.07" width="101.93" height="1.45" fill="#ffe994"/>
<rect x="612.29" y="433.07" width="39.11" height="1.45" fill="#ffcf08"/>
<rect x="424.3" y="434.52" width="89.68" height="1.45" fill="#0a0af5"/>
<rect x="513.98" y="434.52" width="3.61" height="1.45" fill="#f50a0a"/>
<rect x="517.59" y="434.52" width="100.12" height="1.45" fill="#ffe994"/>
<rect x="617.71" y="434.52" width="33.69" height="1.45" fill="#ffcf08"/>
<rect x="424.3" y="436.69" width="48.11" height="0.9" fill="#0a0af5"/>
<rect x="472.41" y="436.69" width="125.42" height="0.9" fill="#ffe994"/>
<rect x="597.83" y="436.69" width="53.57" height="0.9" fill="#ffcf08"/>
<rect x="424.3" y="437.59" width="70.7" height="1.81" fill="#0a0af5"/>
<rect x="495" y="437.59" width="102.83" height="1.81" fill="#ffe994"/>
<rect x="597.83" y="437.59" width="53.57" height="1.81" fill="#ffcf08"/>
<rect x="424.3" y="439.4" width="50.82" height="1.45" fill="#0a0af5"/>
<rect x="475.12" y="439.4" width="110.96" height="1.45" fill="#ffe994"/>
<rect x="586.08" y="439.4" width="65.32" height="1.45" fill="#ffcf08"/>
<rect x="424.3" y="440.84" width="55.34" height="2.53" fill="#0a0af5"/>
<rect x="479.64" y="440.84" width="7.23" height="2.53" fill="#9a9ec4"/>
<rect x="486.87" y="440.84" width="121.81" height="2.53" fill="#ffe994"/>
<rect x="608.67" y="440.84" width="42.73" height="2.53" fill="#ffcf08"/>
<rect x="424.3" y="443.37" width="3.83" height="1.45" fill="#0a0af5"/>
<rect x="428.13" y="443.37" width="2.71" height="1.45" fill="#f50a0a"/>
<rect x="430.84" y="443.37" width="13.55" height="1.45" fill="#0a0af5"/>
<rect x="444.4" y="443.37" width="164.28" height="1.45" fill="#ffe994"/>
<rect x="608.67" y="443.37" width="42.73" height="1.45" fill="#ffcf08"/>
<rect x="424.3" y="444.82" width="2.93" height="1.27" fill="#0a0af5"/>
<rect x="427.23" y="444.82" width="3.61" height="1.27" fill="#ffe994"/>
<rect x="430.84" y="444.82" width="43.37" height="1.27" fill="#0a0af5"/>
<rect x="474.22" y="444.82" width="165.18" height="1.27" fill="#ffe994"/>
<rect x="639.4" y="444.82" width="12" height="1.27" fill="#ffcf08"/>
<rect x="424.3" y="446.08" width="22.81" height="2.35" fill="#0a0af5"/>
<rect x="447.11" y="446.08" width="179.64" height="2.35" fill="#ffe994"/>
<rect x="626.75" y="446.08" width="24.65" height="2.35" fill="#ffcf08"/>
<rect x="424.3" y="448.43" width="31.84" height="2.17" fill="#0a0af5"/>
<rect x="456.14" y="448.43" width="2.71" height="2.17" fill="#ffe994"/>
<rect x="458.86" y="448.43" width="3.61" height="2.17" fill="#f50a0a"/>
<rect x="462.47" y="448.43" width="158.86" height="2.17" fill="#ffe994"/>
<rect x="621.33" y="448.43" width="30.07" height="2.17" fill="#ffcf08"/>
<rect x="424.3" y="450.6" width="15.58" height="2.35" fill="#0a0af5"/>
<rect x="439.88" y="450.6" width="2.71" height="2.35" fill="#f50a0a"/>
<rect x="442.59" y="450.6" width="169.7" height="2.35" fill="#ffe994"/>
<rect x="612.29" y="450.6" width="36.14" height="2.35" fill="#ffcf08"/>
<rect x="648.43" y="450.6" width="2.97" height="2.35" fill="#828282"/>
<rect x="419.2" y="210.6" width="21" height="7.2" fill="#ffcf08" stroke="#999" stroke-width="0.4"/>
<text class="lg" transform="translate(442.8 217.5) scale(1.09 1)">Au(sp)</text>
<rect x="488.3" y="210.6" width="21" height="7.2" fill="#ffe994" stroke="#999" stroke-width="0.4"/>
<text class="lg" transform="translate(511.9 217.5) scale(1.09 1)">Au(d)</text>
<rect x="553.2" y="210.6" width="21" height="7.2" fill="#828282" stroke="#999" stroke-width="0.4"/>
<text class="lg" transform="translate(576.8 217.5) scale(1.09 1)">CH</text>
<rect x="419.2" y="231.2" width="21" height="7.2" fill="#f50a0a" stroke="#999" stroke-width="0.4"/>
<text class="lg" transform="translate(442.8 238.1) scale(1.09 1)">Ag(sp)</text>
<rect x="488.3" y="231.2" width="21" height="7.2" fill="#ff7f7f" stroke="#999" stroke-width="0.4"/>
<text class="lg" transform="translate(511.9 238.1) scale(1.09 1)">Ag(d)</text>
<rect x="553.2" y="231.2" width="21" height="7.2" fill="#0a0af5" stroke="#999" stroke-width="0.4"/>
<text class="lg" transform="translate(576.8 238.1) scale(1.09 1)">S</text>
<text x="400.5" y="356.5" font-size="11.9" font-weight="bold" fill="#000" text-anchor="middle">-3.79</text>
<text x="400.3" y="371.5" font-size="11.9" font-weight="bold" fill="#000" text-anchor="middle">LUMO</text>
<text x="401.4" y="402.6" font-size="11.9" font-weight="bold" fill="#000" text-anchor="middle">HOMO</text>
<text x="401.6" y="418.4" font-size="11.9" font-weight="bold" fill="#000" text-anchor="middle">-4.73</text>
<path d="M447.6 374V396.5" stroke="#111" stroke-width="0.8" fill="none"/><path d="M447.6 372.2L449.9 376.4L447.6 375.5L445.3 376.4ZM447.6 398.2L449.9 394L447.6 394.9L445.3 394Z" fill="#111"/>
<text x="455" y="389.3" font-size="15.6" font-weight="bold" fill="#fa0505"><tspan font-style="italic">E</tspan><tspan font-size="10.5" dy="3">g</tspan><tspan dy="-3"> = 0.94 eV</tspan></text>
<text x="668.5" y="451.8" font-size="30" font-weight="bold" fill="#111">b</text>
</g>
<g id="wm">
<g fill="#fff" stroke="#d2d2d2" stroke-width="0.9">
<path d="M601.3 621.0c-4.6 0-8.2 3.3-8.2 7.4 0 2.3 1.2 4.4 3.1 5.8l-0.9 2.7 3.1-1.6c0.9 0.3 1.9 0.4 2.9 0.4 4.6 0 8.2-3.3 8.2-7.3 0-4.1-3.6-7.4-8.2-7.4z"/>
<path d="M613.2 627.4c-4.4 0-8 3-8 6.8 0 3.7 3.6 6.8 8 6.8 0.9 0 1.8-0.1 2.6-0.4l2.7 1.5-0.7-2.4c2-1.2 3.4-3.2 3.4-5.5 0-3.8-3.6-6.8-8-6.8z"/>
</g>
<g fill="#d0d0d0"><circle cx="598.6" cy="626.2" r="0.9"/><circle cx="604" cy="626.2" r="0.9"/><circle cx="610.6" cy="632.4" r="0.8"/><circle cx="615.6" cy="632.4" r="0.8"/></g>
<g fill="none" stroke="#e2e2e2" stroke-width="1.3" stroke-linecap="round" stroke-linejoin="round">
<path transform="translate(629.90 624.90) scale(1.031)" d="M1.2 1.2H14.8V15.2H1.2Z M3.5 5.5H12.5 M9.2 3V12.2L7.6 11.6 M8.8 6L4 11"/>
<path transform="translate(646.50 624.90) scale(1.031)" d="M3 0.4L1.5 3 M2.5 1.8H6.6 M4.5 2L5 3.5 M10 0.4L8.5 3 M9.5 1.8H14.6 M11.5 2L12 3.5 M3.6 4.4L4.1 5.6 M0.8 6.3H7.3 M3.6 6.3Q3.4 11.5 0.9 15.2 M3.5 9H6.6Q6.6 14 6 15L4.8 14.4 M9.6 4.4L8 7.6 M9 5.9H15.2 M10.2 8L9 10.2 M9.6 9H14.6 M8 11.6H15.6 M12 9Q11.8 13.5 8.4 15.6 M12.2 11.8L15.6 15.6"/>
<path transform="translate(663.10 624.90) scale(1.031)" d="M6.2 0.9L1.8 2.6 M0.8 5H7.6 M4.2 2.2V15.7 M4.2 5.6L0.8 11 M4.3 5.8L7.3 9.4 M9.6 3L10.9 4.5 M9 7L10.5 8.5 M8 11.2L15.8 10 M13 0.7V15.8"/>
<path transform="translate(679.70 624.90) scale(1.031)" d="M3.5 0.9L4.6 3.5 M7.5 0.4L8.3 3 M12.6 0.7L11 3.5 M1.5 4.6L1.2 7 M1.5 4.8H14.6L13.6 7 M4 7.6H12.2L8.4 9.9 M8.3 9.8V15.3L6.4 14.6 M0.8 11.4H15.6"/>
</g>
<g fill="none" stroke="#606060" stroke-width="1.15" stroke-linecap="round" stroke-linejoin="round">
<path transform="translate(629.20 624.20) scale(1.031)" d="M1.2 1.2H14.8V15.2H1.2Z M3.5 5.5H12.5 M9.2 3V12.2L7.6 11.6 M8.8 6L4 11"/>
<path transform="translate(645.80 624.20) scale(1.031)" d="M3 0.4L1.5 3 M2.5 1.8H6.6 M4.5 2L5 3.5 M10 0.4L8.5 3 M9.5 1.8H14.6 M11.5 2L12 3.5 M3.6 4.4L4.1 5.6 M0.8 6.3H7.3 M3.6 6.3Q3.4 11.5 0.9 15.2 M3.5 9H6.6Q6.6 14 6 15L4.8 14.4 M9.6 4.4L8 7.6 M9 5.9H15.2 M10.2 8L9 10.2 M9.6 9H14.6 M8 11.6H15.6 M12 9Q11.8 13.5 8.4 15.6 M12.2 11.8L15.6 15.6"/>
<path transform="translate(662.40 624.20) scale(1.031)" d="M6.2 0.9L1.8 2.6 M0.8 5H7.6 M4.2 2.2V15.7 M4.2 5.6L0.8 11 M4.3 5.8L7.3 9.4 M9.6 3L10.9 4.5 M9 7L10.5 8.5 M8 11.2L15.8 10 M13 0.7V15.8"/>
<path transform="translate(679.00 624.20) scale(1.031)" d="M3.5 0.9L4.6 3.5 M7.5 0.4L8.3 3 M12.6 0.7L11 3.5 M1.5 4.6L1.2 7 M1.5 4.8H14.6L13.6 7 M4 7.6H12.2L8.4 9.9 M8.3 9.8V15.3L6.4 14.6 M0.8 11.4H15.6"/>
</g>
</g>
</svg></body></html>
